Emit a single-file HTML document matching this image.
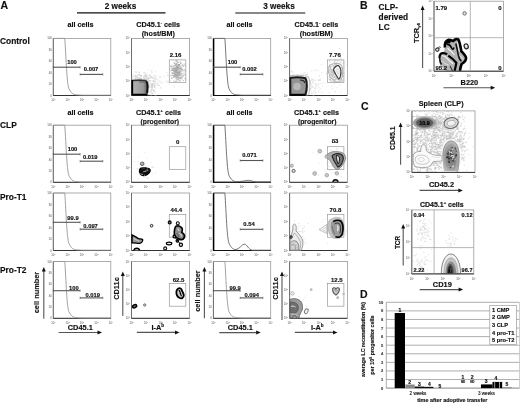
<!DOCTYPE html>
<html><head><meta charset="utf-8"><style>
html,body{margin:0;padding:0;background:#fff;width:520px;height:403px;overflow:hidden}
svg{display:block;filter:blur(0.3px)}
</style></head><body>
<svg width="520" height="403" viewBox="0 0 520 403" font-family="Liberation Sans, Arial, sans-serif">
<rect width="520" height="403" fill="#fff"/>
<text x="0.5" y="9" font-size="10.5" text-anchor="start" font-weight="bold" fill="#111" stroke="#111" stroke-width="0.15" >A</text>
<text x="120.5" y="8.7" font-size="8.2" text-anchor="middle" font-weight="bold" fill="#111" stroke="#111" stroke-width="0.15" >2 weeks</text>
<line x1="77" y1="12.9" x2="165.5" y2="12.9" stroke="#111" stroke-width="1.2"/>
<text x="279" y="8.9" font-size="8.2" text-anchor="middle" font-weight="bold" fill="#111" stroke="#111" stroke-width="0.15" >3 weeks</text>
<line x1="235.3" y1="13" x2="305.2" y2="13" stroke="#111" stroke-width="1.2"/>
<text x="0" y="44.2" font-size="8.4" text-anchor="start" font-weight="bold" fill="#111" stroke="#111" stroke-width="0.15" >Control</text>
<text x="0" y="127.5" font-size="8.4" text-anchor="start" font-weight="bold" fill="#111" stroke="#111" stroke-width="0.15" >CLP</text>
<text x="0" y="200" font-size="8.4" text-anchor="start" font-weight="bold" fill="#111" stroke="#111" stroke-width="0.15" >Pro-T1</text>
<text x="0" y="272.5" font-size="8.4" text-anchor="start" font-weight="bold" fill="#111" stroke="#111" stroke-width="0.15" >Pro-T2</text>
<text x="80.5" y="27.2" font-size="7.2" text-anchor="middle" font-weight="bold" fill="#111" stroke="#111" stroke-width="0.15" >all cells</text>
<text x="239.5" y="27.2" font-size="7.2" text-anchor="middle" font-weight="bold" fill="#111" stroke="#111" stroke-width="0.15" >all cells</text>
<text x="80.5" y="114.5" font-size="7.2" text-anchor="middle" font-weight="bold" fill="#111" stroke="#111" stroke-width="0.15" >all cells</text>
<text x="239.5" y="114.5" font-size="7.2" text-anchor="middle" font-weight="bold" fill="#111" stroke="#111" stroke-width="0.15" >all cells</text>
<text x="158.2" y="26.9" font-size="7.2" text-anchor="middle" font-weight="bold" fill="#111" stroke="#111" stroke-width="0.15" >CD45.1<tspan font-size="4.2" dy="-2.6">-</tspan><tspan dy="2.6"> cells</tspan></text>
<text x="158.3" y="36.0" font-size="7.2" text-anchor="middle" font-weight="bold" fill="#111" stroke="#111" stroke-width="0.15" >(host/BM)</text>
<text x="316.4" y="26.9" font-size="7.2" text-anchor="middle" font-weight="bold" fill="#111" stroke="#111" stroke-width="0.15" >CD45.1<tspan font-size="4.2" dy="-2.6">-</tspan><tspan dy="2.6"> cells</tspan></text>
<text x="316.4" y="36.0" font-size="7.2" text-anchor="middle" font-weight="bold" fill="#111" stroke="#111" stroke-width="0.15" >(host/BM)</text>
<text x="158.5" y="114.5" font-size="7.2" text-anchor="middle" font-weight="bold" fill="#111" stroke="#111" stroke-width="0.15" >CD45.1<tspan font-size="4.2" dy="-2.6">+</tspan><tspan dy="2.6"> cells</tspan></text>
<text x="159.8" y="123.7" font-size="6.8" text-anchor="middle" font-weight="bold" fill="#111" stroke="#111" stroke-width="0.15" >(progenitor)</text>
<text x="316.5" y="114.5" font-size="7.2" text-anchor="middle" font-weight="bold" fill="#111" stroke="#111" stroke-width="0.15" >CD45.1<tspan font-size="4.2" dy="-2.6">+</tspan><tspan dy="2.6"> cells</tspan></text>
<text x="317.2" y="123.7" font-size="6.8" text-anchor="middle" font-weight="bold" fill="#111" stroke="#111" stroke-width="0.15" >(progenitor)</text>
<rect x="53.3" y="38.4" width="57.5" height="57.1" stroke="#9a9a9a" stroke-width="0.8" fill="none"/>
<line x1="53.3" y1="38.4" x2="53.3" y2="95.5" stroke="#666" stroke-width="0.9"/>
<line x1="53.3" y1="95.5" x2="110.8" y2="95.5" stroke="#333" stroke-width="1.0"/>
<text x="53.3" y="101.1" font-size="2.8" text-anchor="middle" font-weight="normal" fill="#555" >10<tspan font-size="2" dy="-1">0</tspan></text>
<text x="67.7" y="101.1" font-size="2.8" text-anchor="middle" font-weight="normal" fill="#555" >10<tspan font-size="2" dy="-1">1</tspan></text>
<text x="82.0" y="101.1" font-size="2.8" text-anchor="middle" font-weight="normal" fill="#555" >10<tspan font-size="2" dy="-1">2</tspan></text>
<text x="96.4" y="101.1" font-size="2.8" text-anchor="middle" font-weight="normal" fill="#555" >10<tspan font-size="2" dy="-1">3</tspan></text>
<text x="110.8" y="101.1" font-size="2.8" text-anchor="middle" font-weight="normal" fill="#555" >10<tspan font-size="2" dy="-1">4</tspan></text>
<text x="51.8" y="96.5" font-size="2.8" text-anchor="end" font-weight="normal" fill="#555" >0</text>
<text x="51.8" y="85.1" font-size="2.8" text-anchor="end" font-weight="normal" fill="#555" >20</text>
<text x="51.8" y="73.7" font-size="2.8" text-anchor="end" font-weight="normal" fill="#555" >40</text>
<text x="51.8" y="62.2" font-size="2.8" text-anchor="end" font-weight="normal" fill="#555" >60</text>
<text x="51.8" y="50.8" font-size="2.8" text-anchor="end" font-weight="normal" fill="#555" >80</text>
<text x="51.8" y="39.4" font-size="2.8" text-anchor="end" font-weight="normal" fill="#555" >100</text>
<path d="M53.3,38.4 H64.8 C66.1,58.4 66.8,82.4 68.8,88.4 C70.8,93.0 73.3,94.6 76.3,94.8 C79.3,95.0 81.3,95.2 83.3,95.2 H110.8" stroke="#999" stroke-width="0.9" fill="none" />
<line x1="53.3" y1="67.2" x2="80.1" y2="67.2" stroke="#555" stroke-width="1.1"/>
<line x1="53.3" y1="66.0" x2="53.3" y2="68.4" stroke="#555" stroke-width="0.6"/>
<line x1="80.1" y1="66.0" x2="80.1" y2="68.4" stroke="#555" stroke-width="0.6"/>
<text x="72.0" y="63.8" font-size="5.8" text-anchor="middle" font-weight="bold" fill="#111" stroke="#111" stroke-width="0.15" >100</text>
<line x1="80.1" y1="74.4" x2="102.8" y2="74.4" stroke="#555" stroke-width="1.1"/>
<line x1="80.1" y1="73.2" x2="80.1" y2="75.60000000000001" stroke="#555" stroke-width="0.6"/>
<line x1="102.8" y1="73.2" x2="102.8" y2="75.60000000000001" stroke="#555" stroke-width="0.6"/>
<text x="91.1" y="71.4" font-size="5.8" text-anchor="middle" font-weight="bold" fill="#111" stroke="#111" stroke-width="0.15" >0.007</text>
<rect x="53.3" y="125.2" width="57.5" height="57.10000000000001" stroke="#9a9a9a" stroke-width="0.8" fill="none"/>
<line x1="53.3" y1="125.2" x2="53.3" y2="182.3" stroke="#666" stroke-width="0.9"/>
<line x1="53.3" y1="182.3" x2="110.8" y2="182.3" stroke="#333" stroke-width="1.0"/>
<text x="53.3" y="187.9" font-size="2.8" text-anchor="middle" font-weight="normal" fill="#555" >10<tspan font-size="2" dy="-1">0</tspan></text>
<text x="67.7" y="187.9" font-size="2.8" text-anchor="middle" font-weight="normal" fill="#555" >10<tspan font-size="2" dy="-1">1</tspan></text>
<text x="82.0" y="187.9" font-size="2.8" text-anchor="middle" font-weight="normal" fill="#555" >10<tspan font-size="2" dy="-1">2</tspan></text>
<text x="96.4" y="187.9" font-size="2.8" text-anchor="middle" font-weight="normal" fill="#555" >10<tspan font-size="2" dy="-1">3</tspan></text>
<text x="110.8" y="187.9" font-size="2.8" text-anchor="middle" font-weight="normal" fill="#555" >10<tspan font-size="2" dy="-1">4</tspan></text>
<text x="51.8" y="183.3" font-size="2.8" text-anchor="end" font-weight="normal" fill="#555" >0</text>
<text x="51.8" y="171.9" font-size="2.8" text-anchor="end" font-weight="normal" fill="#555" >20</text>
<text x="51.8" y="160.5" font-size="2.8" text-anchor="end" font-weight="normal" fill="#555" >40</text>
<text x="51.8" y="149.0" font-size="2.8" text-anchor="end" font-weight="normal" fill="#555" >60</text>
<text x="51.8" y="137.6" font-size="2.8" text-anchor="end" font-weight="normal" fill="#555" >80</text>
<text x="51.8" y="126.2" font-size="2.8" text-anchor="end" font-weight="normal" fill="#555" >100</text>
<path d="M53.3,125.2 H64.8 C66.1,145.2 66.8,169.2 68.8,175.2 C70.8,179.8 73.3,181.4 76.3,181.60000000000002 C79.3,181.8 81.3,182.0 83.3,182.0 H110.8" stroke="#999" stroke-width="0.9" fill="none" />
<line x1="53.3" y1="154.2" x2="80.1" y2="154.2" stroke="#555" stroke-width="1.1"/>
<line x1="53.3" y1="153.0" x2="53.3" y2="155.39999999999998" stroke="#555" stroke-width="0.6"/>
<line x1="80.1" y1="153.0" x2="80.1" y2="155.39999999999998" stroke="#555" stroke-width="0.6"/>
<text x="72.5" y="151.0" font-size="5.8" text-anchor="middle" font-weight="bold" fill="#111" stroke="#111" stroke-width="0.15" >100</text>
<line x1="80.1" y1="161.2" x2="102.8" y2="161.2" stroke="#555" stroke-width="1.1"/>
<line x1="80.1" y1="160.0" x2="80.1" y2="162.39999999999998" stroke="#555" stroke-width="0.6"/>
<line x1="102.8" y1="160.0" x2="102.8" y2="162.39999999999998" stroke="#555" stroke-width="0.6"/>
<text x="90.3" y="158.6" font-size="5.8" text-anchor="middle" font-weight="bold" fill="#111" stroke="#111" stroke-width="0.15" >0.019</text>
<rect x="53.3" y="193" width="57.5" height="57.5" stroke="#9a9a9a" stroke-width="0.8" fill="none"/>
<line x1="53.3" y1="193" x2="53.3" y2="250.5" stroke="#666" stroke-width="0.9"/>
<line x1="53.3" y1="250.5" x2="110.8" y2="250.5" stroke="#333" stroke-width="1.0"/>
<text x="53.3" y="256.1" font-size="2.8" text-anchor="middle" font-weight="normal" fill="#555" >10<tspan font-size="2" dy="-1">0</tspan></text>
<text x="67.7" y="256.1" font-size="2.8" text-anchor="middle" font-weight="normal" fill="#555" >10<tspan font-size="2" dy="-1">1</tspan></text>
<text x="82.0" y="256.1" font-size="2.8" text-anchor="middle" font-weight="normal" fill="#555" >10<tspan font-size="2" dy="-1">2</tspan></text>
<text x="96.4" y="256.1" font-size="2.8" text-anchor="middle" font-weight="normal" fill="#555" >10<tspan font-size="2" dy="-1">3</tspan></text>
<text x="110.8" y="256.1" font-size="2.8" text-anchor="middle" font-weight="normal" fill="#555" >10<tspan font-size="2" dy="-1">4</tspan></text>
<text x="51.8" y="251.5" font-size="2.8" text-anchor="end" font-weight="normal" fill="#555" >0</text>
<text x="51.8" y="240.0" font-size="2.8" text-anchor="end" font-weight="normal" fill="#555" >20</text>
<text x="51.8" y="228.5" font-size="2.8" text-anchor="end" font-weight="normal" fill="#555" >40</text>
<text x="51.8" y="217.0" font-size="2.8" text-anchor="end" font-weight="normal" fill="#555" >60</text>
<text x="51.8" y="205.5" font-size="2.8" text-anchor="end" font-weight="normal" fill="#555" >80</text>
<text x="51.8" y="194.0" font-size="2.8" text-anchor="end" font-weight="normal" fill="#555" >100</text>
<path d="M53.3,193 H64.8 C66.1,213 66.8,237 68.8,243 C70.8,248.0 73.3,249.6 76.3,249.8 C79.3,250.0 81.3,250.2 83.3,250.2 H110.8" stroke="#999" stroke-width="0.9" fill="none" />
<line x1="53.3" y1="222.3" x2="80.1" y2="222.3" stroke="#555" stroke-width="1.1"/>
<line x1="53.3" y1="221.10000000000002" x2="53.3" y2="223.5" stroke="#555" stroke-width="0.6"/>
<line x1="80.1" y1="221.10000000000002" x2="80.1" y2="223.5" stroke="#555" stroke-width="0.6"/>
<text x="73.0" y="219.6" font-size="5.8" text-anchor="middle" font-weight="bold" fill="#111" stroke="#111" stroke-width="0.15" >99.9</text>
<line x1="80.1" y1="229.2" x2="102.8" y2="229.2" stroke="#555" stroke-width="1.1"/>
<line x1="80.1" y1="228.0" x2="80.1" y2="230.39999999999998" stroke="#555" stroke-width="0.6"/>
<line x1="102.8" y1="228.0" x2="102.8" y2="230.39999999999998" stroke="#555" stroke-width="0.6"/>
<text x="90.6" y="227.9" font-size="5.8" text-anchor="middle" font-weight="bold" fill="#111" stroke="#111" stroke-width="0.15" >0.097</text>
<rect x="53.3" y="261.5" width="57.5" height="56.80000000000001" stroke="#9a9a9a" stroke-width="0.8" fill="none"/>
<line x1="53.3" y1="261.5" x2="53.3" y2="318.3" stroke="#666" stroke-width="0.9"/>
<line x1="53.3" y1="318.3" x2="110.8" y2="318.3" stroke="#333" stroke-width="1.0"/>
<text x="53.3" y="323.9" font-size="2.8" text-anchor="middle" font-weight="normal" fill="#555" >10<tspan font-size="2" dy="-1">0</tspan></text>
<text x="67.7" y="323.9" font-size="2.8" text-anchor="middle" font-weight="normal" fill="#555" >10<tspan font-size="2" dy="-1">1</tspan></text>
<text x="82.0" y="323.9" font-size="2.8" text-anchor="middle" font-weight="normal" fill="#555" >10<tspan font-size="2" dy="-1">2</tspan></text>
<text x="96.4" y="323.9" font-size="2.8" text-anchor="middle" font-weight="normal" fill="#555" >10<tspan font-size="2" dy="-1">3</tspan></text>
<text x="110.8" y="323.9" font-size="2.8" text-anchor="middle" font-weight="normal" fill="#555" >10<tspan font-size="2" dy="-1">4</tspan></text>
<text x="51.8" y="319.3" font-size="2.8" text-anchor="end" font-weight="normal" fill="#555" >0</text>
<text x="51.8" y="307.9" font-size="2.8" text-anchor="end" font-weight="normal" fill="#555" >20</text>
<text x="51.8" y="296.6" font-size="2.8" text-anchor="end" font-weight="normal" fill="#555" >40</text>
<text x="51.8" y="285.2" font-size="2.8" text-anchor="end" font-weight="normal" fill="#555" >60</text>
<text x="51.8" y="273.9" font-size="2.8" text-anchor="end" font-weight="normal" fill="#555" >80</text>
<text x="51.8" y="262.5" font-size="2.8" text-anchor="end" font-weight="normal" fill="#555" >100</text>
<path d="M53.3,261.5 H64.8 C66.1,281.5 66.8,305.5 68.8,311.5 C70.8,315.8 73.3,317.40000000000003 76.3,317.6 C79.3,317.8 81.3,318.0 83.3,318.0 H110.8" stroke="#999" stroke-width="0.9" fill="none" />
<line x1="53.3" y1="290.7" x2="80.1" y2="290.7" stroke="#555" stroke-width="1.1"/>
<line x1="53.3" y1="289.5" x2="53.3" y2="291.9" stroke="#555" stroke-width="0.6"/>
<line x1="80.1" y1="289.5" x2="80.1" y2="291.9" stroke="#555" stroke-width="0.6"/>
<text x="73.9" y="289.6" font-size="5.8" text-anchor="middle" font-weight="bold" fill="#111" stroke="#111" stroke-width="0.15" >100</text>
<line x1="80.1" y1="297.9" x2="102.8" y2="297.9" stroke="#555" stroke-width="1.1"/>
<line x1="80.1" y1="296.7" x2="80.1" y2="299.09999999999997" stroke="#555" stroke-width="0.6"/>
<line x1="102.8" y1="296.7" x2="102.8" y2="299.09999999999997" stroke="#555" stroke-width="0.6"/>
<text x="92.7" y="296.5" font-size="5.8" text-anchor="middle" font-weight="bold" fill="#111" stroke="#111" stroke-width="0.15" >0.019</text>
<rect x="213.4" y="38.4" width="57.29999999999998" height="57.1" stroke="#9a9a9a" stroke-width="0.8" fill="none"/>
<line x1="213.4" y1="38.4" x2="213.4" y2="95.5" stroke="#666" stroke-width="0.9"/>
<line x1="213.4" y1="95.5" x2="270.7" y2="95.5" stroke="#333" stroke-width="1.0"/>
<text x="213.4" y="101.1" font-size="2.8" text-anchor="middle" font-weight="normal" fill="#555" >10<tspan font-size="2" dy="-1">0</tspan></text>
<text x="227.7" y="101.1" font-size="2.8" text-anchor="middle" font-weight="normal" fill="#555" >10<tspan font-size="2" dy="-1">1</tspan></text>
<text x="242.1" y="101.1" font-size="2.8" text-anchor="middle" font-weight="normal" fill="#555" >10<tspan font-size="2" dy="-1">2</tspan></text>
<text x="256.4" y="101.1" font-size="2.8" text-anchor="middle" font-weight="normal" fill="#555" >10<tspan font-size="2" dy="-1">3</tspan></text>
<text x="270.7" y="101.1" font-size="2.8" text-anchor="middle" font-weight="normal" fill="#555" >10<tspan font-size="2" dy="-1">4</tspan></text>
<text x="211.9" y="96.5" font-size="2.8" text-anchor="end" font-weight="normal" fill="#555" >0</text>
<text x="211.9" y="85.1" font-size="2.8" text-anchor="end" font-weight="normal" fill="#555" >20</text>
<text x="211.9" y="73.7" font-size="2.8" text-anchor="end" font-weight="normal" fill="#555" >40</text>
<text x="211.9" y="62.2" font-size="2.8" text-anchor="end" font-weight="normal" fill="#555" >60</text>
<text x="211.9" y="50.8" font-size="2.8" text-anchor="end" font-weight="normal" fill="#555" >80</text>
<text x="211.9" y="39.4" font-size="2.8" text-anchor="end" font-weight="normal" fill="#555" >100</text>
<line x1="213.6" y1="38.4" x2="213.6" y2="96.0" stroke="#000" stroke-width="1.5"/>
<line x1="213.4" y1="95.5" x2="270.7" y2="95.5" stroke="#111" stroke-width="1.1"/>
<path d="M213.4,38.4 H224.9 C226.20000000000002,58.4 226.9,82.4 228.9,88.4 C230.9,93.0 233.4,94.6 236.4,94.8 C239.4,95.0 241.4,95.2 243.4,95.2 H270.7" stroke="#666" stroke-width="0.9" fill="none" />
<line x1="213.4" y1="67.2" x2="240.20000000000002" y2="67.2" stroke="#555" stroke-width="1.1"/>
<line x1="213.4" y1="66.0" x2="213.4" y2="68.4" stroke="#555" stroke-width="0.6"/>
<line x1="240.20000000000002" y1="66.0" x2="240.20000000000002" y2="68.4" stroke="#555" stroke-width="0.6"/>
<text x="232.5" y="64.2" font-size="5.8" text-anchor="middle" font-weight="bold" fill="#111" stroke="#111" stroke-width="0.15" >100</text>
<line x1="240.20000000000002" y1="74.3" x2="262.9" y2="74.3" stroke="#555" stroke-width="1.1"/>
<line x1="240.20000000000002" y1="73.1" x2="240.20000000000002" y2="75.5" stroke="#555" stroke-width="0.6"/>
<line x1="262.9" y1="73.1" x2="262.9" y2="75.5" stroke="#555" stroke-width="0.6"/>
<text x="249.5" y="70.7" font-size="5.8" text-anchor="middle" font-weight="bold" fill="#111" stroke="#111" stroke-width="0.15" >0.002</text>
<rect x="213.4" y="125.2" width="57.29999999999998" height="57.10000000000001" stroke="#9a9a9a" stroke-width="0.8" fill="none"/>
<line x1="213.4" y1="125.2" x2="213.4" y2="182.3" stroke="#666" stroke-width="0.9"/>
<line x1="213.4" y1="182.3" x2="270.7" y2="182.3" stroke="#333" stroke-width="1.0"/>
<text x="213.4" y="187.9" font-size="2.8" text-anchor="middle" font-weight="normal" fill="#555" >10<tspan font-size="2" dy="-1">0</tspan></text>
<text x="227.7" y="187.9" font-size="2.8" text-anchor="middle" font-weight="normal" fill="#555" >10<tspan font-size="2" dy="-1">1</tspan></text>
<text x="242.1" y="187.9" font-size="2.8" text-anchor="middle" font-weight="normal" fill="#555" >10<tspan font-size="2" dy="-1">2</tspan></text>
<text x="256.4" y="187.9" font-size="2.8" text-anchor="middle" font-weight="normal" fill="#555" >10<tspan font-size="2" dy="-1">3</tspan></text>
<text x="270.7" y="187.9" font-size="2.8" text-anchor="middle" font-weight="normal" fill="#555" >10<tspan font-size="2" dy="-1">4</tspan></text>
<text x="211.9" y="183.3" font-size="2.8" text-anchor="end" font-weight="normal" fill="#555" >0</text>
<text x="211.9" y="171.9" font-size="2.8" text-anchor="end" font-weight="normal" fill="#555" >20</text>
<text x="211.9" y="160.5" font-size="2.8" text-anchor="end" font-weight="normal" fill="#555" >40</text>
<text x="211.9" y="149.0" font-size="2.8" text-anchor="end" font-weight="normal" fill="#555" >60</text>
<text x="211.9" y="137.6" font-size="2.8" text-anchor="end" font-weight="normal" fill="#555" >80</text>
<text x="211.9" y="126.2" font-size="2.8" text-anchor="end" font-weight="normal" fill="#555" >100</text>
<line x1="213.6" y1="125.2" x2="213.6" y2="182.8" stroke="#000" stroke-width="1.5"/>
<line x1="213.4" y1="182.3" x2="270.7" y2="182.3" stroke="#111" stroke-width="1.1"/>
<path d="M213.4,125.2 H224.9 C226.20000000000002,145.2 226.9,169.2 228.9,175.2 C230.9,179.8 233.4,181.4 236.4,181.60000000000002 L239.4,181.5 C243.4,181.3 245.9,180.3 248.4,180.3 C250.9,180.3 252.4,181.5 256.4,182.0 H270.7" stroke="#666" stroke-width="0.9" fill="none" />
<line x1="240.20000000000002" y1="160.5" x2="262.9" y2="160.5" stroke="#555" stroke-width="1.1"/>
<line x1="240.20000000000002" y1="159.3" x2="240.20000000000002" y2="161.7" stroke="#555" stroke-width="0.6"/>
<line x1="262.9" y1="159.3" x2="262.9" y2="161.7" stroke="#555" stroke-width="0.6"/>
<text x="249.5" y="156.5" font-size="5.8" text-anchor="middle" font-weight="bold" fill="#111" stroke="#111" stroke-width="0.15" >0.071</text>
<rect x="213.4" y="193" width="57.29999999999998" height="57.5" stroke="#9a9a9a" stroke-width="0.8" fill="none"/>
<line x1="213.4" y1="193" x2="213.4" y2="250.5" stroke="#666" stroke-width="0.9"/>
<line x1="213.4" y1="250.5" x2="270.7" y2="250.5" stroke="#333" stroke-width="1.0"/>
<text x="213.4" y="256.1" font-size="2.8" text-anchor="middle" font-weight="normal" fill="#555" >10<tspan font-size="2" dy="-1">0</tspan></text>
<text x="227.7" y="256.1" font-size="2.8" text-anchor="middle" font-weight="normal" fill="#555" >10<tspan font-size="2" dy="-1">1</tspan></text>
<text x="242.1" y="256.1" font-size="2.8" text-anchor="middle" font-weight="normal" fill="#555" >10<tspan font-size="2" dy="-1">2</tspan></text>
<text x="256.4" y="256.1" font-size="2.8" text-anchor="middle" font-weight="normal" fill="#555" >10<tspan font-size="2" dy="-1">3</tspan></text>
<text x="270.7" y="256.1" font-size="2.8" text-anchor="middle" font-weight="normal" fill="#555" >10<tspan font-size="2" dy="-1">4</tspan></text>
<text x="211.9" y="251.5" font-size="2.8" text-anchor="end" font-weight="normal" fill="#555" >0</text>
<text x="211.9" y="240.0" font-size="2.8" text-anchor="end" font-weight="normal" fill="#555" >20</text>
<text x="211.9" y="228.5" font-size="2.8" text-anchor="end" font-weight="normal" fill="#555" >40</text>
<text x="211.9" y="217.0" font-size="2.8" text-anchor="end" font-weight="normal" fill="#555" >60</text>
<text x="211.9" y="205.5" font-size="2.8" text-anchor="end" font-weight="normal" fill="#555" >80</text>
<text x="211.9" y="194.0" font-size="2.8" text-anchor="end" font-weight="normal" fill="#555" >100</text>
<line x1="213.6" y1="193" x2="213.6" y2="251.0" stroke="#000" stroke-width="1.5"/>
<line x1="213.4" y1="250.5" x2="270.7" y2="250.5" stroke="#111" stroke-width="1.1"/>
<path d="M213.4,193 H224.9 C226.20000000000002,213 226.9,237 228.9,243 C230.9,248.0 233.4,249.6 236.4,249.8 L235.4,249.7 C239.4,249.5 241.9,244.1 244.4,244.1 C246.9,244.1 248.4,249.7 252.4,250.2 H270.7" stroke="#666" stroke-width="0.9" fill="none" />
<line x1="240.20000000000002" y1="229.3" x2="262.9" y2="229.3" stroke="#555" stroke-width="1.1"/>
<line x1="240.20000000000002" y1="228.10000000000002" x2="240.20000000000002" y2="230.5" stroke="#555" stroke-width="0.6"/>
<line x1="262.9" y1="228.10000000000002" x2="262.9" y2="230.5" stroke="#555" stroke-width="0.6"/>
<text x="249.0" y="225.7" font-size="5.8" text-anchor="middle" font-weight="bold" fill="#111" stroke="#111" stroke-width="0.15" >0.54</text>
<rect x="213.4" y="261.5" width="57.29999999999998" height="56.80000000000001" stroke="#9a9a9a" stroke-width="0.8" fill="none"/>
<line x1="213.4" y1="261.5" x2="213.4" y2="318.3" stroke="#666" stroke-width="0.9"/>
<line x1="213.4" y1="318.3" x2="270.7" y2="318.3" stroke="#333" stroke-width="1.0"/>
<text x="213.4" y="323.9" font-size="2.8" text-anchor="middle" font-weight="normal" fill="#555" >10<tspan font-size="2" dy="-1">0</tspan></text>
<text x="227.7" y="323.9" font-size="2.8" text-anchor="middle" font-weight="normal" fill="#555" >10<tspan font-size="2" dy="-1">1</tspan></text>
<text x="242.1" y="323.9" font-size="2.8" text-anchor="middle" font-weight="normal" fill="#555" >10<tspan font-size="2" dy="-1">2</tspan></text>
<text x="256.4" y="323.9" font-size="2.8" text-anchor="middle" font-weight="normal" fill="#555" >10<tspan font-size="2" dy="-1">3</tspan></text>
<text x="270.7" y="323.9" font-size="2.8" text-anchor="middle" font-weight="normal" fill="#555" >10<tspan font-size="2" dy="-1">4</tspan></text>
<text x="211.9" y="319.3" font-size="2.8" text-anchor="end" font-weight="normal" fill="#555" >0</text>
<text x="211.9" y="307.9" font-size="2.8" text-anchor="end" font-weight="normal" fill="#555" >20</text>
<text x="211.9" y="296.6" font-size="2.8" text-anchor="end" font-weight="normal" fill="#555" >40</text>
<text x="211.9" y="285.2" font-size="2.8" text-anchor="end" font-weight="normal" fill="#555" >60</text>
<text x="211.9" y="273.9" font-size="2.8" text-anchor="end" font-weight="normal" fill="#555" >80</text>
<text x="211.9" y="262.5" font-size="2.8" text-anchor="end" font-weight="normal" fill="#555" >100</text>
<path d="M213.4,261.5 H224.9 C226.20000000000002,281.5 226.9,305.5 228.9,311.5 C230.9,315.8 233.4,317.40000000000003 236.4,317.6 C239.4,317.8 241.4,318.0 243.4,318.0 H270.7" stroke="#999" stroke-width="0.9" fill="none" />
<line x1="213.4" y1="290.7" x2="240.20000000000002" y2="290.7" stroke="#555" stroke-width="1.1"/>
<line x1="213.4" y1="289.5" x2="213.4" y2="291.9" stroke="#555" stroke-width="0.6"/>
<line x1="240.20000000000002" y1="289.5" x2="240.20000000000002" y2="291.9" stroke="#555" stroke-width="0.6"/>
<text x="235.2" y="290.4" font-size="5.8" text-anchor="middle" font-weight="bold" fill="#111" stroke="#111" stroke-width="0.15" >99.9</text>
<line x1="240.20000000000002" y1="297.9" x2="262.9" y2="297.9" stroke="#555" stroke-width="1.1"/>
<line x1="240.20000000000002" y1="296.7" x2="240.20000000000002" y2="299.09999999999997" stroke="#555" stroke-width="0.6"/>
<line x1="262.9" y1="296.7" x2="262.9" y2="299.09999999999997" stroke="#555" stroke-width="0.6"/>
<text x="251.8" y="297.4" font-size="5.8" text-anchor="middle" font-weight="bold" fill="#111" stroke="#111" stroke-width="0.15" >0.094</text>
<rect x="131.5" y="38.4" width="58.099999999999994" height="57.1" stroke="#9a9a9a" stroke-width="0.8" fill="none"/>
<line x1="131.5" y1="38.4" x2="131.5" y2="95.5" stroke="#666" stroke-width="0.9"/>
<line x1="131.5" y1="95.5" x2="189.6" y2="95.5" stroke="#333" stroke-width="1.0"/>
<text x="131.5" y="101.1" font-size="2.8" text-anchor="middle" font-weight="normal" fill="#555" >10<tspan font-size="2" dy="-1">0</tspan></text>
<text x="146.0" y="101.1" font-size="2.8" text-anchor="middle" font-weight="normal" fill="#555" >10<tspan font-size="2" dy="-1">1</tspan></text>
<text x="160.6" y="101.1" font-size="2.8" text-anchor="middle" font-weight="normal" fill="#555" >10<tspan font-size="2" dy="-1">2</tspan></text>
<text x="175.1" y="101.1" font-size="2.8" text-anchor="middle" font-weight="normal" fill="#555" >10<tspan font-size="2" dy="-1">3</tspan></text>
<text x="189.6" y="101.1" font-size="2.8" text-anchor="middle" font-weight="normal" fill="#555" >10<tspan font-size="2" dy="-1">4</tspan></text>
<text x="130.0" y="96.5" font-size="2.8" text-anchor="end" font-weight="normal" fill="#555" >10<tspan font-size="2" dy="-1">0</tspan></text>
<text x="130.0" y="82.2" font-size="2.8" text-anchor="end" font-weight="normal" fill="#555" >10<tspan font-size="2" dy="-1">1</tspan></text>
<text x="130.0" y="68.0" font-size="2.8" text-anchor="end" font-weight="normal" fill="#555" >10<tspan font-size="2" dy="-1">2</tspan></text>
<text x="130.0" y="53.7" font-size="2.8" text-anchor="end" font-weight="normal" fill="#555" >10<tspan font-size="2" dy="-1">3</tspan></text>
<text x="130.0" y="39.4" font-size="2.8" text-anchor="end" font-weight="normal" fill="#555" >10<tspan font-size="2" dy="-1">4</tspan></text>
<rect x="169.3" y="59.9" width="16.5" height="22.7" stroke="#999" stroke-width="0.7" fill="none"/>
<text x="175.6" y="56.5" font-size="6.0" text-anchor="middle" font-weight="bold" fill="#111" stroke="#111" stroke-width="0.15" >2.16</text>
<rect x="289.6" y="38.4" width="57.799999999999955" height="57.1" stroke="#9a9a9a" stroke-width="0.8" fill="none"/>
<line x1="289.6" y1="38.4" x2="289.6" y2="95.5" stroke="#666" stroke-width="0.9"/>
<line x1="289.6" y1="95.5" x2="347.4" y2="95.5" stroke="#333" stroke-width="1.0"/>
<text x="289.6" y="101.1" font-size="2.8" text-anchor="middle" font-weight="normal" fill="#555" >10<tspan font-size="2" dy="-1">0</tspan></text>
<text x="304.1" y="101.1" font-size="2.8" text-anchor="middle" font-weight="normal" fill="#555" >10<tspan font-size="2" dy="-1">1</tspan></text>
<text x="318.5" y="101.1" font-size="2.8" text-anchor="middle" font-weight="normal" fill="#555" >10<tspan font-size="2" dy="-1">2</tspan></text>
<text x="332.9" y="101.1" font-size="2.8" text-anchor="middle" font-weight="normal" fill="#555" >10<tspan font-size="2" dy="-1">3</tspan></text>
<text x="347.4" y="101.1" font-size="2.8" text-anchor="middle" font-weight="normal" fill="#555" >10<tspan font-size="2" dy="-1">4</tspan></text>
<text x="288.1" y="96.5" font-size="2.8" text-anchor="end" font-weight="normal" fill="#555" >10<tspan font-size="2" dy="-1">0</tspan></text>
<text x="288.1" y="82.2" font-size="2.8" text-anchor="end" font-weight="normal" fill="#555" >10<tspan font-size="2" dy="-1">1</tspan></text>
<text x="288.1" y="68.0" font-size="2.8" text-anchor="end" font-weight="normal" fill="#555" >10<tspan font-size="2" dy="-1">2</tspan></text>
<text x="288.1" y="53.7" font-size="2.8" text-anchor="end" font-weight="normal" fill="#555" >10<tspan font-size="2" dy="-1">3</tspan></text>
<text x="288.1" y="39.4" font-size="2.8" text-anchor="end" font-weight="normal" fill="#555" >10<tspan font-size="2" dy="-1">4</tspan></text>
<rect x="327.40000000000003" y="59.9" width="16.5" height="22.7" stroke="#999" stroke-width="0.7" fill="none"/>
<text x="334.9" y="56.5" font-size="6.0" text-anchor="middle" font-weight="bold" fill="#111" stroke="#111" stroke-width="0.15" >7.76</text>
<rect x="131.5" y="125.2" width="58.099999999999994" height="57.10000000000001" stroke="#9a9a9a" stroke-width="0.8" fill="none"/>
<line x1="131.5" y1="125.2" x2="131.5" y2="182.3" stroke="#666" stroke-width="0.9"/>
<line x1="131.5" y1="182.3" x2="189.6" y2="182.3" stroke="#333" stroke-width="1.0"/>
<text x="131.5" y="187.9" font-size="2.8" text-anchor="middle" font-weight="normal" fill="#555" >10<tspan font-size="2" dy="-1">0</tspan></text>
<text x="146.0" y="187.9" font-size="2.8" text-anchor="middle" font-weight="normal" fill="#555" >10<tspan font-size="2" dy="-1">1</tspan></text>
<text x="160.6" y="187.9" font-size="2.8" text-anchor="middle" font-weight="normal" fill="#555" >10<tspan font-size="2" dy="-1">2</tspan></text>
<text x="175.1" y="187.9" font-size="2.8" text-anchor="middle" font-weight="normal" fill="#555" >10<tspan font-size="2" dy="-1">3</tspan></text>
<text x="189.6" y="187.9" font-size="2.8" text-anchor="middle" font-weight="normal" fill="#555" >10<tspan font-size="2" dy="-1">4</tspan></text>
<text x="130.0" y="183.3" font-size="2.8" text-anchor="end" font-weight="normal" fill="#555" >10<tspan font-size="2" dy="-1">0</tspan></text>
<text x="130.0" y="169.0" font-size="2.8" text-anchor="end" font-weight="normal" fill="#555" >10<tspan font-size="2" dy="-1">1</tspan></text>
<text x="130.0" y="154.8" font-size="2.8" text-anchor="end" font-weight="normal" fill="#555" >10<tspan font-size="2" dy="-1">2</tspan></text>
<text x="130.0" y="140.5" font-size="2.8" text-anchor="end" font-weight="normal" fill="#555" >10<tspan font-size="2" dy="-1">3</tspan></text>
<text x="130.0" y="126.2" font-size="2.8" text-anchor="end" font-weight="normal" fill="#555" >10<tspan font-size="2" dy="-1">4</tspan></text>
<rect x="169.3" y="146.7" width="16.5" height="22.7" stroke="#999" stroke-width="0.7" fill="none"/>
<text x="177.75" y="143.6" font-size="6.0" text-anchor="middle" font-weight="bold" fill="#111" stroke="#111" stroke-width="0.15" >0</text>
<rect x="289.6" y="125.2" width="57.799999999999955" height="57.10000000000001" stroke="#9a9a9a" stroke-width="0.8" fill="none"/>
<line x1="289.6" y1="125.2" x2="289.6" y2="182.3" stroke="#666" stroke-width="0.9"/>
<line x1="289.6" y1="182.3" x2="347.4" y2="182.3" stroke="#333" stroke-width="1.0"/>
<text x="289.6" y="187.9" font-size="2.8" text-anchor="middle" font-weight="normal" fill="#555" >10<tspan font-size="2" dy="-1">0</tspan></text>
<text x="304.1" y="187.9" font-size="2.8" text-anchor="middle" font-weight="normal" fill="#555" >10<tspan font-size="2" dy="-1">1</tspan></text>
<text x="318.5" y="187.9" font-size="2.8" text-anchor="middle" font-weight="normal" fill="#555" >10<tspan font-size="2" dy="-1">2</tspan></text>
<text x="332.9" y="187.9" font-size="2.8" text-anchor="middle" font-weight="normal" fill="#555" >10<tspan font-size="2" dy="-1">3</tspan></text>
<text x="347.4" y="187.9" font-size="2.8" text-anchor="middle" font-weight="normal" fill="#555" >10<tspan font-size="2" dy="-1">4</tspan></text>
<text x="288.1" y="183.3" font-size="2.8" text-anchor="end" font-weight="normal" fill="#555" >10<tspan font-size="2" dy="-1">0</tspan></text>
<text x="288.1" y="169.0" font-size="2.8" text-anchor="end" font-weight="normal" fill="#555" >10<tspan font-size="2" dy="-1">1</tspan></text>
<text x="288.1" y="154.8" font-size="2.8" text-anchor="end" font-weight="normal" fill="#555" >10<tspan font-size="2" dy="-1">2</tspan></text>
<text x="288.1" y="140.5" font-size="2.8" text-anchor="end" font-weight="normal" fill="#555" >10<tspan font-size="2" dy="-1">3</tspan></text>
<text x="288.1" y="126.2" font-size="2.8" text-anchor="end" font-weight="normal" fill="#555" >10<tspan font-size="2" dy="-1">4</tspan></text>
<rect x="327.40000000000003" y="146.7" width="16.5" height="22.7" stroke="#999" stroke-width="0.7" fill="none"/>
<text x="335.0" y="143.3" font-size="6.0" text-anchor="middle" font-weight="bold" fill="#111" stroke="#111" stroke-width="0.15" >83</text>
<rect x="131.5" y="193" width="58.099999999999994" height="57.5" stroke="#9a9a9a" stroke-width="0.8" fill="none"/>
<line x1="131.5" y1="193" x2="131.5" y2="250.5" stroke="#666" stroke-width="0.9"/>
<line x1="131.5" y1="250.5" x2="189.6" y2="250.5" stroke="#333" stroke-width="1.0"/>
<text x="131.5" y="256.1" font-size="2.8" text-anchor="middle" font-weight="normal" fill="#555" >10<tspan font-size="2" dy="-1">0</tspan></text>
<text x="146.0" y="256.1" font-size="2.8" text-anchor="middle" font-weight="normal" fill="#555" >10<tspan font-size="2" dy="-1">1</tspan></text>
<text x="160.6" y="256.1" font-size="2.8" text-anchor="middle" font-weight="normal" fill="#555" >10<tspan font-size="2" dy="-1">2</tspan></text>
<text x="175.1" y="256.1" font-size="2.8" text-anchor="middle" font-weight="normal" fill="#555" >10<tspan font-size="2" dy="-1">3</tspan></text>
<text x="189.6" y="256.1" font-size="2.8" text-anchor="middle" font-weight="normal" fill="#555" >10<tspan font-size="2" dy="-1">4</tspan></text>
<text x="130.0" y="251.5" font-size="2.8" text-anchor="end" font-weight="normal" fill="#555" >10<tspan font-size="2" dy="-1">0</tspan></text>
<text x="130.0" y="237.1" font-size="2.8" text-anchor="end" font-weight="normal" fill="#555" >10<tspan font-size="2" dy="-1">1</tspan></text>
<text x="130.0" y="222.8" font-size="2.8" text-anchor="end" font-weight="normal" fill="#555" >10<tspan font-size="2" dy="-1">2</tspan></text>
<text x="130.0" y="208.4" font-size="2.8" text-anchor="end" font-weight="normal" fill="#555" >10<tspan font-size="2" dy="-1">3</tspan></text>
<text x="130.0" y="194.0" font-size="2.8" text-anchor="end" font-weight="normal" fill="#555" >10<tspan font-size="2" dy="-1">4</tspan></text>
<rect x="169.3" y="214.5" width="16.5" height="22.7" stroke="#999" stroke-width="0.7" fill="none"/>
<text x="176.35" y="212.0" font-size="6.0" text-anchor="middle" font-weight="bold" fill="#111" stroke="#111" stroke-width="0.15" >44.4</text>
<rect x="289.6" y="193" width="57.799999999999955" height="57.5" stroke="#9a9a9a" stroke-width="0.8" fill="none"/>
<line x1="289.6" y1="193" x2="289.6" y2="250.5" stroke="#666" stroke-width="0.9"/>
<line x1="289.6" y1="250.5" x2="347.4" y2="250.5" stroke="#333" stroke-width="1.0"/>
<text x="289.6" y="256.1" font-size="2.8" text-anchor="middle" font-weight="normal" fill="#555" >10<tspan font-size="2" dy="-1">0</tspan></text>
<text x="304.1" y="256.1" font-size="2.8" text-anchor="middle" font-weight="normal" fill="#555" >10<tspan font-size="2" dy="-1">1</tspan></text>
<text x="318.5" y="256.1" font-size="2.8" text-anchor="middle" font-weight="normal" fill="#555" >10<tspan font-size="2" dy="-1">2</tspan></text>
<text x="332.9" y="256.1" font-size="2.8" text-anchor="middle" font-weight="normal" fill="#555" >10<tspan font-size="2" dy="-1">3</tspan></text>
<text x="347.4" y="256.1" font-size="2.8" text-anchor="middle" font-weight="normal" fill="#555" >10<tspan font-size="2" dy="-1">4</tspan></text>
<text x="288.1" y="251.5" font-size="2.8" text-anchor="end" font-weight="normal" fill="#555" >10<tspan font-size="2" dy="-1">0</tspan></text>
<text x="288.1" y="237.1" font-size="2.8" text-anchor="end" font-weight="normal" fill="#555" >10<tspan font-size="2" dy="-1">1</tspan></text>
<text x="288.1" y="222.8" font-size="2.8" text-anchor="end" font-weight="normal" fill="#555" >10<tspan font-size="2" dy="-1">2</tspan></text>
<text x="288.1" y="208.4" font-size="2.8" text-anchor="end" font-weight="normal" fill="#555" >10<tspan font-size="2" dy="-1">3</tspan></text>
<text x="288.1" y="194.0" font-size="2.8" text-anchor="end" font-weight="normal" fill="#555" >10<tspan font-size="2" dy="-1">4</tspan></text>
<rect x="327.40000000000003" y="214.5" width="16.5" height="22.7" stroke="#999" stroke-width="0.7" fill="none"/>
<text x="335.45" y="212.0" font-size="6.0" text-anchor="middle" font-weight="bold" fill="#111" stroke="#111" stroke-width="0.15" >70.8</text>
<rect x="131.5" y="261.5" width="58.099999999999994" height="56.80000000000001" stroke="#9a9a9a" stroke-width="0.8" fill="none"/>
<line x1="131.5" y1="261.5" x2="131.5" y2="318.3" stroke="#666" stroke-width="0.9"/>
<line x1="131.5" y1="318.3" x2="189.6" y2="318.3" stroke="#333" stroke-width="1.0"/>
<text x="131.5" y="323.9" font-size="2.8" text-anchor="middle" font-weight="normal" fill="#555" >10<tspan font-size="2" dy="-1">0</tspan></text>
<text x="146.0" y="323.9" font-size="2.8" text-anchor="middle" font-weight="normal" fill="#555" >10<tspan font-size="2" dy="-1">1</tspan></text>
<text x="160.6" y="323.9" font-size="2.8" text-anchor="middle" font-weight="normal" fill="#555" >10<tspan font-size="2" dy="-1">2</tspan></text>
<text x="175.1" y="323.9" font-size="2.8" text-anchor="middle" font-weight="normal" fill="#555" >10<tspan font-size="2" dy="-1">3</tspan></text>
<text x="189.6" y="323.9" font-size="2.8" text-anchor="middle" font-weight="normal" fill="#555" >10<tspan font-size="2" dy="-1">4</tspan></text>
<text x="130.0" y="319.3" font-size="2.8" text-anchor="end" font-weight="normal" fill="#555" >10<tspan font-size="2" dy="-1">0</tspan></text>
<text x="130.0" y="305.1" font-size="2.8" text-anchor="end" font-weight="normal" fill="#555" >10<tspan font-size="2" dy="-1">1</tspan></text>
<text x="130.0" y="290.9" font-size="2.8" text-anchor="end" font-weight="normal" fill="#555" >10<tspan font-size="2" dy="-1">2</tspan></text>
<text x="130.0" y="276.7" font-size="2.8" text-anchor="end" font-weight="normal" fill="#555" >10<tspan font-size="2" dy="-1">3</tspan></text>
<text x="130.0" y="262.5" font-size="2.8" text-anchor="end" font-weight="normal" fill="#555" >10<tspan font-size="2" dy="-1">4</tspan></text>
<rect x="169.3" y="283.5" width="16.5" height="22.7" stroke="#999" stroke-width="0.7" fill="none"/>
<text x="178.5" y="281.7" font-size="6.0" text-anchor="middle" font-weight="bold" fill="#111" stroke="#111" stroke-width="0.15" >62.5</text>
<rect x="289.6" y="261.5" width="57.799999999999955" height="56.80000000000001" stroke="#9a9a9a" stroke-width="0.8" fill="none"/>
<line x1="289.6" y1="261.5" x2="289.6" y2="318.3" stroke="#666" stroke-width="0.9"/>
<line x1="289.6" y1="318.3" x2="347.4" y2="318.3" stroke="#333" stroke-width="1.0"/>
<text x="289.6" y="323.9" font-size="2.8" text-anchor="middle" font-weight="normal" fill="#555" >10<tspan font-size="2" dy="-1">0</tspan></text>
<text x="304.1" y="323.9" font-size="2.8" text-anchor="middle" font-weight="normal" fill="#555" >10<tspan font-size="2" dy="-1">1</tspan></text>
<text x="318.5" y="323.9" font-size="2.8" text-anchor="middle" font-weight="normal" fill="#555" >10<tspan font-size="2" dy="-1">2</tspan></text>
<text x="332.9" y="323.9" font-size="2.8" text-anchor="middle" font-weight="normal" fill="#555" >10<tspan font-size="2" dy="-1">3</tspan></text>
<text x="347.4" y="323.9" font-size="2.8" text-anchor="middle" font-weight="normal" fill="#555" >10<tspan font-size="2" dy="-1">4</tspan></text>
<text x="288.1" y="319.3" font-size="2.8" text-anchor="end" font-weight="normal" fill="#555" >10<tspan font-size="2" dy="-1">0</tspan></text>
<text x="288.1" y="305.1" font-size="2.8" text-anchor="end" font-weight="normal" fill="#555" >10<tspan font-size="2" dy="-1">1</tspan></text>
<text x="288.1" y="290.9" font-size="2.8" text-anchor="end" font-weight="normal" fill="#555" >10<tspan font-size="2" dy="-1">2</tspan></text>
<text x="288.1" y="276.7" font-size="2.8" text-anchor="end" font-weight="normal" fill="#555" >10<tspan font-size="2" dy="-1">3</tspan></text>
<text x="288.1" y="262.5" font-size="2.8" text-anchor="end" font-weight="normal" fill="#555" >10<tspan font-size="2" dy="-1">4</tspan></text>
<rect x="327.40000000000003" y="283.5" width="16.5" height="22.7" stroke="#999" stroke-width="0.7" fill="none"/>
<text x="336.8" y="282.4" font-size="6.0" text-anchor="middle" font-weight="bold" fill="#111" stroke="#111" stroke-width="0.15" >12.5</text>
<path d="M132.7,78.9h0.5 M146.0,76.7h0.5 M132.0,77.8h0.5 M142.9,80.7h0.5 M132.7,74.8h0.5 M144.2,79.2h0.5 M149.2,80.5h0.5 M139.4,77.3h0.5 M155.4,77.3h0.5 M135.3,75.2h0.5 M140.6,78.4h0.5 M137.9,77.8h0.5 M141.6,79.7h0.5 M146.6,78.5h0.5 M135.3,78.5h0.5 M159.8,77.9h0.5 M145.1,74.7h0.5 M138.3,79.7h0.5 M139.4,78.9h0.5 M140.6,75.5h0.5 M143.4,76.0h0.5 M151.2,76.7h0.5 M144.1,78.0h0.5 M145.7,76.5h0.5 M146.0,77.7h0.5 M147.6,79.6h0.5 M140.8,76.0h0.5 M144.6,79.2h0.5 M149.9,77.1h0.5 M143.3,79.3h0.5 M141.7,78.5h0.5 M141.1,76.5h0.5 M133.9,77.0h0.5 M143.5,81.8h0.5 M145.9,80.6h0.5 M144.7,79.7h0.5 M141.1,79.9h0.5 M150.6,77.2h0.5 M135.8,82.9h0.5 M141.5,80.4h0.5 M145.2,75.2h0.5 M154.6,82.4h0.5 M141.1,79.9h0.5 M140.8,75.8h0.5 M139.3,78.9h0.5 M146.7,79.8h0.5 M140.4,81.4h0.5 M135.4,80.0h0.5 M146.7,77.3h0.5 M141.4,79.3h0.5 M149.3,75.5h0.5 M140.0,79.6h0.5 M139.1,72.1h0.5 M144.8,83.8h0.5 M146.0,75.7h0.5 M137.5,78.6h0.5 M154.9,79.5h0.5 M140.7,81.9h0.5 M139.5,82.7h0.5 M135.9,76.8h0.5 M144.3,81.6h0.5 M143.9,78.8h0.5 M136.3,76.7h0.5 M143.5,77.2h0.5 M144.7,78.2h0.5 M138.0,78.3h0.5 M142.6,80.1h0.5 M137.1,77.4h0.5 M148.7,77.6h0.5 M137.1,74.9h0.5 M141.0,78.5h0.5 M153.1,78.6h0.5 M135.3,71.9h0.5 M148.5,78.5h0.5 M146.7,79.4h0.5 M138.9,72.7h0.5 M139.2,74.1h0.5 M143.6,72.7h0.5 M134.6,81.0h0.5 M149.9,75.0h0.5 M145.1,75.5h0.5 M135.8,76.3h0.5 M132.9,76.3h0.5 M147.5,79.7h0.5 M152.3,77.8h0.5 M139.2,75.5h0.5 M139.3,74.7h0.5 M148.6,80.1h0.5 M148.0,78.6h0.5 M135.7,78.2h0.5 M137.8,75.2h0.5 M140.0,78.4h0.5 M137.2,81.6h0.5 M141.1,79.5h0.5 M147.3,75.9h0.5 M135.9,81.3h0.5 M142.0,80.5h0.5 M144.6,72.8h0.5 M144.3,76.3h0.5 M135.5,76.9h0.5 M144.6,80.2h0.5 M146.1,73.9h0.5 M136.5,72.1h0.5 M139.4,79.5h0.5 M135.4,78.6h0.5 M141.4,80.5h0.5 M135.1,75.9h0.5 M135.4,82.4h0.5" stroke="#c8c8c8" stroke-width="0.66" fill="none" stroke-linecap="round"/>
<path d="M154.3,86.4h0.5 M151.7,87.6h0.5 M151.6,86.0h0.5 M150.0,80.7h0.5 M152.6,87.3h0.5 M150.4,87.3h0.5 M152.1,83.8h0.5 M151.6,88.2h0.5 M148.8,83.1h0.5 M148.0,81.7h0.5 M153.7,75.2h0.5 M150.2,83.9h0.5 M149.1,87.5h0.5 M154.4,87.4h0.5 M150.6,83.9h0.5 M150.6,91.6h0.5 M149.8,81.3h0.5 M147.2,81.5h0.5 M146.8,92.5h0.5 M152.1,85.8h0.5 M155.4,83.7h0.5 M153.3,91.0h0.5 M146.4,79.2h0.5 M148.2,91.5h0.5 M154.9,80.9h0.5 M154.1,85.1h0.5 M149.8,84.2h0.5 M150.0,77.9h0.5 M148.0,80.8h0.5 M159.2,85.3h0.5 M145.8,85.0h0.5 M152.7,83.4h0.5 M153.8,89.7h0.5 M146.1,84.3h0.5 M150.3,87.1h0.5 M151.4,85.3h0.5 M151.6,84.1h0.5 M148.3,94.6h0.5 M152.1,89.2h0.5 M146.2,86.2h0.5 M153.5,80.5h0.5 M154.3,85.1h0.5 M152.2,86.3h0.5 M151.7,93.0h0.5 M149.8,94.8h0.5 M148.7,82.3h0.5 M153.1,81.7h0.5 M149.9,91.5h0.5 M154.6,78.1h0.5 M154.6,85.8h0.5 M149.2,85.5h0.5 M147.5,85.7h0.5 M150.4,86.3h0.5 M154.5,85.8h0.5 M146.6,92.3h0.5 M147.8,84.8h0.5 M150.6,85.3h0.5 M148.0,85.8h0.5 M157.6,84.0h0.5 M150.6,92.6h0.5 M153.2,90.8h0.5 M153.6,77.2h0.5 M148.4,87.6h0.5 M152.5,93.5h0.5 M152.4,85.8h0.5 M151.1,85.9h0.5 M151.7,90.4h0.5 M150.0,82.9h0.5 M148.4,92.5h0.5 M154.8,92.0h0.5 M153.6,91.2h0.5 M151.0,90.3h0.5 M147.8,86.0h0.5 M148.8,90.6h0.5 M149.3,86.5h0.5 M152.2,93.8h0.5 M148.6,82.3h0.5 M153.5,81.5h0.5 M152.4,84.1h0.5 M150.7,77.9h0.5 M153.1,84.5h0.5 M152.2,85.3h0.5 M151.3,95.0h0.5 M150.9,89.3h0.5" stroke="#c8c8c8" stroke-width="0.66" fill="none" stroke-linecap="round"/>
<path d="M160.1,76.5h0.5 M157.0,79.0h0.5 M146.0,87.2h0.5 M161.3,82.4h0.5 M148.7,70.0h0.5 M159.9,81.4h0.5 M142.5,81.6h0.5 M143.8,81.8h0.5 M157.1,84.1h0.5 M157.7,83.0h0.5 M146.9,79.7h0.5 M151.9,80.6h0.5 M158.2,85.7h0.5 M169.1,66.6h0.5 M159.2,80.8h0.5 M174.2,87.6h0.5 M142.8,84.4h0.5 M151.8,88.0h0.5 M147.6,81.4h0.5 M154.9,81.4h0.5 M151.3,71.0h0.5 M159.7,88.0h0.5 M155.5,75.9h0.5 M157.6,85.4h0.5 M154.6,81.9h0.5 M167.3,75.3h0.5 M151.5,70.6h0.5 M150.4,77.6h0.5 M148.3,77.8h0.5 M170.4,80.8h0.5 M155.1,95.2h0.5 M155.5,71.6h0.5 M159.2,76.4h0.5 M169.1,74.5h0.5 M151.4,72.4h0.5 M156.8,75.9h0.5 M155.5,79.7h0.5 M151.1,87.7h0.5 M163.5,82.4h0.5 M148.8,75.6h0.5 M152.3,77.3h0.5 M150.4,75.4h0.5 M148.2,80.8h0.5 M167.5,82.0h0.5 M151.9,72.3h0.5 M157.7,81.8h0.5 M146.2,75.5h0.5 M155.7,88.1h0.5 M161.0,83.2h0.5 M153.4,83.9h0.5 M155.9,95.0h0.5 M146.9,79.8h0.5 M166.1,80.4h0.5 M167.4,81.7h0.5 M157.2,79.8h0.5 M145.0,76.2h0.5 M173.7,85.9h0.5 M160.8,87.7h0.5 M160.6,88.1h0.5" stroke="#dadada" stroke-width="0.6" fill="none" stroke-linecap="round"/>
<path d="M176.1,69.9h0.5 M180.1,69.2h0.5 M172.7,69.9h0.5 M175.3,74.1h0.5 M174.7,65.7h0.5 M175.9,78.8h0.5 M176.8,71.8h0.5 M177.0,72.5h0.5 M180.0,78.0h0.5 M171.7,77.8h0.5 M177.0,69.4h0.5 M184.7,70.2h0.5 M183.2,75.8h0.5 M173.7,73.4h0.5 M179.4,70.4h0.5 M169.6,69.3h0.5 M176.4,65.5h0.5 M182.8,69.8h0.5 M175.7,69.5h0.5 M174.5,67.1h0.5 M177.3,72.6h0.5 M175.4,70.5h0.5 M172.6,73.6h0.5 M174.6,72.1h0.5 M174.1,68.4h0.5 M177.7,64.9h0.5 M184.9,70.8h0.5 M176.8,67.3h0.5 M182.1,77.9h0.5 M178.0,64.2h0.5 M175.4,74.1h0.5 M175.4,65.1h0.5 M173.2,67.1h0.5 M177.0,67.8h0.5 M182.7,65.8h0.5 M178.1,71.4h0.5 M176.6,76.2h0.5 M175.9,69.4h0.5 M175.8,70.5h0.5 M181.1,74.9h0.5 M172.7,68.8h0.5 M174.4,75.1h0.5 M177.7,75.4h0.5 M176.8,61.5h0.5 M178.4,72.1h0.5 M178.6,64.5h0.5 M177.3,67.6h0.5 M174.8,72.8h0.5 M178.1,66.5h0.5 M175.2,76.6h0.5 M174.2,73.1h0.5 M182.4,76.8h0.5 M178.2,72.0h0.5 M173.6,68.7h0.5 M175.9,67.1h0.5 M177.2,69.0h0.5 M178.1,78.2h0.5 M179.4,73.1h0.5 M176.2,63.4h0.5 M176.6,73.7h0.5 M173.8,77.3h0.5 M175.9,72.9h0.5 M175.9,64.7h0.5 M183.6,65.2h0.5 M179.9,68.2h0.5 M177.9,67.0h0.5 M175.7,75.6h0.5 M183.2,66.8h0.5 M177.0,75.7h0.5 M175.0,74.6h0.5 M174.5,74.0h0.5 M178.4,77.1h0.5 M178.2,65.0h0.5 M179.1,65.5h0.5 M179.4,78.6h0.5 M178.9,68.2h0.5 M180.8,71.8h0.5 M173.0,69.2h0.5 M181.5,69.5h0.5 M177.4,69.3h0.5 M171.6,68.4h0.5 M178.1,72.0h0.5 M176.4,60.3h0.5 M180.9,74.6h0.5 M180.3,77.5h0.5 M175.6,68.0h0.5 M178.0,79.4h0.5 M171.6,69.9h0.5 M174.7,73.8h0.5 M181.7,69.5h0.5 M173.0,71.2h0.5 M176.1,63.3h0.5 M179.8,68.4h0.5 M179.2,64.4h0.5 M180.5,63.8h0.5 M180.4,61.9h0.5 M181.4,69.1h0.5 M172.0,69.8h0.5 M178.1,66.0h0.5 M175.4,72.3h0.5 M175.6,73.1h0.5 M178.0,76.0h0.5 M179.6,72.6h0.5 M180.5,75.8h0.5 M177.3,67.9h0.5 M180.3,73.1h0.5 M170.9,65.5h0.5 M178.5,71.5h0.5 M177.9,74.2h0.5 M177.5,78.9h0.5 M175.1,69.0h0.5 M178.0,74.7h0.5 M179.5,78.4h0.5 M175.5,76.8h0.5 M178.5,65.8h0.5 M176.6,81.4h0.5 M179.5,68.7h0.5 M174.8,71.4h0.5 M184.4,74.7h0.5 M178.0,66.3h0.5 M173.2,70.0h0.5 M175.7,67.9h0.5 M180.6,71.4h0.5 M173.0,77.4h0.5 M176.0,64.4h0.5 M178.0,73.4h0.5 M175.9,74.5h0.5 M179.6,66.6h0.5 M176.6,77.2h0.5 M180.2,78.0h0.5 M182.9,71.1h0.5 M180.4,63.4h0.5 M179.2,73.0h0.5 M176.7,68.8h0.5 M173.4,71.7h0.5 M181.1,69.2h0.5 M178.7,67.7h0.5 M177.8,66.0h0.5 M178.2,69.9h0.5 M178.0,68.0h0.5 M173.2,69.4h0.5 M180.3,78.9h0.5 M176.0,75.0h0.5 M179.4,73.0h0.5 M172.0,72.6h0.5 M173.9,76.9h0.5 M179.5,74.1h0.5 M179.2,64.6h0.5 M180.1,71.4h0.5 M176.4,67.4h0.5 M173.7,68.8h0.5 M177.7,67.8h0.5 M175.0,68.2h0.5 M174.2,75.4h0.5 M176.1,75.3h0.5 M173.3,75.6h0.5 M176.9,74.3h0.5 M176.7,66.6h0.5 M180.9,68.8h0.5 M176.5,66.6h0.5 M177.7,69.1h0.5 M177.9,72.7h0.5 M174.8,63.9h0.5 M178.4,75.6h0.5 M179.2,65.3h0.5 M178.9,72.9h0.5 M177.9,73.1h0.5 M176.0,72.1h0.5 M180.0,68.5h0.5 M172.4,70.5h0.5 M177.6,61.8h0.5 M174.8,73.9h0.5 M176.5,71.5h0.5 M173.0,75.5h0.5 M182.6,70.0h0.5 M174.7,65.2h0.5 M179.8,71.5h0.5 M174.5,77.1h0.5 M179.4,74.0h0.5 M171.4,70.5h0.5 M179.0,64.9h0.5 M180.0,78.2h0.5 M180.3,67.4h0.5 M174.7,75.7h0.5 M180.2,77.1h0.5 M180.8,70.5h0.5 M175.7,61.7h0.5 M175.5,68.6h0.5 M179.1,72.9h0.5 M172.6,67.4h0.5 M173.5,81.1h0.5 M174.7,75.3h0.5 M183.1,80.5h0.5 M181.6,79.1h0.5 M173.0,69.3h0.5 M174.7,69.5h0.5 M178.8,64.8h0.5 M181.3,77.5h0.5 M175.4,81.3h0.5 M177.2,77.5h0.5 M178.0,68.2h0.5 M175.8,70.4h0.5 M179.0,71.6h0.5 M184.6,70.0h0.5 M175.5,67.4h0.5 M174.5,63.8h0.5 M173.8,75.5h0.5 M177.2,70.1h0.5 M178.1,76.3h0.5 M179.0,74.9h0.5 M175.2,69.7h0.5 M174.5,70.5h0.5 M174.4,69.1h0.5 M176.4,69.9h0.5 M176.1,68.5h0.5 M181.2,69.3h0.5 M173.8,72.0h0.5 M173.5,65.6h0.5 M177.3,62.7h0.5 M180.3,62.6h0.5 M174.1,73.9h0.5 M170.6,66.6h0.5 M173.1,70.0h0.5 M170.7,75.5h0.5 M176.5,72.5h0.5 M176.0,60.4h0.5 M176.5,64.3h0.5 M177.0,66.7h0.5 M176.0,69.9h0.5 M179.5,74.8h0.5 M173.8,70.9h0.5 M181.7,73.5h0.5 M174.7,70.4h0.5 M175.9,75.7h0.5 M177.1,72.9h0.5 M184.1,64.1h0.5 M173.8,62.3h0.5 M171.9,75.3h0.5 M177.9,79.2h0.5 M170.7,66.6h0.5 M181.6,76.1h0.5 M179.8,75.4h0.5 M177.1,70.9h0.5 M177.1,75.2h0.5 M176.5,72.6h0.5 M181.7,65.4h0.5 M174.6,73.8h0.5 M176.2,70.2h0.5 M183.7,73.1h0.5 M175.7,76.5h0.5 M185.1,65.5h0.5 M174.9,71.6h0.5 M175.0,81.9h0.5 M178.7,69.0h0.5 M178.6,67.0h0.5 M175.1,71.5h0.5 M178.3,77.8h0.5 M179.4,80.6h0.5 M178.4,71.7h0.5 M176.6,66.7h0.5 M182.2,65.1h0.5 M176.6,68.4h0.5 M175.8,71.7h0.5 M177.5,75.2h0.5 M176.5,67.8h0.5 M178.0,74.3h0.5 M174.1,63.4h0.5 M173.7,76.3h0.5 M180.2,66.6h0.5 M177.4,75.2h0.5 M181.3,67.7h0.5 M176.2,78.0h0.5 M184.7,78.6h0.5 M173.3,73.2h0.5 M176.0,70.7h0.5 M174.9,68.6h0.5 M177.0,80.0h0.5 M179.2,73.1h0.5 M177.1,67.2h0.5 M176.3,77.2h0.5 M179.7,80.8h0.5 M177.8,70.9h0.5 M171.8,73.0h0.5 M171.5,78.6h0.5 M175.0,71.0h0.5 M172.7,68.5h0.5 M174.0,76.7h0.5 M177.8,65.1h0.5 M170.8,70.7h0.5 M175.4,65.4h0.5 M178.9,70.1h0.5 M177.4,68.0h0.5 M175.2,68.7h0.5 M171.9,74.1h0.5 M178.3,62.4h0.5 M177.3,76.8h0.5 M177.8,77.5h0.5 M176.1,71.0h0.5 M172.8,66.5h0.5 M171.2,66.5h0.5 M177.8,73.6h0.5 M180.7,71.7h0.5 M173.8,73.2h0.5 M176.5,79.9h0.5 M183.3,75.8h0.5" stroke="#a4a4a4" stroke-width="0.6" fill="none" stroke-linecap="round"/>
<path d="M170.2,67.8h0.5 M178.1,66.3h0.5 M180.1,77.5h0.5 M182.0,73.8h0.5 M171.7,65.3h0.5 M176.3,82.6h0.5 M186.4,79.8h0.5 M179.2,77.4h0.5 M181.9,82.3h0.5 M182.1,59.7h0.5 M182.7,75.1h0.5 M174.2,76.2h0.5 M178.7,71.6h0.5 M166.9,72.9h0.5 M180.3,71.6h0.5 M167.5,75.7h0.5 M181.3,73.4h0.5 M179.6,69.2h0.5 M173.1,76.2h0.5 M174.9,73.5h0.5 M177.8,59.0h0.5 M177.6,78.1h0.5 M172.8,70.1h0.5 M163.5,76.4h0.5 M173.4,77.5h0.5 M185.2,70.7h0.5 M182.9,74.0h0.5 M175.8,69.8h0.5 M171.9,82.3h0.5 M182.3,64.0h0.5 M182.1,66.2h0.5 M168.0,81.6h0.5 M169.3,81.5h0.5 M178.2,79.2h0.5 M180.1,81.2h0.5 M179.1,76.6h0.5 M178.5,80.8h0.5 M174.7,80.1h0.5 M186.0,71.5h0.5" stroke="#cfcfcf" stroke-width="0.6" fill="none" stroke-linecap="round"/>
<defs><linearGradient id="g1" x1="0" x2="1" y1="0" y2="0"><stop offset="0" stop-color="#b4b4b4"/><stop offset="0.7" stop-color="#9a9a9a"/><stop offset="1" stop-color="#555"/></linearGradient></defs>
<path d="M132,80.2 C136,79.8 142,79.9 145.5,80.3 C147.6,80.9 148.3,83 148.1,87 C148,90 147.7,92.5 147.2,95 L132,95 Z" stroke="#444" stroke-width="0.9" fill="url(#g1)" />
<path d="M132.3,80 V94.7 H147" stroke="#000" stroke-width="1.7" fill="none" />
<path d="M146.2,81.5 C147.6,83.5 147.6,89 146.9,93" stroke="#111" stroke-width="1.8" fill="none" />
<path d="M133,80.7 C138,80.2 142,80.3 146.5,80.9" stroke="#333" stroke-width="1.2" fill="none" />
<path d="M139,82 C141,81.8 143.5,82 145.5,82.5" stroke="#666" stroke-width="1.0" fill="none" />
<path d="M149.3,81.5 C150.5,85 150.3,90 149.2,94" stroke="#fff" stroke-width="0.8" fill="none" />
<path d="M303.1,79.4h0.5 M298.0,83.3h0.5 M297.6,77.6h0.5 M299.8,83.0h0.5 M302.3,85.6h0.5 M298.8,78.1h0.5 M297.4,84.2h0.5 M306.1,80.2h0.5 M301.1,74.0h0.5 M301.2,81.4h0.5 M297.0,86.4h0.5 M312.6,87.2h0.5 M294.5,89.6h0.5 M297.7,81.8h0.5 M295.9,84.3h0.5 M303.9,82.7h0.5 M298.5,81.3h0.5 M297.2,86.9h0.5 M296.4,81.3h0.5 M298.5,78.3h0.5 M298.4,74.7h0.5 M302.9,84.7h0.5 M297.9,89.8h0.5 M294.3,84.8h0.5 M303.3,79.3h0.5 M298.3,86.4h0.5 M300.4,83.4h0.5 M309.8,83.1h0.5 M305.8,81.4h0.5 M292.5,72.2h0.5 M302.3,89.5h0.5 M291.3,71.2h0.5 M303.5,79.3h0.5 M298.0,80.4h0.5 M293.7,84.2h0.5 M306.4,83.8h0.5 M296.1,87.2h0.5 M299.2,84.9h0.5 M293.5,85.3h0.5 M305.2,88.4h0.5 M300.2,84.2h0.5 M296.0,86.4h0.5 M305.4,87.4h0.5 M297.3,75.9h0.5 M299.5,81.0h0.5 M294.8,85.0h0.5 M306.6,84.0h0.5 M307.7,84.0h0.5 M293.2,79.1h0.5 M297.6,85.4h0.5 M306.4,82.7h0.5 M307.0,77.9h0.5 M299.2,89.4h0.5 M303.1,87.2h0.5 M294.0,87.0h0.5 M311.2,79.0h0.5 M293.2,77.0h0.5 M293.9,84.8h0.5 M297.8,91.3h0.5 M305.0,78.6h0.5 M301.6,81.3h0.5 M305.5,86.5h0.5 M297.6,86.4h0.5 M303.9,81.6h0.5 M301.8,85.4h0.5 M297.8,78.7h0.5 M308.8,82.0h0.5 M295.9,84.3h0.5 M290.6,79.9h0.5 M306.2,81.1h0.5 M291.7,90.6h0.5 M295.7,89.3h0.5 M296.4,74.8h0.5 M312.7,79.9h0.5 M305.3,87.9h0.5 M291.0,82.4h0.5 M296.1,85.0h0.5 M299.9,75.8h0.5 M300.4,85.8h0.5 M298.0,84.8h0.5 M296.4,81.8h0.5 M302.4,82.7h0.5 M308.8,86.7h0.5 M305.8,85.6h0.5 M301.1,76.3h0.5 M307.3,90.6h0.5 M301.6,80.8h0.5 M299.8,87.9h0.5 M302.0,77.2h0.5 M298.9,78.3h0.5 M298.7,77.7h0.5 M294.1,89.3h0.5 M307.2,74.2h0.5 M293.3,79.9h0.5 M297.4,75.3h0.5 M306.1,74.2h0.5 M304.8,85.4h0.5 M297.5,78.8h0.5 M300.5,82.8h0.5 M303.7,81.5h0.5 M297.2,77.2h0.5 M295.2,78.3h0.5 M319.2,75.9h0.5 M310.6,84.4h0.5 M301.5,83.0h0.5 M297.5,89.9h0.5 M303.5,81.9h0.5 M299.2,83.0h0.5 M292.2,80.5h0.5 M295.8,85.1h0.5 M304.2,72.9h0.5 M298.5,86.9h0.5 M291.2,76.3h0.5 M306.9,81.4h0.5 M297.0,76.1h0.5 M301.2,79.3h0.5 M301.5,84.1h0.5 M304.9,80.5h0.5 M296.5,82.2h0.5 M299.4,82.9h0.5 M296.4,80.9h0.5 M296.0,79.2h0.5 M301.1,87.7h0.5 M296.4,84.9h0.5 M302.4,82.6h0.5 M304.7,79.3h0.5 M303.9,83.5h0.5 M304.2,91.6h0.5 M292.8,82.5h0.5 M302.5,77.3h0.5 M308.3,84.2h0.5 M294.6,76.2h0.5 M297.2,93.7h0.5 M314.8,69.9h0.5 M299.3,78.9h0.5 M304.2,82.5h0.5 M302.0,83.3h0.5 M292.6,88.5h0.5 M296.9,87.6h0.5 M304.8,82.2h0.5 M301.0,81.8h0.5 M303.0,74.1h0.5 M305.6,74.5h0.5 M303.2,81.8h0.5 M306.8,80.4h0.5 M298.5,78.4h0.5 M301.3,81.4h0.5 M295.5,80.3h0.5 M294.9,85.1h0.5 M293.0,74.4h0.5 M293.4,87.4h0.5 M296.6,85.2h0.5 M305.1,79.5h0.5 M305.2,84.5h0.5 M299.7,78.6h0.5 M299.6,75.7h0.5 M298.1,79.2h0.5 M303.1,83.7h0.5 M295.6,86.3h0.5 M308.3,82.4h0.5" stroke="#c6c6c6" stroke-width="0.66" fill="none" stroke-linecap="round"/>
<path d="M308.7,88.5h0.5 M298.6,83.1h0.5 M308.7,93.6h0.5 M299.1,91.5h0.5 M314.2,91.0h0.5 M312.0,83.0h0.5 M311.7,93.4h0.5 M318.0,84.6h0.5 M315.3,90.3h0.5 M316.4,85.8h0.5 M309.1,82.3h0.5 M310.4,83.3h0.5 M303.7,79.0h0.5 M318.2,80.5h0.5 M305.2,85.8h0.5 M321.6,92.3h0.5 M310.6,80.9h0.5 M309.8,81.5h0.5 M309.8,88.4h0.5 M306.7,82.1h0.5 M311.5,85.9h0.5 M308.5,82.1h0.5 M306.3,82.3h0.5 M316.1,84.8h0.5 M294.5,89.1h0.5 M312.6,81.7h0.5 M311.5,71.0h0.5 M303.1,91.8h0.5 M308.6,86.2h0.5 M317.7,79.9h0.5 M323.4,82.4h0.5 M315.1,80.3h0.5 M315.2,85.9h0.5 M319.5,80.3h0.5 M313.0,95.1h0.5 M305.9,87.8h0.5 M315.6,83.5h0.5 M311.4,93.1h0.5 M319.8,88.8h0.5 M314.6,80.3h0.5 M313.6,95.0h0.5 M319.3,79.2h0.5 M300.6,82.7h0.5 M314.0,83.3h0.5 M311.2,87.7h0.5 M318.4,87.1h0.5 M320.5,78.9h0.5 M315.8,88.1h0.5 M304.1,92.3h0.5 M303.4,78.8h0.5 M329.0,92.5h0.5 M315.3,92.8h0.5 M319.9,80.4h0.5 M315.9,93.0h0.5 M312.0,86.4h0.5 M310.2,89.7h0.5 M309.7,83.1h0.5 M305.6,81.4h0.5 M314.3,88.4h0.5 M310.7,80.7h0.5 M315.1,87.8h0.5 M320.7,83.5h0.5 M310.5,88.6h0.5 M322.2,85.8h0.5 M312.5,81.3h0.5 M310.7,90.8h0.5 M318.1,91.6h0.5 M303.1,90.2h0.5 M307.4,89.0h0.5 M298.7,85.5h0.5 M307.7,92.4h0.5 M313.7,92.6h0.5 M310.1,81.1h0.5 M318.4,84.0h0.5 M312.7,79.2h0.5" stroke="#d2d2d2" stroke-width="0.6" fill="none" stroke-linecap="round"/>
<path d="M333.4,72.8h0.5 M331.8,74.6h0.5 M333.2,81.7h0.5 M333.4,67.7h0.5 M333.0,73.8h0.5 M337.7,69.0h0.5 M331.4,74.8h0.5 M338.8,60.6h0.5 M330.2,67.6h0.5 M342.8,80.1h0.5 M338.6,75.3h0.5 M329.9,79.4h0.5 M333.0,66.8h0.5 M343.8,62.5h0.5 M341.3,73.3h0.5 M330.8,73.2h0.5 M331.2,73.2h0.5 M332.1,64.2h0.5 M339.5,71.7h0.5 M338.1,63.7h0.5 M339.6,74.9h0.5 M329.6,77.5h0.5 M336.1,78.0h0.5 M337.8,77.1h0.5 M334.9,69.3h0.5 M338.2,80.2h0.5 M329.7,64.5h0.5 M334.1,60.8h0.5 M338.7,77.0h0.5 M343.9,73.3h0.5 M344.0,67.3h0.5 M339.1,72.9h0.5 M329.6,70.2h0.5 M341.1,79.4h0.5 M333.3,79.3h0.5 M339.1,77.9h0.5 M336.3,74.0h0.5 M331.3,71.6h0.5 M335.6,67.2h0.5 M333.7,73.1h0.5 M336.0,79.0h0.5 M330.3,69.4h0.5 M336.2,69.5h0.5 M336.5,69.0h0.5 M340.4,70.5h0.5 M329.8,77.0h0.5 M334.4,72.5h0.5 M339.7,81.9h0.5 M334.3,61.8h0.5 M338.1,78.7h0.5 M337.1,72.6h0.5 M329.6,62.1h0.5 M339.5,73.9h0.5 M338.1,74.4h0.5 M342.7,81.4h0.5 M332.5,78.6h0.5 M329.7,60.8h0.5 M340.5,69.2h0.5 M332.0,75.4h0.5 M334.8,67.0h0.5 M331.8,77.1h0.5 M330.8,72.9h0.5 M330.5,75.0h0.5 M343.1,75.8h0.5 M340.1,75.0h0.5 M330.7,70.1h0.5 M335.4,74.9h0.5 M332.3,76.1h0.5 M331.8,72.5h0.5 M335.0,64.5h0.5 M339.6,72.4h0.5 M335.5,71.8h0.5 M331.0,78.6h0.5 M332.4,76.0h0.5 M330.4,66.5h0.5 M332.9,79.0h0.5 M336.9,72.9h0.5 M335.0,77.2h0.5 M336.3,65.4h0.5 M337.9,66.9h0.5 M333.5,81.6h0.5 M337.0,66.9h0.5 M336.5,62.9h0.5 M342.2,75.9h0.5 M341.0,74.7h0.5 M334.4,70.9h0.5 M341.9,67.6h0.5 M334.6,71.7h0.5 M334.6,65.3h0.5 M336.5,70.7h0.5 M336.0,65.1h0.5 M335.0,65.7h0.5 M330.4,74.2h0.5 M337.9,75.9h0.5 M334.8,69.5h0.5 M341.4,80.2h0.5 M332.2,64.9h0.5 M336.7,74.1h0.5 M336.1,78.5h0.5 M341.5,81.3h0.5 M333.9,72.3h0.5 M331.0,74.6h0.5 M328.1,72.4h0.5 M329.0,79.3h0.5 M340.8,78.6h0.5 M338.0,79.5h0.5 M336.2,77.7h0.5 M337.2,77.2h0.5 M330.4,67.7h0.5 M330.5,77.5h0.5 M337.3,66.9h0.5 M330.5,68.3h0.5 M339.0,71.3h0.5 M333.9,67.5h0.5 M331.9,69.7h0.5 M342.7,76.8h0.5 M329.9,79.2h0.5 M329.3,75.7h0.5 M339.2,68.1h0.5 M331.7,72.4h0.5 M335.0,69.0h0.5 M341.8,74.2h0.5 M329.8,68.6h0.5 M333.7,75.2h0.5 M342.3,68.6h0.5 M335.7,69.2h0.5 M335.7,67.5h0.5 M336.7,79.6h0.5 M333.2,69.9h0.5 M335.6,63.4h0.5 M343.2,63.3h0.5 M333.4,66.3h0.5 M341.8,68.9h0.5 M334.5,67.0h0.5 M335.0,73.3h0.5 M331.7,70.8h0.5 M334.1,76.8h0.5 M338.5,77.5h0.5 M334.5,77.3h0.5 M334.1,79.6h0.5 M336.9,69.3h0.5 M340.6,62.1h0.5 M330.6,66.8h0.5 M334.4,64.0h0.5 M335.6,67.0h0.5 M329.9,80.7h0.5 M335.5,79.1h0.5 M330.0,79.6h0.5 M340.0,69.3h0.5 M331.2,69.6h0.5 M343.2,81.9h0.5 M334.0,69.9h0.5 M336.7,70.3h0.5 M332.9,70.7h0.5 M338.9,71.6h0.5 M336.1,70.3h0.5 M334.2,69.9h0.5 M340.8,73.6h0.5 M341.8,70.9h0.5 M339.8,63.0h0.5 M333.2,71.7h0.5 M332.2,71.3h0.5 M330.9,71.0h0.5 M332.0,72.0h0.5 M333.7,65.5h0.5 M333.2,72.2h0.5 M329.3,72.7h0.5 M340.7,70.6h0.5 M337.5,76.1h0.5 M331.4,80.7h0.5 M341.6,60.2h0.5 M340.2,73.0h0.5 M329.2,66.7h0.5 M330.3,66.2h0.5 M336.7,70.9h0.5 M337.1,72.6h0.5 M336.1,72.2h0.5 M338.3,63.3h0.5 M329.1,70.9h0.5 M335.4,60.2h0.5 M336.7,72.0h0.5 M337.3,66.2h0.5 M332.9,77.2h0.5 M342.7,73.0h0.5 M334.5,80.6h0.5 M331.0,71.0h0.5 M332.7,65.6h0.5 M336.2,75.3h0.5 M334.9,79.4h0.5 M335.8,66.3h0.5 M335.5,81.4h0.5 M334.6,79.9h0.5 M336.3,76.3h0.5 M333.7,77.5h0.5 M334.0,62.4h0.5 M336.4,64.2h0.5 M341.7,77.2h0.5 M335.1,76.6h0.5 M332.1,76.4h0.5 M333.2,74.3h0.5 M336.9,61.0h0.5 M330.8,81.8h0.5 M332.3,75.7h0.5 M328.8,66.1h0.5 M340.3,72.7h0.5 M333.8,73.6h0.5 M337.2,70.1h0.5 M339.5,80.0h0.5 M337.8,70.6h0.5 M339.5,79.4h0.5 M340.4,65.0h0.5 M339.7,69.8h0.5 M333.4,74.4h0.5 M337.6,73.8h0.5 M334.2,73.7h0.5 M334.0,75.9h0.5 M338.9,77.5h0.5 M329.4,69.9h0.5 M335.4,64.1h0.5 M336.8,71.1h0.5 M335.3,74.6h0.5" stroke="#b4b4b4" stroke-width="0.6" fill="none" stroke-linecap="round"/>
<path d="M331.3,86.2h0.5 M341.3,67.1h0.5 M337.9,78.8h0.5 M330.4,68.9h0.5 M339.3,48.7h0.5 M327.1,75.1h0.5 M338.8,63.7h0.5 M340.2,92.1h0.5 M336.3,71.7h0.5 M335.5,62.9h0.5 M338.4,73.7h0.5 M339.6,85.0h0.5 M335.3,73.7h0.5 M337.0,87.8h0.5 M326.3,72.1h0.5 M331.3,73.2h0.5 M340.1,72.7h0.5 M339.5,73.8h0.5 M330.8,66.1h0.5 M326.7,74.1h0.5 M332.7,79.7h0.5 M340.9,64.1h0.5 M328.5,77.6h0.5 M329.8,74.0h0.5 M338.7,68.6h0.5 M345.8,65.1h0.5 M337.6,68.4h0.5 M317.7,70.6h0.5 M334.1,77.3h0.5 M334.3,65.5h0.5 M332.0,69.4h0.5 M339.6,69.6h0.5 M342.5,79.9h0.5 M330.6,81.4h0.5 M321.4,72.4h0.5 M329.2,71.2h0.5 M342.0,72.1h0.5 M334.1,83.7h0.5 M330.5,64.6h0.5 M340.9,77.7h0.5 M326.5,73.5h0.5 M339.8,70.6h0.5 M332.6,73.3h0.5 M336.4,65.7h0.5 M340.1,57.8h0.5 M334.6,91.4h0.5 M328.7,71.8h0.5 M321.4,64.6h0.5 M328.1,72.7h0.5 M332.1,88.7h0.5 M329.5,71.8h0.5 M336.4,77.9h0.5 M340.5,58.0h0.5 M330.7,57.2h0.5 M332.4,56.1h0.5 M336.2,66.7h0.5 M337.0,65.0h0.5 M335.5,92.2h0.5 M342.1,73.5h0.5" stroke="#d0d0d0" stroke-width="0.6" fill="none" stroke-linecap="round"/>
<path d="M290,75.8 C296,75 303,75.2 308,76.5 C310.8,80 310,90 308.5,95 L290,95 Z" stroke="#aaa" stroke-width="0.8" fill="#e2e2e2" />
<path d="M290,76.8 C296,76 303,76.2 307.3,77.3 C309.6,80.5 309,90 307.7,95" stroke="#fff" stroke-width="0.8" fill="none" />
<path d="M290.3,77.8 C296,77 301,77.2 305.5,78.2 C307.6,82 307,90 305.4,94.8 L290.3,94.8 Z" stroke="#1a1a1a" stroke-width="2.0" fill="#949494" />
<path d="M290.3,95 H305" stroke="#000" stroke-width="1.6" fill="none" />
<ellipse cx="297" cy="86.5" rx="3.8" ry="3.8" stroke="none" stroke-width="0" fill="#b8b8b8"/>
<path d="M300,80 C302.5,80 304.5,81 305,83" stroke="#222" stroke-width="1.2" fill="none" />
<path d="M329,66 C331.5,63.2 338,62.6 341.5,65 C343.3,70 343,78 340,81.5 C336,83 331,80 329,74 C328.2,71 328.3,68 329,66 Z" stroke="#999" stroke-width="0.7" fill="none" />
<path d="M333.4,69.8 C334.5,67 337,65.3 338.6,65.6 C340.6,67.5 341.2,72 340.6,75 C340.2,78 339.2,79.2 338.6,79 C336.5,76 334.5,72.5 333.4,69.8 Z" stroke="#333" stroke-width="1.1" fill="#f6f6f6" />
<path d="M336,70 C336.8,68.5 338,68.3 338.7,69.5 C339.2,71.5 339,73.5 338.5,74.5 C337.5,73 336.5,71.5 336,70 Z" stroke="#bbb" stroke-width="0.5" fill="none" />
<circle cx="142.2" cy="163.8" r="1.8" stroke="#555" stroke-width="0.9" fill="#aaa"/>
<path d="M139.8,169 C141,167 145,167.6 147,168 C149.5,168.3 150.8,169.5 150,171.5 C149,173.8 146,175.8 143.5,175.7 C141,175.5 139.2,173 139.4,171 Z" stroke="#000" stroke-width="1.2" fill="#111" />
<path d="M143.2,171.8 L146.2,171.2" stroke="#bbb" stroke-width="0.8" fill="none" />
<path d="M138.1,178.9h0.5 M133.9,161.6h0.5 M151.9,166.5h0.5 M152.2,173.5h0.5 M157.2,180.8h0.5 M147.6,166.3h0.5 M147.6,178.5h0.5 M144.9,152.6h0.5 M141.8,167.8h0.5 M143.7,167.9h0.5 M150.9,162.4h0.5 M146.7,158.1h0.5 M139.5,164.6h0.5 M139.8,173.7h0.5 M147.5,170.5h0.5 M145.2,165.9h0.5 M138.1,161.5h0.5 M141.5,163.2h0.5 M142.1,174.4h0.5 M147.3,178.0h0.5 M138.4,156.8h0.5 M148.2,167.4h0.5 M152.0,167.5h0.5 M154.1,167.6h0.5 M141.6,174.2h0.5 M137.1,169.0h0.5 M155.7,172.6h0.5 M137.4,168.5h0.5 M143.8,165.5h0.5 M146.5,177.5h0.5 M144.3,175.3h0.5 M145.8,170.8h0.5 M139.5,175.8h0.5 M152.1,167.3h0.5 M138.7,173.1h0.5 M144.6,176.8h0.5 M147.0,169.2h0.5 M135.7,173.7h0.5" stroke="#d8d8d8" stroke-width="0.6" fill="none" stroke-linecap="round"/>
<path d="M336.7,149.8h0.5 M325.6,145.4h0.5 M340.4,156.5h0.5 M312.7,152.9h0.5 M331.5,159.1h0.5 M336.2,157.3h0.5 M341.2,168.2h0.5 M334.4,172.6h0.5 M335.1,153.1h0.5 M337.1,148.5h0.5 M333.9,151.5h0.5 M333.0,161.6h0.5 M318.8,163.1h0.5 M337.8,158.2h0.5 M341.0,162.7h0.5 M333.4,151.9h0.5 M341.1,166.1h0.5 M325.6,154.1h0.5 M327.7,166.6h0.5 M332.0,150.0h0.5 M346.6,163.6h0.5 M337.6,161.9h0.5 M334.7,160.2h0.5 M342.3,163.5h0.5 M332.8,160.7h0.5 M326.7,160.9h0.5 M328.0,181.0h0.5 M340.3,164.7h0.5 M338.5,175.8h0.5 M328.8,159.5h0.5 M324.2,169.9h0.5 M335.4,174.1h0.5 M334.0,151.6h0.5 M331.0,166.4h0.5 M330.2,162.0h0.5 M330.9,154.2h0.5 M332.0,173.0h0.5 M328.4,162.5h0.5 M341.6,154.0h0.5 M325.4,172.0h0.5 M327.5,166.9h0.5 M335.7,153.3h0.5 M333.2,140.7h0.5 M330.2,150.1h0.5 M326.6,164.6h0.5 M337.8,173.6h0.5 M317.0,154.6h0.5 M330.0,170.6h0.5 M343.2,160.9h0.5 M336.6,153.8h0.5 M332.3,156.3h0.5 M318.1,175.2h0.5 M341.1,176.7h0.5 M344.6,163.9h0.5 M341.8,146.3h0.5 M328.7,166.7h0.5 M333.2,146.8h0.5 M335.8,149.5h0.5" stroke="#d8d8d8" stroke-width="0.6" fill="none" stroke-linecap="round"/>
<path d="M325.5,156 C327,154 329,153.5 330,152.5 C333,151 338,151.2 342,152.5 C345.5,154 346.5,158 345,161 C343.5,164 341,168 338,169.5 C335.5,170 333,167 331,162 C329,159.5 327,158 325.5,156 Z" stroke="#777" stroke-width="0.7" fill="#b0b0b0" />
<path d="M332,156 C333,153.5 338,153 341.5,154.5 C344,156.5 343.5,160 342,163 C340.5,166 338.5,167.5 337.5,166.5 C335,163 333,159.5 332,156 Z" stroke="#222" stroke-width="1.1" fill="#777" />
<path d="M336.5,155.5 C338.5,155.2 340,157 339.5,160 C339,162.5 338.5,164 338,164 C337,161 336.2,158 336.5,155.5 Z" stroke="#111" stroke-width="0.9" fill="#ddd" />
<circle cx="319.8" cy="151.2" r="1.9" stroke="#999" stroke-width="0.7" fill="#c8c8c8"/>
<circle cx="326.3" cy="156.8" r="1.4" stroke="#999" stroke-width="0.7" fill="#c8c8c8"/>
<circle cx="314.7" cy="173.5" r="1.9" stroke="#999" stroke-width="0.7" fill="#c8c8c8"/>
<circle cx="326.8" cy="175.2" r="1.8" stroke="#999" stroke-width="0.7" fill="#c8c8c8"/>
<circle cx="336.8" cy="173.3" r="1.8" stroke="#999" stroke-width="0.7" fill="#c8c8c8"/>
<circle cx="291.8" cy="165.7" r="1.6" stroke="#999" stroke-width="0.7" fill="#c8c8c8"/>
<circle cx="293.6" cy="170.9" r="1.6" stroke="#555" stroke-width="0.9" fill="#ddd"/>
<path d="M333,182 C333,179 338,179 338,182" stroke="#111" stroke-width="1.3" fill="#999" />
<circle cx="169.7" cy="222.4" r="1.4" stroke="#111" stroke-width="1.3" fill="#777"/>
<circle cx="177.8" cy="223.3" r="1.5" stroke="#111" stroke-width="1.1" fill="#eee"/>
<circle cx="151.6" cy="225.7" r="1.3" stroke="#222" stroke-width="1.0" fill="#eee"/>
<path d="M175.8,226.3 C177.5,225 180.5,226 182,228 C183,229.8 182,231.2 181.8,232.4 C183.5,233.5 185,235 184.4,237 C183.8,239 182.5,239.8 181,239.6 C179,239.3 177,238 175.5,236.8 C174.3,235.5 174,233.5 174.3,231.5 C174.5,229.5 175,227.5 175.8,226.3 Z" stroke="#000" stroke-width="1.6" fill="#8e8e8e" />
<path d="M177.3,229 C178.5,228.6 179.3,229.8 178.8,231 M179.5,233.5 C180.8,233.6 181.8,235 181.2,236.5" stroke="#f0f0f0" stroke-width="1.0" fill="none" />
<path d="M176.5,233 C177.5,234 178.5,235.5 179,237" stroke="#444" stroke-width="0.8" fill="none" />
<circle cx="174.4" cy="236.6" r="1.4" stroke="#000" stroke-width="1.2" fill="#999"/>
<circle cx="177.4" cy="240.8" r="1.3" stroke="#000" stroke-width="1.2" fill="#888"/>
<circle cx="180.9" cy="244.8" r="1.6" stroke="#000" stroke-width="1.2" fill="#eee"/>
<path d="M175.5,238 L179.5,243" stroke="#111" stroke-width="1.0" fill="none" />
<ellipse cx="169.1" cy="243.5" rx="2.7" ry="1.3" stroke="#000" stroke-width="1.2" fill="#e8e8e8"/>
<circle cx="165.2" cy="248.4" r="1.5" stroke="#111" stroke-width="1.1" fill="#ddd"/>
<path d="M132,235 C134.5,235.8 136.5,237.5 138.5,238.6 C140,239 141.6,238.7 142.6,239.5 C143,241 141.5,242.8 139.8,243.4 C137.5,243.6 135,242.6 132,242.8 Z" stroke="#000" stroke-width="1.4" fill="#999" />
<path d="M133.5,238.5 C135.5,239 137.5,240.5 139,241" stroke="#ddd" stroke-width="0.8" fill="none" />
<path d="M134,250.3 C134.5,247.5 139,247.5 139.5,250.3" stroke="#000" stroke-width="1.6" fill="#bbb" />
<path d="M295.9,248.9h0.5 M290.2,234.7h0.5 M298.7,237.7h0.5 M296.8,231.9h0.5 M294.2,221.0h0.5 M295.0,247.0h0.5 M290.2,236.6h0.5 M299.5,246.5h0.5 M301.8,231.6h0.5 M293.5,239.9h0.5 M291.6,233.2h0.5 M290.9,247.4h0.5 M299.8,240.7h0.5 M293.3,228.0h0.5 M298.3,232.0h0.5 M295.3,244.5h0.5 M294.9,237.6h0.5 M290.8,245.3h0.5 M298.6,242.9h0.5 M304.1,226.3h0.5 M296.0,242.4h0.5 M297.6,240.0h0.5 M298.2,227.0h0.5 M295.5,246.1h0.5 M295.6,236.4h0.5 M300.2,225.4h0.5 M297.9,248.6h0.5 M294.6,232.0h0.5 M298.5,234.6h0.5 M291.7,239.0h0.5 M299.5,237.6h0.5 M297.2,247.6h0.5 M293.1,244.3h0.5 M302.5,232.7h0.5 M298.2,243.8h0.5 M295.1,233.3h0.5 M303.5,228.5h0.5 M296.7,244.6h0.5 M297.1,249.0h0.5 M303.4,241.1h0.5 M304.9,243.1h0.5 M297.2,239.2h0.5 M298.1,239.2h0.5 M303.7,239.4h0.5 M297.8,243.0h0.5 M292.2,228.6h0.5 M293.5,245.1h0.5 M294.4,246.7h0.5 M293.1,243.2h0.5 M296.0,243.8h0.5 M295.9,239.3h0.5 M293.5,246.7h0.5 M295.7,241.4h0.5 M299.2,231.5h0.5 M291.7,237.6h0.5 M302.4,230.4h0.5 M290.7,230.8h0.5 M293.9,230.3h0.5 M291.8,241.6h0.5 M290.4,237.8h0.5 M298.5,223.6h0.5 M296.2,239.5h0.5 M295.6,239.7h0.5 M298.0,228.7h0.5 M295.3,242.4h0.5 M302.4,228.2h0.5 M292.9,228.2h0.5 M295.8,230.3h0.5 M290.9,243.3h0.5 M307.3,223.3h0.5 M304.2,231.4h0.5 M299.4,240.4h0.5 M302.2,236.4h0.5 M291.7,237.4h0.5 M299.9,231.6h0.5 M298.0,237.8h0.5 M296.8,238.0h0.5 M299.0,243.6h0.5 M294.5,235.4h0.5" stroke="#cfcfcf" stroke-width="0.6" fill="none" stroke-linecap="round"/>
<path d="M321.9,221.7h0.5 M325.7,232.7h0.5 M328.4,223.0h0.5 M338.1,234.9h0.5 M342.3,221.9h0.5 M336.4,235.5h0.5 M329.8,226.3h0.5 M327.5,223.4h0.5 M339.2,228.6h0.5 M332.7,223.9h0.5 M344.1,233.2h0.5 M327.4,243.2h0.5 M332.4,226.8h0.5 M331.9,223.9h0.5 M338.8,217.7h0.5 M335.1,225.6h0.5 M345.5,230.7h0.5 M337.6,231.6h0.5 M338.5,228.8h0.5 M320.1,230.9h0.5 M333.0,232.9h0.5 M336.8,224.1h0.5 M329.5,220.7h0.5 M336.6,227.2h0.5 M329.6,225.3h0.5 M337.0,223.2h0.5 M334.2,223.6h0.5 M319.2,228.6h0.5 M335.3,233.6h0.5 M342.8,222.8h0.5 M338.5,229.8h0.5 M335.4,233.8h0.5 M340.2,219.0h0.5 M343.9,226.7h0.5 M330.9,223.0h0.5 M333.6,220.0h0.5 M341.5,230.9h0.5 M329.5,233.7h0.5 M336.4,228.5h0.5 M340.7,227.3h0.5 M333.4,231.5h0.5 M323.9,219.5h0.5 M338.0,235.5h0.5 M324.8,228.0h0.5 M330.9,225.9h0.5 M338.6,238.4h0.5 M345.6,234.6h0.5 M338.8,228.9h0.5 M323.7,230.7h0.5 M327.7,220.1h0.5 M335.7,216.8h0.5 M345.6,232.2h0.5 M337.1,231.3h0.5 M336.4,228.4h0.5 M339.2,223.2h0.5 M336.6,229.1h0.5 M339.6,220.2h0.5 M336.4,227.0h0.5 M338.7,231.7h0.5 M336.1,231.2h0.5 M337.6,237.5h0.5 M336.8,231.7h0.5 M329.3,226.5h0.5 M339.6,235.3h0.5 M329.1,227.7h0.5 M333.3,228.3h0.5 M332.1,225.0h0.5 M334.6,228.8h0.5 M341.1,222.0h0.5 M329.2,233.5h0.5" stroke="#d4d4d4" stroke-width="0.6" fill="none" stroke-linecap="round"/>
<path d="M290,240 C291,236 292,233 293,229 C292.5,226 293,224 294.5,224 C296.5,224.5 296.5,228 296,231 C298,233 301,236 302.5,240 C303.5,244 302.5,248 301,250.3 L290,250.3 Z" stroke="#888" stroke-width="0.8" fill="#ececec" />
<path d="M290,241 C291.5,238 293,235.5 294.3,233 C296.5,235 299,238 300.2,241.5 C301,244.5 300.5,247.5 299.5,250.2" stroke="#999" stroke-width="0.7" fill="none" />
<path d="M290,243 C292,240.5 294.8,240 297,241.8 C299,244 299.2,247.5 298.3,250.2 L290,250.2 Z" stroke="#777" stroke-width="0.8" fill="#cfcfcf" />
<path d="M291,245.5 C292.5,244 294.5,244.3 295.5,246 C296,247.5 295.5,249 295,250" stroke="#888" stroke-width="0.7" fill="none" />
<path d="M290,236 C291.5,235 292.5,236 292.3,237.5 C291.8,238.6 290.6,238.4 290,238.4 Z" stroke="#333" stroke-width="0.8" fill="#555" />
<path d="M319.2,229.6 L327,224.4 L327,233.6 Z" stroke="#aaa" stroke-width="0.7" fill="#f6f6f6" />
<path d="M322.5,229.6 L327,226.8 L327,231.8 Z" stroke="#bbb" stroke-width="0.5" fill="none" />
<path d="M328,222 C330,218 336,216.8 340.5,218 C344,220.5 344.5,228 343.5,233.5 C342.5,238 338,239.5 333,238 C329.5,236 327.8,231 327.8,226 Z" stroke="#aaa" stroke-width="0.6" fill="#c4c4c4" />
<path d="M331.5,223 C333,220.3 338,219.6 341,221.2 C343.3,224 343.4,230 342.3,234 C341.2,237 338,237.7 335,236.5 C332.5,235 331,229 331.5,223 Z" stroke="#888" stroke-width="0.7" fill="#9c9c9c" />
<path d="M333.2,221.6 C336,219.8 339.5,220 341.2,221.5 C343.3,224.5 343.2,230 342.2,234 C341.2,237 338.5,237.8 335.5,236.8" stroke="#000" stroke-width="1.7" fill="none" />
<path d="M334.5,224 C336,222.5 339,222.8 340,224.5 C341,227 340.8,231 339.8,233.5" stroke="#333" stroke-width="1.0" fill="none" />
<path d="M337.3,225.5 C338.2,226.5 338.2,229 337.6,231" stroke="#f4f4f4" stroke-width="1.1" fill="none" />
<path d="M332,226 C332.5,229 333.5,232 335,234" stroke="#666" stroke-width="0.8" fill="none" />
<path d="M177.2,289.5 C178.5,287.5 181,287.5 181.7,289.8 C182,291.5 183.6,293 183.8,295.2 C183.8,297.8 181.6,298.8 179.8,298 C177.6,297 176.2,294 176.4,291.5 Z" stroke="#000" stroke-width="1.8" fill="#ccc" />
<path d="M178.6,290.5 C179.5,290 180.2,292 180.2,293.2 C180.5,294.5 181.6,295.3 181.2,296.3" stroke="#000" stroke-width="1.2" fill="none" />
<ellipse cx="134.6" cy="306.2" rx="2.2" ry="1.5" stroke="#000" stroke-width="1.4" fill="#666" transform="rotate(-25 134.6 306.2)"/>
<circle cx="144.7" cy="305" r="1.2" stroke="#666" stroke-width="0.8" fill="#bbb"/>
<path d="M298.5,308.0h0.5 M290.2,314.2h0.5 M290.6,314.6h0.5 M297.2,308.2h0.5 M295.1,313.1h0.5 M296.0,300.2h0.5 M292.4,298.2h0.5 M298.0,313.6h0.5 M301.1,302.2h0.5 M295.4,299.0h0.5 M291.6,314.2h0.5 M306.3,306.3h0.5 M305.6,308.9h0.5 M299.1,313.0h0.5 M293.6,308.0h0.5 M296.3,307.2h0.5 M293.2,306.1h0.5 M293.0,315.1h0.5 M298.0,314.1h0.5 M305.2,297.5h0.5 M295.6,313.8h0.5 M294.9,306.0h0.5 M297.9,306.3h0.5 M291.7,307.4h0.5 M296.2,309.0h0.5 M300.5,309.1h0.5 M294.8,307.6h0.5 M295.2,305.4h0.5 M303.3,299.8h0.5 M292.2,311.1h0.5 M292.5,311.6h0.5 M295.7,303.4h0.5 M294.9,306.4h0.5 M298.7,296.2h0.5 M298.0,315.6h0.5 M296.7,310.1h0.5 M293.3,310.6h0.5 M295.2,302.5h0.5 M290.0,297.3h0.5 M298.1,309.8h0.5 M301.4,310.2h0.5 M299.4,302.2h0.5 M294.3,310.8h0.5 M295.3,308.1h0.5 M296.2,310.2h0.5 M297.0,310.5h0.5 M293.4,308.5h0.5 M294.6,311.1h0.5 M292.2,301.9h0.5 M300.7,304.8h0.5 M290.0,296.8h0.5 M294.0,317.4h0.5" stroke="#d0d0d0" stroke-width="0.6" fill="none" stroke-linecap="round"/>
<path d="M332.6,288.5 C333.6,287.2 335.3,287.7 335.9,289 C336.6,287.5 338.7,287.3 339.4,288.7 C339.8,291 337.8,294 336,295 C334.2,294 332.4,291.5 332.6,288.5 Z" stroke="#555" stroke-width="1.1" fill="#c8c8c8" />
<path d="M334.3,289.8 C335,289.5 335.6,290.5 336,291.3 C336.6,290.4 337.6,290.2 338,290.8" stroke="#888" stroke-width="0.7" fill="none" />
<circle cx="337.7" cy="297.7" r="1.4" stroke="none" stroke-width="0" fill="#b5b5b5"/>
<circle cx="343.6" cy="294" r="1.2" stroke="none" stroke-width="0" fill="#bbb"/>
<circle cx="311.2" cy="289.7" r="1.4" stroke="none" stroke-width="0" fill="#bdbdbd"/>
<circle cx="292.4" cy="293.4" r="1.7" stroke="#999" stroke-width="0.7" fill="#f4f4f4"/>
<ellipse cx="306.3" cy="311.2" rx="1.7" ry="2.6" stroke="#777" stroke-width="0.9" fill="#f2f2f2" transform="rotate(25 306.3 311.2)"/>
<path d="M290,299.5 C293,298 297.5,298.6 300.5,301 C303,304 303,309 301.5,311.5 C300.5,313 299.5,314.5 299,318 L290,318 Z" stroke="#666" stroke-width="0.9" fill="#9c9c9c" />
<path d="M290,302.5 C292.5,301.5 295.5,302.5 297.5,304.5 C299,307 298.3,311 296,312.5 C293.5,313.5 291.5,313 290,312.5 Z" stroke="#555" stroke-width="0.8" fill="#6e6e6e" />
<path d="M291,306.5 C292.5,305.8 294.5,306.2 295.5,307" stroke="#eee" stroke-width="0.9" fill="none" />
<path d="M290.5,314 C292.5,313.5 295,314 297.5,315.5" stroke="#ccc" stroke-width="0.8" fill="none" />
<path d="M292.5,318 C292.5,315 296,314.5 297,318" stroke="#555" stroke-width="0.8" fill="#999" />
<circle cx="464.6" cy="13.4" r="1.7" stroke="#666" stroke-width="1.0" fill="#e4e4e4"/>
<ellipse cx="466.2" cy="46.3" rx="2.0" ry="2.5" stroke="#222" stroke-width="1.2" fill="#e6e6e6" transform="rotate(-20 466.2 46.3)"/>
<ellipse cx="437.3" cy="49.6" rx="1.7" ry="1.6" stroke="#333" stroke-width="1.1" fill="#ddd" transform="rotate(-30 437.3 49.6)"/>
<ellipse cx="439.5" cy="47.5" rx="1.0" ry="0.8" stroke="#555" stroke-width="0.7" fill="#ccc" transform="rotate(-30 439.5 47.5)"/>
<path d="M444.8,45 C444.5,41 446.5,39.6 448.7,39.8 C450.5,40.2 452.2,41 453.4,40.8 C455,39.4 457,38.8 458.4,39.3 C460,41.5 460.6,46 461.3,51 C463,53 466,55.5 466.2,58 C466,61 463.5,63 461.7,63.8 C461,66 460.5,69 460,71 L446,71 C444,69 441.5,67.5 440,65 C438.8,62 439,58.5 439.4,56.5 C440,54 441.5,53 443,52.5 C444.5,50.5 445,48 444.8,45 Z" stroke="none" stroke-width="0" fill="#b4b4b4" />
<path d="M444.9,47.5 C444.4,43 445.2,40.8 448.7,39.8 C450.8,39.6 452.3,41 453.4,40.9 C455,39.2 457.2,38.7 458.3,39.4 C459.8,42 460.4,46 461.3,51.2 C463.2,53 465.8,55.5 466.1,58 C466,61 463.6,62.8 461.7,63.8 C460.6,66.5 460.2,69 459.9,71" stroke="#000" stroke-width="2.6" fill="none" />
<path d="M445.5,44 C446.5,42 448.5,41.5 450.5,42.5" stroke="#000" stroke-width="2.4" fill="none" />
<path d="M439.5,58 C439.5,55 440.5,53.4 442.5,53.2 C444.5,53 446,53.4 447,54.5" stroke="#000" stroke-width="2.2" fill="none" />
<path d="M439.6,58 C439.8,61 440.2,63 441.5,64.5" stroke="#111" stroke-width="1.6" fill="none" />
<path d="M446.8,44.5 C448.5,44 450.5,45.7 451.6,48 C452.5,49.8 453.4,49.5 454,47.5" stroke="#000" stroke-width="1.6" fill="none" />
<path d="M448.3,55.7 C451,57.5 454,60 456.3,62.8 C456,66 455,68.5 454.6,71" stroke="#000" stroke-width="2.2" fill="none" />
<path d="M455.8,43.5 C456.8,47 457.5,51 458.2,54.5 C459,58 460,60.5 461.5,61" stroke="#111" stroke-width="1.6" fill="none" />
<path d="M447.5,47.8 C449.5,50 452,52.3 454.5,55" stroke="#f6f6f6" stroke-width="1.1" fill="none" />
<path d="M457.3,42 C458,45 458.6,48 459.3,51.5 M459.7,55.5 C461,57 462.5,58 463.2,59.5" stroke="#f2f2f2" stroke-width="0.9" fill="none" />
<path d="M442,55.8 C444,55.5 446,56.8 447.5,58.8 C449,61 451.5,62.2 453,63.8" stroke="#f4f4f4" stroke-width="1.1" fill="none" />
<path d="M441.8,60.5 C443.5,62.5 446,64.5 448.5,65.2" stroke="#e8e8e8" stroke-width="0.9" fill="none" />
<path d="M450,66 C451,68 452,69.5 452.5,71" stroke="#333" stroke-width="1.1" fill="none" />
<path d="M426.2,128.7h0.5 M450.8,143.2h0.5 M434.5,163.6h0.5 M420.5,140.9h0.5 M442.4,145.1h0.5 M420.6,126.9h0.5 M459.0,140.3h0.5 M432.4,159.1h0.5 M412.5,141.0h0.5 M412.9,164.2h0.5 M423.0,143.6h0.5 M423.9,143.9h0.5 M440.0,142.0h0.5 M431.7,145.8h0.5 M432.7,133.8h0.5 M444.1,155.5h0.5 M418.3,125.7h0.5 M425.8,146.6h0.5 M417.6,166.7h0.5 M436.5,144.4h0.5 M447.2,129.9h0.5 M440.7,148.4h0.5 M452.7,125.1h0.5 M453.9,151.4h0.5 M439.2,158.9h0.5 M432.7,138.8h0.5 M446.8,136.3h0.5 M450.0,163.9h0.5 M438.8,144.8h0.5 M427.5,127.3h0.5 M454.7,125.5h0.5 M437.1,146.7h0.5 M424.3,131.1h0.5 M440.8,164.2h0.5 M462.4,158.2h0.5 M453.1,135.0h0.5 M427.1,165.2h0.5 M455.0,125.8h0.5 M450.9,146.8h0.5 M446.4,157.5h0.5 M460.7,132.1h0.5 M436.1,162.3h0.5 M432.8,150.9h0.5 M435.1,115.0h0.5 M429.0,156.3h0.5 M429.1,117.6h0.5 M429.6,143.8h0.5 M442.5,147.5h0.5 M443.0,125.4h0.5 M428.4,130.0h0.5 M430.5,149.3h0.5 M453.5,138.5h0.5 M450.0,160.0h0.5 M421.4,129.3h0.5 M438.2,120.3h0.5 M460.5,112.4h0.5 M420.3,154.8h0.5 M426.6,153.7h0.5 M423.5,159.2h0.5 M428.7,153.9h0.5 M449.3,118.4h0.5 M424.8,114.4h0.5 M421.9,157.1h0.5 M435.9,155.9h0.5 M454.8,158.9h0.5 M445.7,135.6h0.5 M431.3,147.5h0.5 M447.6,159.8h0.5 M440.2,137.8h0.5 M435.4,169.0h0.5 M427.1,156.5h0.5 M439.2,154.7h0.5 M426.7,147.9h0.5 M435.6,138.1h0.5 M420.9,119.9h0.5 M432.1,151.3h0.5 M439.8,146.4h0.5 M440.6,121.0h0.5 M450.2,143.7h0.5 M426.7,133.8h0.5 M449.3,145.6h0.5 M417.3,169.9h0.5 M447.5,126.6h0.5 M452.6,162.7h0.5 M450.0,153.0h0.5 M440.7,146.0h0.5 M429.6,147.0h0.5 M453.1,140.9h0.5 M462.0,117.9h0.5 M436.9,119.0h0.5 M413.8,146.7h0.5 M432.3,133.8h0.5 M422.8,138.9h0.5 M415.6,139.5h0.5 M429.7,122.7h0.5 M441.9,113.0h0.5 M442.1,146.9h0.5 M443.4,144.8h0.5 M446.8,138.5h0.5 M422.5,148.7h0.5 M426.3,136.9h0.5 M438.1,127.9h0.5 M449.3,118.2h0.5 M452.4,142.1h0.5 M458.5,160.3h0.5 M445.3,147.3h0.5 M438.0,120.8h0.5 M429.3,127.7h0.5 M427.3,140.6h0.5 M426.3,144.9h0.5 M433.2,135.2h0.5 M441.6,150.1h0.5 M419.2,137.7h0.5 M442.5,128.6h0.5 M449.2,167.1h0.5 M444.1,140.6h0.5 M436.9,112.5h0.5 M444.2,137.8h0.5 M441.7,148.6h0.5 M448.4,132.3h0.5 M444.4,152.7h0.5 M437.0,165.1h0.5 M431.8,114.8h0.5 M422.7,148.8h0.5 M423.8,145.1h0.5 M417.0,148.8h0.5 M433.2,128.2h0.5 M429.4,138.3h0.5 M448.3,146.4h0.5 M433.9,145.2h0.5 M448.0,150.1h0.5 M459.2,131.2h0.5 M447.1,144.6h0.5 M428.4,152.1h0.5 M447.3,158.2h0.5 M442.8,128.7h0.5 M438.7,148.8h0.5 M458.0,144.6h0.5 M438.5,167.5h0.5 M437.4,135.5h0.5 M440.2,154.9h0.5 M438.5,116.0h0.5 M431.4,158.6h0.5 M427.0,156.3h0.5 M438.7,130.0h0.5 M443.4,138.3h0.5 M444.7,141.4h0.5 M438.2,134.3h0.5 M431.4,158.3h0.5 M446.4,121.5h0.5 M446.3,127.7h0.5 M446.1,146.1h0.5 M432.4,158.1h0.5 M452.4,134.4h0.5 M438.1,136.4h0.5 M436.6,167.9h0.5 M431.0,151.7h0.5 M439.9,144.0h0.5 M422.1,152.5h0.5 M422.4,154.1h0.5 M435.4,144.9h0.5 M430.6,129.1h0.5 M423.4,142.8h0.5 M435.5,147.2h0.5 M432.8,154.9h0.5 M438.4,144.6h0.5 M433.4,142.4h0.5 M444.9,131.6h0.5 M421.1,148.8h0.5 M441.9,143.1h0.5 M439.7,122.1h0.5 M424.1,142.6h0.5 M436.1,123.1h0.5 M442.5,112.7h0.5 M452.4,126.1h0.5 M429.3,126.2h0.5 M419.3,137.6h0.5 M438.7,137.9h0.5 M436.2,119.9h0.5 M412.8,121.7h0.5 M450.0,147.6h0.5 M413.6,169.5h0.5 M444.5,159.7h0.5 M449.4,163.1h0.5 M414.9,143.8h0.5 M445.3,142.5h0.5 M437.8,129.4h0.5 M453.8,154.2h0.5 M435.5,136.4h0.5 M450.6,134.2h0.5 M450.5,145.8h0.5 M432.8,148.4h0.5 M458.8,117.3h0.5 M446.0,154.2h0.5 M433.2,165.6h0.5 M445.0,151.2h0.5 M423.6,151.7h0.5 M419.9,150.5h0.5 M464.0,128.4h0.5 M456.4,125.5h0.5 M437.3,153.9h0.5 M417.9,147.7h0.5 M426.5,132.8h0.5 M447.2,141.3h0.5 M441.6,142.8h0.5 M441.3,167.1h0.5 M438.0,138.1h0.5 M436.8,153.9h0.5 M435.5,149.4h0.5 M432.9,124.3h0.5 M435.6,114.7h0.5 M425.7,141.3h0.5 M417.1,138.3h0.5 M427.6,162.4h0.5 M438.2,153.1h0.5 M458.2,128.1h0.5 M450.0,117.8h0.5 M431.3,139.4h0.5 M433.2,111.8h0.5 M438.0,137.9h0.5 M455.5,151.7h0.5 M450.1,141.0h0.5 M427.3,120.9h0.5 M431.7,127.6h0.5 M432.9,137.4h0.5 M452.9,126.9h0.5 M440.7,125.1h0.5 M440.0,158.8h0.5 M429.1,123.7h0.5 M436.9,142.9h0.5 M428.2,149.2h0.5 M437.3,153.2h0.5 M418.7,154.5h0.5 M452.7,129.5h0.5 M461.9,146.2h0.5 M419.7,125.6h0.5 M426.8,132.2h0.5 M433.3,147.2h0.5 M433.8,137.4h0.5 M427.2,123.0h0.5 M433.8,142.7h0.5 M422.0,127.0h0.5 M447.7,125.3h0.5 M435.2,143.2h0.5 M444.8,122.4h0.5 M453.4,140.0h0.5 M449.5,120.0h0.5 M450.5,141.0h0.5 M446.4,132.3h0.5 M447.5,143.0h0.5 M427.8,149.9h0.5 M433.9,135.3h0.5 M431.5,157.1h0.5 M448.5,157.2h0.5 M415.3,155.4h0.5 M441.4,160.5h0.5 M436.3,144.7h0.5 M432.1,159.9h0.5 M425.9,140.1h0.5 M431.3,140.7h0.5 M429.8,152.6h0.5 M444.9,116.9h0.5 M430.7,121.5h0.5 M450.3,122.4h0.5 M442.5,144.9h0.5 M435.7,111.4h0.5 M458.4,140.1h0.5 M445.2,159.3h0.5 M423.4,126.7h0.5 M425.7,141.2h0.5 M448.7,140.1h0.5 M453.5,152.1h0.5 M435.4,153.2h0.5 M430.2,162.7h0.5 M427.8,163.4h0.5 M458.5,118.8h0.5 M435.5,171.8h0.5 M450.5,153.3h0.5 M441.3,145.3h0.5 M442.4,139.4h0.5 M432.7,122.8h0.5 M459.1,142.2h0.5 M461.2,154.4h0.5 M442.4,125.0h0.5 M433.1,143.3h0.5 M434.9,137.7h0.5 M433.2,134.8h0.5 M432.3,117.5h0.5 M425.3,166.2h0.5 M424.2,134.1h0.5 M425.7,139.9h0.5 M422.9,164.3h0.5 M430.3,149.7h0.5 M432.0,139.0h0.5 M438.1,146.3h0.5 M422.2,127.5h0.5 M446.5,138.3h0.5 M437.0,153.3h0.5 M437.9,145.1h0.5 M422.4,142.7h0.5 M414.4,171.0h0.5 M426.5,169.6h0.5 M430.1,140.5h0.5 M453.5,146.1h0.5 M438.9,138.3h0.5 M433.2,130.9h0.5 M426.5,114.1h0.5 M434.6,130.1h0.5 M461.4,123.7h0.5 M431.9,140.7h0.5 M416.6,167.8h0.5 M445.9,147.5h0.5 M461.9,150.7h0.5 M432.7,147.3h0.5 M430.6,150.5h0.5 M419.6,151.0h0.5 M432.8,136.0h0.5 M431.7,140.8h0.5 M414.0,152.4h0.5 M434.1,171.7h0.5 M436.5,158.0h0.5 M436.3,140.7h0.5 M420.8,135.4h0.5 M432.8,131.3h0.5 M440.7,159.4h0.5 M432.8,161.9h0.5 M452.9,155.1h0.5 M432.4,144.6h0.5 M458.1,167.7h0.5 M451.7,115.2h0.5 M446.1,164.6h0.5 M444.3,138.1h0.5 M442.8,142.2h0.5 M456.3,156.5h0.5 M424.4,130.7h0.5 M450.0,157.1h0.5 M440.5,148.5h0.5 M420.5,129.2h0.5 M443.7,113.6h0.5 M443.2,152.3h0.5 M445.3,156.6h0.5 M461.7,147.7h0.5 M426.2,115.5h0.5 M448.4,116.1h0.5 M439.1,131.5h0.5 M433.5,146.5h0.5 M437.3,124.0h0.5 M446.7,140.9h0.5 M412.3,155.5h0.5 M457.4,136.8h0.5 M457.8,117.6h0.5 M433.6,164.0h0.5 M454.0,151.4h0.5 M450.8,136.4h0.5 M446.3,158.5h0.5 M449.3,149.1h0.5 M447.8,150.0h0.5 M444.8,118.1h0.5 M444.7,127.9h0.5 M431.9,143.9h0.5 M440.1,121.8h0.5 M429.9,146.9h0.5 M431.5,143.5h0.5 M439.9,146.5h0.5 M429.7,145.9h0.5 M444.3,122.6h0.5 M447.1,126.9h0.5 M441.6,152.9h0.5 M445.2,124.1h0.5 M424.8,124.0h0.5 M444.3,145.2h0.5 M413.2,154.9h0.5 M452.3,134.6h0.5 M435.8,146.9h0.5 M423.6,136.1h0.5 M444.0,137.4h0.5 M436.7,144.7h0.5 M459.2,147.2h0.5 M441.2,135.3h0.5 M453.0,144.0h0.5 M436.4,164.1h0.5 M454.3,128.0h0.5 M432.7,163.5h0.5 M430.6,168.2h0.5 M424.1,111.6h0.5 M427.3,135.9h0.5 M429.2,131.0h0.5 M438.8,145.0h0.5 M428.6,134.4h0.5 M454.2,158.3h0.5 M449.7,162.9h0.5 M434.2,157.0h0.5 M458.3,129.6h0.5 M423.7,127.3h0.5 M430.3,156.0h0.5 M427.1,136.9h0.5 M419.7,117.1h0.5 M434.3,130.8h0.5 M448.2,144.7h0.5 M413.0,154.5h0.5 M421.0,136.4h0.5 M423.0,129.5h0.5 M428.8,123.6h0.5 M427.0,138.2h0.5 M446.0,154.1h0.5 M459.8,116.7h0.5 M431.4,162.2h0.5 M421.8,140.0h0.5 M446.0,167.4h0.5 M444.0,147.9h0.5 M434.4,152.6h0.5 M437.8,148.1h0.5 M428.1,140.6h0.5 M425.0,125.1h0.5 M425.5,129.1h0.5 M427.7,133.3h0.5 M416.6,147.5h0.5 M440.6,167.4h0.5 M423.8,128.5h0.5 M437.2,128.9h0.5 M426.4,154.2h0.5 M434.0,116.6h0.5 M451.1,139.9h0.5 M454.1,141.4h0.5 M431.8,146.5h0.5 M453.3,144.3h0.5 M432.5,120.3h0.5 M438.8,125.2h0.5 M435.1,120.3h0.5 M425.1,126.9h0.5 M427.7,124.2h0.5 M452.4,154.9h0.5 M432.1,125.8h0.5 M450.6,138.6h0.5 M443.8,158.6h0.5 M431.1,149.5h0.5 M442.2,135.6h0.5 M434.1,132.5h0.5 M457.8,158.8h0.5 M447.9,132.5h0.5 M426.6,128.5h0.5 M442.3,154.9h0.5 M448.2,155.1h0.5 M419.8,145.6h0.5 M440.6,121.1h0.5 M427.6,134.6h0.5 M454.0,148.6h0.5 M425.3,143.0h0.5 M441.1,151.8h0.5 M423.4,148.4h0.5 M427.7,134.4h0.5 M425.3,129.6h0.5 M442.6,114.3h0.5 M424.8,137.8h0.5 M435.4,167.3h0.5 M417.8,151.4h0.5 M423.8,148.1h0.5 M422.0,132.9h0.5 M420.1,135.9h0.5 M456.4,133.8h0.5 M440.3,142.5h0.5 M440.4,130.3h0.5 M444.0,143.8h0.5 M443.8,143.2h0.5 M440.3,142.4h0.5 M430.0,159.1h0.5 M454.4,137.5h0.5 M446.6,125.1h0.5 M452.4,129.2h0.5 M436.8,157.4h0.5 M429.8,143.0h0.5 M449.3,133.6h0.5 M440.7,159.7h0.5 M439.5,130.0h0.5 M431.1,138.3h0.5 M436.5,152.3h0.5 M416.2,141.2h0.5 M438.8,166.2h0.5 M417.4,128.3h0.5 M447.7,141.6h0.5 M450.3,141.6h0.5 M427.9,141.4h0.5 M452.1,153.7h0.5 M438.8,144.6h0.5 M450.0,152.1h0.5 M439.4,153.8h0.5 M437.5,124.7h0.5 M447.8,161.3h0.5 M454.1,141.3h0.5 M420.8,148.7h0.5 M428.7,112.8h0.5 M438.2,130.2h0.5 M437.1,134.6h0.5 M446.7,155.7h0.5 M442.7,160.8h0.5 M414.2,154.0h0.5 M449.4,136.0h0.5 M437.8,123.5h0.5 M430.6,146.9h0.5 M420.1,111.7h0.5 M431.7,129.1h0.5 M423.9,139.6h0.5 M418.6,159.4h0.5 M450.9,142.8h0.5 M428.7,141.3h0.5 M434.9,129.8h0.5 M427.9,148.9h0.5 M424.7,132.2h0.5 M430.5,126.6h0.5 M439.5,122.2h0.5 M448.0,153.4h0.5 M435.8,155.5h0.5 M450.1,136.1h0.5 M435.5,132.7h0.5 M431.5,136.2h0.5 M437.2,150.2h0.5 M464.0,147.4h0.5 M448.1,138.6h0.5 M457.1,144.1h0.5 M433.9,137.8h0.5 M436.5,136.1h0.5 M438.4,169.6h0.5 M437.0,130.4h0.5 M412.7,140.5h0.5 M423.4,130.2h0.5 M437.9,147.5h0.5 M442.0,160.0h0.5 M424.1,131.9h0.5 M425.0,126.4h0.5 M427.8,129.0h0.5 M444.7,125.5h0.5 M446.5,117.7h0.5 M429.9,123.1h0.5 M436.1,149.4h0.5 M430.8,131.8h0.5 M423.5,128.9h0.5 M425.2,131.4h0.5 M436.7,155.6h0.5 M431.3,154.6h0.5 M423.0,147.5h0.5 M421.3,122.1h0.5 M438.6,113.1h0.5 M422.6,147.5h0.5 M429.5,130.7h0.5 M442.5,127.4h0.5 M421.3,135.2h0.5 M434.8,143.8h0.5 M433.4,159.9h0.5 M442.7,139.4h0.5 M464.6,117.4h0.5 M438.7,129.5h0.5 M462.6,146.0h0.5 M445.9,147.6h0.5 M454.0,133.0h0.5 M447.0,114.9h0.5 M442.7,159.1h0.5 M446.5,150.7h0.5 M431.3,165.0h0.5 M442.3,151.5h0.5 M452.0,149.6h0.5 M418.4,129.0h0.5 M433.1,121.6h0.5 M441.7,134.8h0.5 M431.7,161.6h0.5 M434.3,137.5h0.5 M449.7,135.8h0.5 M442.1,168.1h0.5 M418.3,119.3h0.5 M426.5,138.1h0.5 M421.7,145.3h0.5 M425.8,158.9h0.5 M441.9,151.9h0.5 M438.2,144.5h0.5 M415.0,137.9h0.5 M413.1,161.8h0.5 M421.2,127.2h0.5 M421.5,167.2h0.5 M432.7,132.8h0.5 M435.1,132.8h0.5 M426.5,152.3h0.5 M429.7,155.1h0.5 M443.0,155.7h0.5 M455.3,157.8h0.5 M423.5,162.1h0.5 M450.8,124.8h0.5 M451.6,112.2h0.5 M448.2,135.0h0.5 M431.9,138.7h0.5 M428.4,152.7h0.5 M434.9,140.6h0.5 M436.1,135.7h0.5 M422.8,150.6h0.5 M446.0,123.0h0.5 M447.5,161.0h0.5 M437.7,164.1h0.5 M426.2,146.0h0.5 M430.4,151.7h0.5 M417.1,136.8h0.5 M440.9,139.6h0.5 M426.0,164.5h0.5 M416.1,142.7h0.5 M433.4,135.7h0.5 M443.7,145.1h0.5 M433.3,151.6h0.5 M434.5,149.7h0.5 M451.6,145.2h0.5 M436.4,132.6h0.5 M453.4,156.4h0.5 M442.3,146.2h0.5 M425.1,142.8h0.5 M439.4,123.4h0.5 M423.5,139.7h0.5 M459.7,147.1h0.5 M417.3,161.2h0.5 M446.9,152.5h0.5 M428.7,139.7h0.5 M463.2,158.9h0.5 M415.7,134.8h0.5 M424.1,131.2h0.5 M444.8,162.2h0.5 M417.6,150.4h0.5 M446.5,145.5h0.5 M452.7,159.7h0.5 M425.4,143.7h0.5 M439.1,123.0h0.5 M432.7,157.5h0.5 M440.6,142.1h0.5 M447.8,128.1h0.5 M451.1,134.8h0.5 M433.5,135.2h0.5 M419.5,150.6h0.5 M420.1,154.6h0.5 M425.5,161.4h0.5 M439.9,159.9h0.5 M421.7,150.5h0.5 M445.1,146.0h0.5 M434.3,132.6h0.5 M419.7,125.4h0.5 M426.1,152.4h0.5 M436.1,138.4h0.5 M425.9,144.5h0.5 M416.2,132.9h0.5 M445.9,127.4h0.5 M434.1,135.9h0.5 M424.7,129.7h0.5 M422.6,140.9h0.5 M439.7,151.6h0.5 M440.3,123.5h0.5 M453.4,147.3h0.5 M445.2,121.7h0.5 M442.4,159.3h0.5 M428.4,144.4h0.5 M435.1,152.2h0.5 M437.9,146.0h0.5 M424.2,123.2h0.5 M423.3,150.2h0.5 M452.9,131.8h0.5 M414.9,147.7h0.5 M435.3,128.3h0.5 M455.1,153.0h0.5 M435.8,120.3h0.5 M451.9,159.7h0.5 M446.5,167.5h0.5 M422.7,126.2h0.5 M447.0,148.9h0.5 M435.3,134.3h0.5 M449.0,146.0h0.5 M447.0,124.0h0.5 M436.7,148.6h0.5 M449.0,115.7h0.5 M433.3,131.6h0.5 M436.0,139.8h0.5 M441.4,154.4h0.5 M439.4,140.8h0.5 M447.2,164.1h0.5 M436.8,129.4h0.5 M458.6,156.5h0.5 M463.9,135.5h0.5 M431.0,139.3h0.5 M434.8,118.9h0.5 M446.8,118.5h0.5 M422.3,146.1h0.5 M421.1,120.6h0.5 M444.6,131.8h0.5 M453.3,145.9h0.5 M416.5,132.8h0.5 M436.5,132.3h0.5 M429.0,127.1h0.5 M438.2,154.5h0.5 M422.2,161.8h0.5 M425.2,137.5h0.5 M457.5,151.6h0.5 M436.6,111.6h0.5 M437.1,136.4h0.5 M433.2,159.5h0.5 M428.9,170.5h0.5 M436.6,144.6h0.5 M432.0,143.6h0.5 M453.5,145.9h0.5 M423.1,129.8h0.5 M451.1,150.8h0.5 M425.0,140.0h0.5 M437.3,151.2h0.5 M423.6,143.6h0.5 M419.3,129.7h0.5 M433.1,163.6h0.5 M434.9,168.4h0.5 M441.0,162.6h0.5 M434.0,113.4h0.5 M459.0,139.5h0.5 M429.5,151.8h0.5 M431.2,136.0h0.5 M438.6,148.4h0.5 M428.5,129.1h0.5 M456.8,128.3h0.5 M424.4,139.1h0.5 M434.2,146.7h0.5 M456.2,162.8h0.5 M435.5,144.0h0.5 M448.6,140.1h0.5 M438.2,124.6h0.5 M441.2,140.7h0.5 M417.5,145.9h0.5 M464.7,147.5h0.5 M425.7,162.5h0.5 M440.6,145.1h0.5 M455.6,156.6h0.5 M463.0,129.3h0.5 M430.4,140.7h0.5 M438.6,123.2h0.5 M439.7,119.8h0.5 M428.7,138.0h0.5 M439.3,147.2h0.5 M426.2,147.5h0.5 M439.9,140.6h0.5 M436.4,133.9h0.5 M459.5,163.9h0.5 M439.3,163.1h0.5 M424.7,133.8h0.5 M431.8,149.1h0.5 M431.8,127.5h0.5 M416.6,124.5h0.5 M448.1,149.7h0.5 M417.8,171.6h0.5 M429.8,134.7h0.5 M433.8,142.7h0.5 M431.1,141.5h0.5 M446.0,156.5h0.5 M427.3,139.4h0.5 M426.3,135.1h0.5 M434.8,137.0h0.5 M443.7,127.3h0.5 M441.0,153.7h0.5 M432.0,136.9h0.5 M443.8,136.1h0.5 M431.7,145.3h0.5 M439.1,151.2h0.5 M418.2,135.4h0.5 M441.7,150.8h0.5 M428.4,134.8h0.5 M455.7,146.3h0.5 M452.0,120.7h0.5 M441.5,133.3h0.5 M429.5,162.1h0.5 M422.4,127.1h0.5 M427.0,138.2h0.5 M436.4,148.7h0.5 M452.0,149.5h0.5 M458.8,158.9h0.5 M443.1,139.7h0.5 M453.8,137.3h0.5 M448.8,142.6h0.5 M428.8,152.5h0.5 M444.9,146.9h0.5 M450.1,143.9h0.5 M426.6,143.3h0.5 M460.1,126.7h0.5 M412.6,142.1h0.5 M422.9,163.3h0.5 M438.1,127.3h0.5 M435.3,127.1h0.5 M442.3,156.8h0.5 M451.6,158.7h0.5 M435.8,160.8h0.5 M442.3,121.8h0.5 M453.6,128.0h0.5 M428.5,117.4h0.5 M420.2,128.8h0.5 M420.7,135.9h0.5 M446.2,137.1h0.5 M441.6,159.5h0.5 M428.2,165.4h0.5 M435.5,141.2h0.5 M440.6,163.5h0.5 M420.4,156.7h0.5 M429.8,143.5h0.5 M451.1,154.1h0.5 M422.5,127.6h0.5 M420.6,141.4h0.5 M462.3,139.8h0.5 M414.2,153.7h0.5 M424.3,116.9h0.5 M441.0,141.9h0.5 M438.2,153.3h0.5 M438.2,160.2h0.5 M452.0,125.6h0.5 M412.5,124.4h0.5 M441.0,138.8h0.5 M446.5,139.2h0.5 M419.6,124.4h0.5 M433.0,155.2h0.5 M455.1,126.1h0.5 M441.7,141.0h0.5 M421.1,123.3h0.5 M456.1,135.0h0.5 M434.9,149.2h0.5 M440.7,153.0h0.5 M425.6,135.9h0.5 M439.3,147.5h0.5 M426.6,115.0h0.5 M447.1,155.4h0.5 M448.2,140.1h0.5 M412.8,135.7h0.5 M462.1,146.8h0.5 M439.2,116.2h0.5 M427.7,157.5h0.5 M440.3,139.9h0.5 M452.2,153.3h0.5 M443.1,139.3h0.5 M441.4,158.5h0.5 M440.1,122.0h0.5 M433.7,137.6h0.5 M441.4,162.2h0.5 M435.1,135.1h0.5 M445.5,149.5h0.5 M425.9,149.4h0.5 M438.5,147.5h0.5 M416.6,115.2h0.5 M448.6,157.8h0.5 M419.4,165.3h0.5 M421.4,129.2h0.5 M463.9,121.6h0.5 M445.1,155.0h0.5 M450.3,152.5h0.5 M439.3,166.5h0.5 M435.0,143.6h0.5 M441.2,136.6h0.5 M434.2,161.3h0.5 M456.9,151.7h0.5 M434.6,134.2h0.5 M431.1,136.2h0.5 M430.3,140.7h0.5 M433.2,159.2h0.5 M417.8,135.6h0.5 M446.5,135.6h0.5 M430.8,150.9h0.5 M435.0,126.7h0.5 M438.0,152.2h0.5 M414.3,156.6h0.5 M414.0,153.1h0.5 M419.1,145.8h0.5 M435.5,158.4h0.5 M435.1,135.4h0.5 M426.5,145.5h0.5 M433.0,156.1h0.5 M441.5,161.9h0.5 M445.3,145.0h0.5 M435.3,152.1h0.5 M446.0,121.0h0.5 M441.3,136.5h0.5 M440.3,154.8h0.5 M449.1,114.6h0.5 M439.0,142.4h0.5 M428.9,156.5h0.5 M448.1,142.6h0.5 M454.4,165.4h0.5 M438.8,155.6h0.5 M447.5,169.7h0.5 M446.6,153.2h0.5 M437.8,153.8h0.5 M456.6,141.1h0.5 M435.0,127.1h0.5 M429.9,133.4h0.5 M451.5,148.0h0.5 M460.0,141.7h0.5 M433.2,139.1h0.5 M442.0,116.8h0.5 M434.5,139.1h0.5 M446.1,136.8h0.5 M438.2,122.3h0.5 M420.2,143.4h0.5 M457.5,127.1h0.5 M416.0,161.3h0.5 M441.5,155.2h0.5 M434.3,146.5h0.5 M435.3,142.6h0.5 M459.5,136.2h0.5 M431.4,142.7h0.5 M434.2,169.4h0.5 M434.4,148.9h0.5 M420.7,151.3h0.5 M444.9,153.1h0.5 M415.9,132.8h0.5 M435.2,168.6h0.5 M461.4,159.0h0.5 M428.3,139.3h0.5 M446.7,111.6h0.5 M454.4,166.1h0.5 M447.8,138.2h0.5 M441.2,117.3h0.5 M424.3,135.5h0.5 M426.8,169.2h0.5 M451.4,150.6h0.5 M433.5,131.2h0.5 M463.3,146.4h0.5 M440.0,117.2h0.5" stroke="#c2c2c2" stroke-width="0.66" fill="none" stroke-linecap="round"/>
<path d="M413.9,144.3h0.5 M416.7,130.9h0.5 M414.9,119.6h0.5 M417.4,144.6h0.5 M414.8,146.3h0.5 M422.6,124.5h0.5 M422.4,132.5h0.5 M415.9,130.6h0.5 M422.8,148.2h0.5 M413.9,140.4h0.5 M420.3,141.1h0.5 M413.2,127.1h0.5 M416.7,137.6h0.5 M413.9,122.3h0.5 M418.7,137.5h0.5 M417.0,126.6h0.5 M413.9,144.3h0.5 M414.1,151.2h0.5 M420.2,142.2h0.5 M415.2,126.1h0.5 M415.5,125.7h0.5 M414.7,131.8h0.5 M413.9,146.7h0.5 M412.6,127.8h0.5 M420.8,137.9h0.5 M418.1,129.0h0.5 M417.4,148.5h0.5 M416.2,139.6h0.5 M421.0,141.3h0.5 M421.1,123.4h0.5 M417.8,128.6h0.5 M421.4,129.9h0.5 M413.5,128.3h0.5 M419.0,139.8h0.5 M416.7,149.0h0.5 M412.8,123.3h0.5 M416.1,134.8h0.5 M416.5,139.4h0.5 M417.5,143.5h0.5 M417.0,127.1h0.5 M415.3,121.6h0.5 M415.5,133.0h0.5 M413.7,140.7h0.5 M421.3,134.9h0.5 M414.5,124.2h0.5 M413.2,128.0h0.5 M415.5,143.2h0.5 M416.9,150.2h0.5 M417.7,137.6h0.5 M417.2,120.4h0.5 M415.9,128.2h0.5 M415.2,134.9h0.5 M415.0,134.7h0.5 M417.5,138.4h0.5 M413.4,144.4h0.5 M416.3,138.9h0.5 M423.1,151.9h0.5 M424.8,132.9h0.5 M417.8,140.1h0.5 M416.5,133.8h0.5 M419.4,146.6h0.5 M424.9,129.9h0.5 M418.0,127.8h0.5 M415.0,111.6h0.5 M424.6,119.3h0.5 M416.5,117.5h0.5 M414.8,125.0h0.5 M415.2,134.0h0.5 M414.8,123.9h0.5 M422.2,128.2h0.5 M417.0,150.3h0.5 M416.3,134.2h0.5 M419.9,130.9h0.5 M416.4,133.7h0.5 M414.6,142.7h0.5 M417.2,149.3h0.5 M417.6,121.1h0.5 M417.7,132.4h0.5 M415.1,144.9h0.5 M417.7,119.2h0.5 M424.1,133.8h0.5 M418.0,124.0h0.5 M412.6,117.3h0.5 M417.2,129.9h0.5 M422.2,137.9h0.5 M417.0,129.1h0.5 M420.0,121.4h0.5 M417.2,140.0h0.5 M412.9,123.3h0.5 M420.7,153.4h0.5 M417.6,153.5h0.5 M417.9,133.3h0.5 M414.5,123.0h0.5 M419.7,129.5h0.5 M413.5,138.8h0.5 M418.0,127.8h0.5 M416.9,133.6h0.5 M416.6,133.7h0.5 M413.7,147.0h0.5 M414.7,136.9h0.5 M418.5,125.1h0.5 M416.3,132.4h0.5 M417.5,141.2h0.5 M416.4,133.0h0.5 M419.9,136.4h0.5 M417.9,129.3h0.5 M415.8,125.6h0.5 M416.6,120.4h0.5 M420.1,139.8h0.5 M418.8,121.6h0.5 M416.8,140.1h0.5 M414.7,159.4h0.5 M422.0,131.6h0.5 M413.7,122.1h0.5 M418.3,146.7h0.5 M416.4,128.3h0.5 M413.9,140.6h0.5 M420.5,132.2h0.5 M417.6,115.6h0.5 M413.9,134.9h0.5 M414.8,138.0h0.5 M412.5,141.4h0.5" stroke="#b8b8b8" stroke-width="0.66" fill="none" stroke-linecap="round"/>
<path d="M437.1,123.4h0.5 M443.3,130.8h0.5 M434.9,123.5h0.5 M434.9,124.2h0.5 M437.1,118.0h0.5 M445.6,125.8h0.5 M440.0,130.6h0.5 M431.8,126.0h0.5 M448.0,122.2h0.5 M435.6,120.0h0.5 M446.1,129.3h0.5 M441.6,128.6h0.5 M436.6,122.0h0.5 M444.1,119.2h0.5 M441.0,123.8h0.5 M435.7,125.0h0.5 M433.6,120.7h0.5 M430.0,117.6h0.5 M435.5,125.7h0.5 M440.0,117.6h0.5 M438.7,135.2h0.5 M440.3,126.0h0.5 M429.3,121.4h0.5 M445.6,116.7h0.5 M435.4,120.2h0.5 M439.2,126.9h0.5 M431.1,127.3h0.5 M426.7,119.3h0.5 M441.9,118.0h0.5 M435.6,121.2h0.5 M447.9,118.8h0.5 M444.7,133.7h0.5 M437.9,119.8h0.5 M439.8,118.8h0.5 M437.9,118.4h0.5 M432.3,115.7h0.5 M444.4,120.4h0.5 M434.0,129.2h0.5 M438.9,122.1h0.5 M436.0,123.8h0.5 M438.2,121.6h0.5 M438.9,127.6h0.5 M438.8,130.3h0.5 M444.7,118.6h0.5 M434.9,117.3h0.5 M435.9,127.3h0.5 M438.0,121.2h0.5 M440.2,112.7h0.5 M441.3,122.8h0.5 M443.1,122.2h0.5 M444.7,129.1h0.5 M438.2,126.6h0.5 M435.2,120.1h0.5 M434.2,122.6h0.5 M433.6,118.2h0.5 M438.6,116.3h0.5 M442.6,119.0h0.5 M438.4,122.1h0.5 M444.8,126.7h0.5 M438.5,120.7h0.5 M444.0,123.0h0.5 M434.4,124.3h0.5 M442.8,123.5h0.5 M439.9,131.1h0.5 M437.0,127.5h0.5 M447.6,132.2h0.5 M433.9,126.3h0.5 M440.3,135.7h0.5 M446.1,128.8h0.5 M445.6,126.5h0.5 M434.4,134.9h0.5 M431.1,127.6h0.5 M443.6,124.7h0.5 M444.8,123.6h0.5 M443.8,124.9h0.5 M436.0,128.6h0.5 M436.9,126.9h0.5 M434.4,124.9h0.5 M442.5,129.5h0.5 M434.2,121.0h0.5 M439.7,118.5h0.5 M442.8,135.6h0.5 M443.1,126.9h0.5 M435.5,126.6h0.5 M442.4,133.6h0.5 M438.0,130.0h0.5 M438.0,122.3h0.5 M437.6,125.1h0.5 M432.2,121.9h0.5 M447.2,114.6h0.5 M444.2,127.6h0.5 M437.6,119.8h0.5 M445.5,122.0h0.5 M441.3,122.6h0.5 M434.1,129.0h0.5 M443.1,119.0h0.5 M445.3,117.4h0.5 M433.3,128.1h0.5 M437.6,123.7h0.5 M447.8,118.3h0.5 M442.9,121.7h0.5 M440.2,122.6h0.5 M435.8,124.0h0.5 M435.1,123.8h0.5 M434.9,122.4h0.5 M440.4,116.7h0.5 M439.4,127.3h0.5 M440.3,128.4h0.5 M434.7,126.7h0.5 M439.7,128.2h0.5 M439.4,123.9h0.5 M439.1,123.0h0.5 M434.5,120.3h0.5 M428.7,134.3h0.5 M439.6,124.9h0.5 M442.9,126.3h0.5 M439.4,115.8h0.5 M433.7,132.2h0.5 M441.9,127.1h0.5 M434.4,121.3h0.5 M441.1,119.8h0.5 M445.8,119.9h0.5 M437.6,117.9h0.5 M441.5,130.3h0.5 M440.8,123.7h0.5 M437.9,127.8h0.5 M439.7,132.6h0.5 M438.4,121.8h0.5 M437.1,114.2h0.5 M440.9,124.4h0.5 M431.7,117.9h0.5 M434.4,122.2h0.5 M434.6,127.6h0.5 M445.7,120.5h0.5 M439.9,118.4h0.5 M446.4,118.3h0.5 M435.8,123.8h0.5 M435.7,137.2h0.5 M438.8,122.5h0.5 M434.8,123.3h0.5 M436.7,121.6h0.5 M444.7,120.8h0.5 M441.8,120.6h0.5 M444.8,119.9h0.5 M434.9,122.5h0.5 M446.0,121.7h0.5 M435.4,123.0h0.5 M436.2,125.0h0.5 M436.3,125.3h0.5" stroke="#bdbdbd" stroke-width="0.66" fill="none" stroke-linecap="round"/>
<path d="M457.9,146.2h0.5 M462.2,143.5h0.5 M464.6,157.1h0.5 M449.7,150.2h0.5 M446.5,136.4h0.5 M451.0,128.2h0.5 M453.8,138.1h0.5 M465.6,150.1h0.5 M449.9,129.9h0.5 M447.9,129.7h0.5 M446.4,139.4h0.5 M442.2,135.0h0.5 M455.1,131.1h0.5 M443.8,132.3h0.5 M457.6,128.6h0.5 M462.5,116.0h0.5 M446.0,147.8h0.5 M461.0,136.4h0.5 M440.1,135.3h0.5 M445.3,129.7h0.5 M449.0,130.9h0.5 M451.3,141.3h0.5 M449.6,114.4h0.5 M452.1,133.3h0.5 M445.1,168.5h0.5 M463.2,158.0h0.5 M453.1,132.4h0.5 M454.9,162.0h0.5 M451.0,137.2h0.5 M447.6,138.3h0.5 M457.5,126.5h0.5 M459.0,141.2h0.5 M460.5,125.5h0.5 M451.1,160.2h0.5 M452.8,122.2h0.5 M455.9,147.0h0.5 M451.6,132.9h0.5 M440.4,162.8h0.5 M448.6,144.4h0.5 M448.2,129.5h0.5 M453.6,127.1h0.5 M458.2,117.0h0.5 M455.8,155.8h0.5 M448.6,142.4h0.5 M457.5,133.3h0.5 M450.1,136.8h0.5 M450.5,133.2h0.5 M447.9,126.6h0.5 M447.2,141.6h0.5 M459.8,162.0h0.5 M442.8,125.9h0.5 M451.5,125.9h0.5 M446.3,136.3h0.5 M447.8,127.7h0.5 M453.2,128.6h0.5 M449.9,143.9h0.5 M456.7,142.4h0.5 M459.3,141.6h0.5 M441.5,159.9h0.5 M462.9,154.8h0.5 M448.7,148.2h0.5 M447.0,131.6h0.5 M455.7,140.8h0.5 M447.2,119.9h0.5 M457.3,139.6h0.5 M452.8,127.3h0.5 M446.4,138.9h0.5 M438.8,156.3h0.5 M451.9,154.7h0.5 M458.4,131.6h0.5 M455.3,124.0h0.5 M445.4,158.1h0.5 M448.1,128.8h0.5 M455.1,139.9h0.5 M458.6,121.9h0.5 M450.0,124.6h0.5 M452.0,135.8h0.5 M445.3,115.4h0.5 M442.4,152.6h0.5 M449.2,124.4h0.5 M453.0,124.0h0.5 M458.2,151.7h0.5 M452.1,131.6h0.5 M439.1,146.3h0.5 M465.9,142.3h0.5 M448.1,150.7h0.5 M449.1,122.7h0.5 M451.0,147.9h0.5 M439.1,154.0h0.5 M463.1,139.3h0.5 M448.5,119.9h0.5 M455.6,135.7h0.5 M460.3,161.3h0.5 M460.5,142.1h0.5 M439.2,158.0h0.5 M448.5,132.9h0.5 M459.3,146.2h0.5 M444.6,135.0h0.5 M449.8,137.6h0.5 M443.6,160.4h0.5 M450.9,148.8h0.5 M459.2,169.8h0.5 M456.9,129.6h0.5 M448.8,151.8h0.5 M463.3,119.4h0.5 M465.2,131.9h0.5 M450.5,133.7h0.5 M456.0,137.0h0.5 M451.6,126.9h0.5 M462.0,144.7h0.5 M451.6,169.3h0.5 M456.4,158.8h0.5 M450.0,141.7h0.5 M450.8,151.8h0.5 M453.9,116.2h0.5 M455.9,136.7h0.5 M453.6,153.1h0.5 M450.0,148.6h0.5 M452.0,138.5h0.5 M448.4,138.3h0.5 M449.7,150.7h0.5 M435.9,147.7h0.5 M451.4,125.2h0.5 M457.3,139.3h0.5 M455.8,158.4h0.5 M453.4,117.7h0.5 M440.8,139.0h0.5 M443.5,169.6h0.5 M451.2,114.9h0.5 M436.8,132.2h0.5 M435.1,146.5h0.5 M435.9,152.0h0.5 M448.5,155.4h0.5 M443.8,133.4h0.5 M459.5,117.4h0.5 M456.6,159.9h0.5 M445.0,137.7h0.5 M463.5,160.4h0.5 M463.2,138.4h0.5 M449.4,137.5h0.5 M449.3,151.3h0.5 M457.8,147.0h0.5 M447.2,150.7h0.5 M455.4,143.1h0.5 M460.5,134.7h0.5 M452.8,155.2h0.5 M446.7,152.2h0.5 M457.1,160.7h0.5 M461.0,131.9h0.5 M464.4,133.5h0.5 M443.7,136.1h0.5 M449.6,127.5h0.5 M458.8,147.1h0.5 M456.3,120.8h0.5 M464.7,146.5h0.5 M460.1,144.9h0.5 M454.6,150.6h0.5 M453.2,159.2h0.5 M448.5,111.8h0.5 M449.5,139.8h0.5 M454.9,141.4h0.5 M455.0,146.3h0.5 M450.9,147.7h0.5 M455.9,129.3h0.5 M439.8,143.2h0.5 M455.5,155.0h0.5 M459.8,144.1h0.5 M460.1,132.1h0.5 M448.8,158.8h0.5 M443.8,139.8h0.5 M444.8,123.3h0.5 M464.4,133.9h0.5 M446.8,117.1h0.5 M453.6,148.7h0.5 M456.1,127.5h0.5 M463.5,143.0h0.5 M455.7,148.3h0.5 M456.0,135.7h0.5 M454.6,130.2h0.5 M453.9,126.8h0.5 M442.2,131.9h0.5 M451.0,130.6h0.5 M450.0,132.6h0.5 M452.4,164.3h0.5 M456.1,151.9h0.5 M459.0,152.1h0.5 M455.0,151.8h0.5 M459.5,138.0h0.5 M450.2,140.0h0.5 M451.7,146.6h0.5 M449.0,134.5h0.5 M453.7,147.0h0.5 M451.4,119.7h0.5 M450.4,151.7h0.5 M450.6,157.4h0.5 M448.6,136.8h0.5 M457.6,156.1h0.5 M450.1,160.4h0.5 M453.4,145.7h0.5 M464.5,151.7h0.5 M450.6,139.4h0.5 M445.9,155.5h0.5 M454.6,165.9h0.5 M460.5,140.5h0.5 M448.0,135.9h0.5 M460.8,138.6h0.5 M460.0,157.2h0.5 M462.4,143.7h0.5 M457.1,122.8h0.5 M454.5,140.7h0.5 M458.5,116.2h0.5 M450.0,171.9h0.5 M453.3,133.9h0.5 M452.9,138.5h0.5 M449.8,148.6h0.5 M454.0,156.0h0.5 M454.6,160.5h0.5 M442.7,165.1h0.5 M444.4,133.9h0.5 M452.6,122.0h0.5 M447.9,142.6h0.5 M455.0,121.3h0.5 M431.7,149.5h0.5 M440.8,145.1h0.5 M455.4,151.3h0.5 M448.3,132.1h0.5 M445.2,122.4h0.5 M450.4,163.9h0.5 M457.0,128.1h0.5 M442.6,131.8h0.5 M452.0,144.3h0.5 M455.5,155.6h0.5 M443.0,119.1h0.5 M451.5,148.4h0.5 M448.3,144.1h0.5 M451.5,156.2h0.5 M450.7,133.9h0.5 M455.6,154.0h0.5 M447.7,138.9h0.5 M447.2,124.7h0.5 M449.9,135.7h0.5 M446.5,138.5h0.5 M451.5,145.5h0.5 M448.3,120.9h0.5 M451.2,150.0h0.5 M460.9,139.2h0.5 M450.3,130.1h0.5 M462.4,132.1h0.5 M448.6,139.6h0.5 M450.6,141.2h0.5 M455.0,163.7h0.5 M455.6,146.1h0.5 M442.0,170.8h0.5 M455.7,152.5h0.5 M449.9,139.1h0.5 M449.5,137.9h0.5 M449.4,151.2h0.5 M459.5,139.7h0.5 M450.1,151.9h0.5 M450.7,147.9h0.5 M447.7,159.7h0.5 M449.0,148.1h0.5 M464.0,145.9h0.5 M450.3,150.6h0.5 M449.5,138.3h0.5 M458.1,119.6h0.5 M457.7,141.3h0.5 M456.1,126.3h0.5 M453.0,148.6h0.5 M451.6,137.3h0.5 M456.8,141.2h0.5 M459.8,153.8h0.5 M451.2,136.9h0.5 M457.0,133.0h0.5 M443.3,157.6h0.5 M442.5,134.7h0.5 M461.1,146.9h0.5 M459.7,161.0h0.5 M453.5,120.0h0.5 M457.3,120.5h0.5 M451.3,141.7h0.5 M454.5,140.0h0.5 M461.1,145.0h0.5 M459.6,139.3h0.5 M452.3,142.7h0.5 M455.5,151.3h0.5" stroke="#bbbbbb" stroke-width="0.66" fill="none" stroke-linecap="round"/>
<path d="M421.3,165.9h0.5 M447.2,146.1h0.5 M430.2,161.5h0.5 M423.4,158.6h0.5 M415.8,163.7h0.5 M419.4,171.6h0.5 M426.1,153.6h0.5 M428.6,163.4h0.5 M432.0,147.8h0.5 M425.8,170.9h0.5 M425.8,149.9h0.5 M428.6,165.1h0.5 M436.4,165.5h0.5 M417.2,169.2h0.5 M430.8,169.4h0.5 M423.8,168.4h0.5 M430.0,171.8h0.5 M429.7,163.2h0.5 M423.9,159.6h0.5 M434.1,151.4h0.5 M427.4,171.2h0.5 M417.3,162.2h0.5 M429.5,158.7h0.5 M431.5,159.1h0.5 M412.3,168.3h0.5 M425.2,158.2h0.5 M416.7,166.5h0.5 M417.9,154.1h0.5 M419.0,165.7h0.5 M430.0,169.5h0.5 M418.2,171.2h0.5 M438.0,164.8h0.5 M428.3,156.9h0.5 M429.5,164.4h0.5 M425.6,160.8h0.5 M435.2,162.4h0.5 M415.3,164.1h0.5 M433.3,152.4h0.5 M416.3,163.7h0.5 M428.4,165.6h0.5 M427.5,166.5h0.5 M419.1,160.7h0.5 M424.5,164.9h0.5 M441.0,167.6h0.5 M416.9,164.5h0.5 M439.0,162.8h0.5 M431.4,163.3h0.5 M416.2,162.6h0.5 M422.1,154.5h0.5 M424.1,159.9h0.5 M423.3,166.6h0.5 M416.7,162.7h0.5 M428.3,164.0h0.5 M427.5,162.8h0.5 M412.6,149.7h0.5 M420.6,159.8h0.5 M417.8,157.5h0.5 M424.4,167.1h0.5 M430.7,163.3h0.5 M433.1,158.8h0.5 M423.8,155.1h0.5 M424.3,167.6h0.5 M418.1,161.7h0.5 M423.2,161.9h0.5 M422.0,163.9h0.5 M415.3,163.0h0.5 M438.8,155.5h0.5 M431.8,158.0h0.5 M430.7,166.0h0.5 M438.6,166.2h0.5 M424.4,148.3h0.5 M421.7,154.9h0.5 M431.8,159.4h0.5 M416.8,160.5h0.5 M437.8,155.2h0.5 M418.8,165.4h0.5 M420.2,170.1h0.5 M419.3,154.8h0.5 M413.2,160.8h0.5 M434.1,162.3h0.5 M420.5,152.9h0.5 M427.3,158.1h0.5 M443.9,155.0h0.5 M414.2,154.4h0.5 M426.7,165.7h0.5 M427.0,169.3h0.5 M430.8,158.5h0.5 M438.8,157.4h0.5 M426.9,162.4h0.5 M434.4,161.9h0.5 M427.9,150.3h0.5 M424.5,163.0h0.5 M437.4,151.7h0.5 M415.5,167.2h0.5 M443.9,163.0h0.5 M422.2,156.8h0.5 M429.1,168.5h0.5 M431.5,156.4h0.5 M419.5,161.0h0.5 M428.6,165.5h0.5 M422.0,168.4h0.5 M430.9,160.3h0.5 M426.8,171.8h0.5 M430.4,160.3h0.5 M422.5,167.9h0.5 M428.3,163.0h0.5 M419.3,160.6h0.5 M414.8,162.9h0.5 M417.7,153.8h0.5 M443.7,154.4h0.5 M435.0,168.4h0.5 M429.0,162.5h0.5 M424.8,165.2h0.5 M428.4,165.6h0.5 M430.4,152.3h0.5 M414.9,161.9h0.5 M424.8,154.0h0.5 M432.9,165.1h0.5 M427.6,168.5h0.5 M430.2,161.4h0.5 M420.3,169.1h0.5 M421.3,157.7h0.5 M417.6,166.3h0.5 M427.3,161.2h0.5 M432.9,157.1h0.5 M431.9,159.0h0.5 M424.0,160.9h0.5 M427.0,170.6h0.5 M420.4,168.4h0.5 M435.2,161.2h0.5 M420.0,155.2h0.5 M423.7,162.9h0.5 M417.6,164.8h0.5 M427.3,168.1h0.5 M442.1,168.3h0.5 M418.5,161.4h0.5 M414.8,159.6h0.5 M413.8,169.0h0.5 M426.3,152.8h0.5 M431.5,170.0h0.5 M439.5,160.6h0.5 M431.3,163.3h0.5 M436.8,162.1h0.5 M434.2,156.0h0.5 M419.8,155.6h0.5 M423.7,154.5h0.5 M426.4,158.7h0.5 M413.9,163.6h0.5 M434.3,165.2h0.5 M427.9,160.7h0.5 M423.7,152.5h0.5 M441.0,152.0h0.5 M418.0,155.8h0.5 M416.5,163.0h0.5 M419.2,158.7h0.5 M428.0,154.8h0.5 M416.2,164.9h0.5 M421.1,151.0h0.5 M430.0,153.3h0.5 M425.0,162.2h0.5 M427.4,163.7h0.5 M421.8,161.9h0.5 M419.1,167.3h0.5 M424.6,165.2h0.5 M421.4,160.6h0.5 M429.0,166.0h0.5 M422.0,145.5h0.5 M426.2,166.4h0.5 M435.4,160.5h0.5 M433.7,140.4h0.5 M421.8,158.2h0.5 M441.8,160.6h0.5 M446.0,162.3h0.5 M421.5,158.5h0.5 M418.3,162.8h0.5 M426.3,156.0h0.5 M439.4,168.5h0.5 M422.6,165.2h0.5 M423.7,159.0h0.5 M418.1,158.0h0.5 M424.1,160.1h0.5 M434.3,156.9h0.5 M431.1,152.7h0.5 M428.3,166.6h0.5 M431.8,171.7h0.5 M434.9,159.5h0.5 M414.0,147.8h0.5 M416.4,161.2h0.5 M428.7,164.7h0.5 M426.1,160.9h0.5 M428.1,169.0h0.5 M425.7,167.9h0.5 M436.7,163.4h0.5 M430.9,164.2h0.5 M434.9,167.5h0.5 M427.1,169.5h0.5 M435.1,163.6h0.5 M427.3,166.7h0.5" stroke="#bdbdbd" stroke-width="0.66" fill="none" stroke-linecap="round"/>
<path d="M463.0,146.9h0.5 M457.4,150.8h0.5 M461.4,157.0h0.5 M461.0,150.0h0.5 M465.3,150.6h0.5 M459.8,156.4h0.5 M461.0,137.9h0.5 M457.9,139.9h0.5 M459.7,123.0h0.5 M456.3,143.1h0.5 M460.5,148.3h0.5 M464.5,137.3h0.5 M468.4,154.8h0.5 M452.3,149.8h0.5 M458.1,156.7h0.5 M469.3,133.2h0.5 M462.6,137.1h0.5 M456.1,158.2h0.5 M465.5,142.0h0.5 M460.5,135.3h0.5 M459.4,147.4h0.5 M461.4,159.0h0.5 M462.9,149.7h0.5 M462.5,157.9h0.5 M464.4,133.6h0.5 M461.3,155.3h0.5 M458.9,132.4h0.5 M458.0,135.2h0.5 M461.2,148.3h0.5 M464.3,126.7h0.5 M463.9,160.2h0.5 M472.9,146.6h0.5 M465.1,128.9h0.5 M466.5,170.4h0.5 M463.2,142.8h0.5 M468.2,138.5h0.5 M469.4,137.1h0.5 M464.0,154.0h0.5 M462.8,143.1h0.5 M457.9,167.3h0.5 M464.0,139.4h0.5 M456.7,159.7h0.5 M467.6,149.5h0.5 M460.3,157.3h0.5 M464.1,165.2h0.5 M461.5,141.6h0.5 M461.8,133.7h0.5 M457.6,143.5h0.5 M461.4,151.1h0.5 M456.3,145.8h0.5" stroke="#cccccc" stroke-width="0.6" fill="none" stroke-linecap="round"/>
<ellipse cx="424.6" cy="122.8" rx="11.5" ry="6.0" stroke="#aaa" stroke-width="0.6" fill="#a0a0a0"/>
<ellipse cx="424.6" cy="122.8" rx="8.6" ry="4.4" stroke="#666" stroke-width="0.6" fill="#5c5c5c"/>
<rect x="412.4" y="116.6" width="24.2" height="12.2" stroke="#b0b0b0" stroke-width="0.5" fill="none"/>
<text x="424.6" y="125.2" font-size="5.4" text-anchor="middle" font-weight="bold" fill="#000" stroke="#000" stroke-width="0.2">10.9</text>
<ellipse cx="451.2" cy="123" rx="7.2" ry="5.3" stroke="#666" stroke-width="1.0" fill="#d8d8d8" transform="rotate(-12 451.2 123)"/>
<ellipse cx="451.2" cy="123.2" rx="4.2" ry="2.8" stroke="#999" stroke-width="0.6" fill="#f2f2f2" transform="rotate(-12 451.2 123.2)"/>
<defs><radialGradient id="rg1" cx="0.5" cy="0.55" r="0.55"><stop offset="0" stop-color="#6a6a6a"/><stop offset="0.45" stop-color="#8a8a8a"/><stop offset="0.8" stop-color="#b2b2b2"/><stop offset="1" stop-color="#c8c8c8"/></radialGradient></defs>
<path d="M441.8,156 C441.8,146 445.5,139.8 451,139.8 C456.8,139.8 460.2,146 460.2,156 C460.2,164 459.5,169 458.5,172 L443.5,172 C442.5,168.5 441.8,162 441.8,156 Z" stroke="#fff" stroke-width="1.3" fill="url(#rg1)" />
<path d="M442.9,156 C442.9,147 446.2,141 451,141 C456,141 459.1,147 459.1,156 C459.1,164 458.4,169 457.5,172" stroke="#888" stroke-width="0.7" fill="none" />
<path d="M444.5,157 C444.7,149 447.5,144.8 451,144.8 C455,144.8 457.8,149 457.8,157 C457.8,164 457,169 456,172" stroke="#999" stroke-width="0.6" fill="none" />
<path d="M446.5,158 C446.7,152 448.5,149.3 451,149.3 C453.8,149.3 455.6,152 455.5,158 C455.3,163 454.8,167 454,170" stroke="#777" stroke-width="0.6" fill="none" />
<path d="M455.4,149.1h0.5 M449.6,154.9h0.5 M452.1,153.4h0.5 M456.1,154.5h0.5 M451.2,157.8h0.5 M453.9,159.1h0.5 M447.1,157.3h0.5 M449.0,162.4h0.5 M451.8,158.7h0.5 M450.3,153.8h0.5 M453.1,161.3h0.5 M456.1,155.9h0.5 M453.3,152.2h0.5 M451.9,157.1h0.5 M447.9,154.3h0.5 M450.8,156.0h0.5 M449.8,155.8h0.5 M450.5,155.1h0.5 M446.4,157.6h0.5 M454.8,156.2h0.5 M450.9,153.3h0.5 M448.6,152.7h0.5 M447.3,157.2h0.5 M448.3,158.5h0.5 M450.8,150.5h0.5 M455.9,155.4h0.5 M450.9,154.9h0.5 M447.7,156.9h0.5 M451.8,147.4h0.5 M450.6,157.6h0.5 M455.0,148.0h0.5 M448.8,162.2h0.5 M448.7,159.9h0.5 M448.1,151.8h0.5 M452.4,154.5h0.5 M447.9,157.2h0.5 M453.4,156.5h0.5 M456.0,151.2h0.5 M454.6,158.4h0.5 M452.6,160.4h0.5 M449.8,155.7h0.5 M447.3,153.7h0.5 M448.8,161.6h0.5 M449.4,158.6h0.5 M450.3,167.7h0.5" stroke="#222" stroke-width="0.8" fill="none" stroke-linecap="round"/>
<path d="M449.5,152.7h0.5 M452.2,149.7h0.5 M451.1,152.5h0.5 M449.5,155.2h0.5 M454.8,159.1h0.5 M452.5,157.6h0.5 M451.9,153.6h0.5 M451.3,155.6h0.5 M452.2,159.1h0.5 M448.9,151.3h0.5 M453.6,152.1h0.5 M453.2,166.0h0.5 M452.9,157.1h0.5 M450.8,156.6h0.5 M452.7,166.7h0.5 M452.6,155.4h0.5 M453.9,156.0h0.5 M453.4,157.0h0.5" stroke="#f0f0f0" stroke-width="0.9" fill="none" stroke-linecap="round"/>
<path d="M413.3,155 C414.5,152 418,151.2 420.8,151.5 C420.6,148.5 421,145.5 423.2,144.6 C425.5,144.3 426.3,147.5 426.3,150.8 C428.5,152.8 432,154.8 436,155.2 C438.5,155.3 440.5,155.5 442,156 L442,161 C439.5,161.3 436,161.2 433,161.8 C431.5,163.5 431,166 428.5,167 C424.5,168 418,167.8 414.5,166.2 C413,163 412.8,158 413.3,155 Z" stroke="#8a8a8a" stroke-width="0.7" fill="#fafafa" />
<path d="M415.8,157 C418,154.8 422,154.6 425,155.8 C428.5,157.2 430,159.8 428.5,162.5 C426,164.6 420.5,164.8 417.2,163.2 C415.2,161.8 414.9,159 415.8,157 Z" stroke="#aaa" stroke-width="0.6" fill="none" />
<path d="M418.5,158.2 C420.5,157.2 423,157.5 424.3,158.9 C424.7,160.4 423.1,161.6 421,161.6 C419,161.4 418,160 418.5,158.2 Z" stroke="#bbb" stroke-width="0.5" fill="none" />
<path d="M431.5,156.5 C434,157 437,157.2 440,157.6" stroke="#c8c8c8" stroke-width="0.5" fill="none" />
<path d="M423.9,238.2h0.5 M422.4,226.7h0.5 M422.7,232.7h0.5 M421.5,238.1h0.5 M424.4,234.4h0.5 M421.6,233.8h0.5 M425.8,229.6h0.5 M422.0,234.1h0.5 M424.0,227.2h0.5 M426.4,235.6h0.5 M430.6,222.7h0.5 M417.8,234.2h0.5 M430.7,239.7h0.5 M423.1,226.0h0.5 M424.3,228.0h0.5 M419.7,232.7h0.5 M420.2,229.5h0.5 M420.0,230.3h0.5 M425.0,232.4h0.5 M424.0,223.5h0.5 M417.1,231.1h0.5 M422.9,237.2h0.5 M417.4,239.3h0.5 M422.5,223.2h0.5 M420.6,228.2h0.5 M428.4,228.3h0.5 M424.3,224.8h0.5 M417.5,226.0h0.5 M416.4,229.3h0.5 M422.0,245.9h0.5 M421.0,240.8h0.5 M425.5,238.4h0.5 M423.7,230.7h0.5 M424.9,241.3h0.5 M419.7,221.8h0.5 M420.5,220.2h0.5 M421.2,229.2h0.5 M419.9,230.2h0.5 M427.8,232.3h0.5 M427.4,230.6h0.5 M423.4,220.8h0.5 M427.9,234.3h0.5 M428.8,231.2h0.5 M420.4,248.6h0.5 M418.5,215.8h0.5 M426.1,223.4h0.5 M418.2,234.0h0.5 M419.7,246.2h0.5 M431.4,249.3h0.5 M420.7,239.3h0.5 M420.3,227.6h0.5 M422.0,230.3h0.5 M424.3,229.2h0.5 M428.5,220.7h0.5 M424.5,219.0h0.5 M425.0,241.6h0.5 M429.1,237.0h0.5 M423.6,226.7h0.5 M421.4,233.2h0.5 M419.9,221.2h0.5 M428.1,236.1h0.5 M424.8,228.5h0.5 M425.7,228.5h0.5 M424.7,232.3h0.5 M423.1,226.8h0.5 M425.7,225.4h0.5 M429.4,239.3h0.5 M422.0,235.8h0.5 M426.4,232.2h0.5 M418.5,234.2h0.5" stroke="#cfcfcf" stroke-width="0.66" fill="none" stroke-linecap="round"/>
<path d="M449.1,239.2h0.5 M455.2,240.1h0.5 M446.4,242.9h0.5 M452.7,236.7h0.5 M449.9,237.2h0.5 M450.7,244.7h0.5 M456.6,239.1h0.5 M450.4,245.6h0.5 M449.4,243.7h0.5 M448.4,252.9h0.5 M447.9,243.0h0.5 M454.2,244.0h0.5 M454.0,243.8h0.5 M450.1,242.9h0.5 M452.3,241.0h0.5 M452.3,239.0h0.5 M448.0,245.7h0.5 M450.5,246.7h0.5 M454.8,238.4h0.5 M454.2,241.7h0.5 M451.1,233.1h0.5 M449.0,239.1h0.5 M448.5,235.3h0.5 M445.7,240.6h0.5 M451.0,243.5h0.5" stroke="#d6d6d6" stroke-width="0.66" fill="none" stroke-linecap="round"/>
<path d="M416.2,254.1h0.5 M430.3,261.4h0.5 M421.7,267.2h0.5 M417.6,261.1h0.5 M425.4,264.3h0.5 M425.5,260.0h0.5 M428.1,254.8h0.5 M413.1,261.0h0.5 M422.5,261.9h0.5 M413.6,255.3h0.5 M420.6,266.4h0.5 M426.8,270.4h0.5 M417.1,259.4h0.5 M415.0,255.9h0.5 M417.0,261.3h0.5 M418.6,263.5h0.5 M427.7,260.6h0.5 M420.3,262.1h0.5 M421.2,260.8h0.5 M419.3,262.6h0.5 M419.8,264.2h0.5 M422.7,267.3h0.5 M424.2,264.6h0.5 M421.7,259.7h0.5 M424.3,257.8h0.5 M423.6,270.4h0.5 M419.3,265.4h0.5 M424.5,262.0h0.5 M426.3,259.8h0.5 M417.1,264.6h0.5 M423.9,263.5h0.5 M425.7,256.6h0.5 M418.7,271.0h0.5 M420.9,267.3h0.5 M423.7,252.5h0.5" stroke="#d0d0d0" stroke-width="0.66" fill="none" stroke-linecap="round"/>
<path d="M441.3,273.6 C441.2,263 445,254 450.8,254 C456.6,254 460.5,263 460.6,273.6 Z" stroke="#555" stroke-width="0.7" fill="#f0f0f0" />
<path d="M443.8,273.6 C443.8,265 446.5,257.8 450.8,257.8 C455,257.8 458,265 458,273.6 Z" stroke="#999" stroke-width="0.6" fill="#c4c4c4" />
<path d="M445.5,273.6 C445.7,267 447.8,261.5 450.8,261.5 C453.8,261.5 456.2,267 456.2,273.6 Z" stroke="none" stroke-width="0" fill="#8a8a8a" />
<path d="M447,273.6 C447,268.5 448.3,264.5 450.3,264 C452.4,264.5 453.8,268.5 453.8,273.6 Z" stroke="none" stroke-width="0" fill="#4a4a4a" />
<path d="M448,273.6 C448,269.8 449,266.5 450,266.5 C451,266.5 451.8,269.8 451.8,273.6 Z" stroke="none" stroke-width="0" fill="#0d0d0d" />
<path d="M449.2,268.5 C449.8,268 450.4,268 450.8,269 C450.8,271 450.2,272.5 449.6,273" stroke="#bbb" stroke-width="0.4" fill="none" />
<text x="38.8" y="292.5" font-size="7.4" text-anchor="middle" font-weight="bold" fill="#111" stroke="#111" stroke-width="0.15" transform="rotate(-90 38.8 292.5)">cell number</text>
<text x="200.4" y="291" font-size="7.4" text-anchor="middle" font-weight="bold" fill="#111" stroke="#111" stroke-width="0.15" transform="rotate(-90 200.4 291)">cell number</text>
<line x1="43.8" y1="271" x2="43.8" y2="318.7" stroke="#555" stroke-width="1.1"/>
<path d="M41.8,271.5 L43.8,267 L45.8,271.5 Z" stroke="none" stroke-width="0" fill="#111" />
<line x1="204.4" y1="271" x2="204.4" y2="318.2" stroke="#555" stroke-width="1.1"/>
<path d="M202.4,271.5 L204.4,267 L206.4,271.5 Z" stroke="none" stroke-width="0" fill="#111" />
<line x1="122.8" y1="275.5" x2="122.8" y2="316" stroke="#555" stroke-width="1.1"/>
<path d="M120.8,276.0 L122.8,271.5 L124.8,276.0 Z" stroke="none" stroke-width="0" fill="#111" />
<line x1="282" y1="275.5" x2="282" y2="320" stroke="#555" stroke-width="1.1"/>
<path d="M280,276.0 L282,271.5 L284,276.0 Z" stroke="none" stroke-width="0" fill="#111" />
<text x="118.5" y="288.5" font-size="7.4" text-anchor="middle" font-weight="bold" fill="#111" stroke="#111" stroke-width="0.15" transform="rotate(-90 118.5 288.5)">CD11c</text>
<text x="277.8" y="288.5" font-size="7.4" text-anchor="middle" font-weight="bold" fill="#111" stroke="#111" stroke-width="0.15" transform="rotate(-90 277.8 288.5)">CD11c</text>
<text x="80.3" y="330" font-size="7.4" text-anchor="middle" font-weight="bold" fill="#111" stroke="#111" stroke-width="0.15" >CD45.1</text>
<text x="240.3" y="330" font-size="7.4" text-anchor="middle" font-weight="bold" fill="#111" stroke="#111" stroke-width="0.15" >CD45.1</text>
<text x="157.7" y="329.5" font-size="7.4" text-anchor="middle" font-weight="bold" fill="#111" stroke="#111" stroke-width="0.15" >I-A<tspan font-size="4.5" dy="-2.6">b</tspan></text>
<text x="317.2" y="329.5" font-size="7.4" text-anchor="middle" font-weight="bold" fill="#111" stroke="#111" stroke-width="0.15" >I-A<tspan font-size="4.5" dy="-2.6">b</tspan></text>
<line x1="58.7" y1="332.5" x2="98" y2="332.5" stroke="#555" stroke-width="1.1"/>
<path d="M97.5,330.5 L102,332.5 L97.5,334.5 Z" stroke="none" stroke-width="0" fill="#111" />
<line x1="219.3" y1="332.6" x2="256.7" y2="332.6" stroke="#555" stroke-width="1.1"/>
<path d="M256.2,330.6 L260.7,332.6 L256.2,334.6 Z" stroke="none" stroke-width="0" fill="#111" />
<line x1="136.8" y1="332.4" x2="175.5" y2="332.4" stroke="#555" stroke-width="1.1"/>
<path d="M175.0,330.4 L179.5,332.4 L175.0,334.4 Z" stroke="none" stroke-width="0" fill="#111" />
<line x1="294.8" y1="332.4" x2="333.5" y2="332.4" stroke="#555" stroke-width="1.1"/>
<path d="M333.0,330.4 L337.5,332.4 L333.0,334.4 Z" stroke="none" stroke-width="0" fill="#111" />
<text x="360" y="9" font-size="10.5" text-anchor="start" font-weight="bold" fill="#111" stroke="#111" stroke-width="0.15" >B</text>
<text x="378.6" y="10" font-size="8.3" text-anchor="start" font-weight="bold" fill="#111" stroke="#111" stroke-width="0.15" >CLP-</text>
<text x="378.6" y="19.8" font-size="8.3" text-anchor="start" font-weight="bold" fill="#111" stroke="#111" stroke-width="0.15" >derived</text>
<text x="378.6" y="29.6" font-size="8.3" text-anchor="start" font-weight="bold" fill="#111" stroke="#111" stroke-width="0.15" >LC</text>
<rect x="434" y="1.2" width="69.5" height="70.0" stroke="#9a9a9a" stroke-width="0.8" fill="none"/>
<line x1="434" y1="1.2" x2="434" y2="71.2" stroke="#666" stroke-width="0.9"/>
<line x1="434" y1="71.2" x2="503.5" y2="71.2" stroke="#333" stroke-width="1.0"/>
<text x="434.0" y="76.8" font-size="2.8" text-anchor="middle" font-weight="normal" fill="#555" >10<tspan font-size="2" dy="-1">0</tspan></text>
<text x="451.4" y="76.8" font-size="2.8" text-anchor="middle" font-weight="normal" fill="#555" >10<tspan font-size="2" dy="-1">1</tspan></text>
<text x="468.8" y="76.8" font-size="2.8" text-anchor="middle" font-weight="normal" fill="#555" >10<tspan font-size="2" dy="-1">2</tspan></text>
<text x="486.1" y="76.8" font-size="2.8" text-anchor="middle" font-weight="normal" fill="#555" >10<tspan font-size="2" dy="-1">3</tspan></text>
<text x="503.5" y="76.8" font-size="2.8" text-anchor="middle" font-weight="normal" fill="#555" >10<tspan font-size="2" dy="-1">4</tspan></text>
<text x="432.5" y="72.2" font-size="2.8" text-anchor="end" font-weight="normal" fill="#555" >10<tspan font-size="2" dy="-1">0</tspan></text>
<text x="432.5" y="54.7" font-size="2.8" text-anchor="end" font-weight="normal" fill="#555" >10<tspan font-size="2" dy="-1">1</tspan></text>
<text x="432.5" y="37.2" font-size="2.8" text-anchor="end" font-weight="normal" fill="#555" >10<tspan font-size="2" dy="-1">2</tspan></text>
<text x="432.5" y="19.7" font-size="2.8" text-anchor="end" font-weight="normal" fill="#555" >10<tspan font-size="2" dy="-1">3</tspan></text>
<text x="432.5" y="2.2" font-size="2.8" text-anchor="end" font-weight="normal" fill="#555" >10<tspan font-size="2" dy="-1">4</tspan></text>
<line x1="470.3" y1="1.2" x2="470.3" y2="71.2" stroke="#999" stroke-width="0.7"/>
<line x1="434" y1="37.7" x2="503.5" y2="37.7" stroke="#999" stroke-width="0.7"/>
<text x="435.5" y="9.9" font-size="6.0" text-anchor="start" font-weight="bold" fill="#111" stroke="#111" stroke-width="0.15" >1.79</text>
<text x="501.5" y="9.9" font-size="6.0" text-anchor="end" font-weight="bold" fill="#111" stroke="#111" stroke-width="0.15" >0</text>
<text x="435.5" y="69.8" font-size="6.0" text-anchor="start" font-weight="bold" fill="#111" stroke="#111" stroke-width="0.15" >95.2</text>
<text x="501.5" y="69.8" font-size="6.0" text-anchor="end" font-weight="bold" fill="#111" stroke="#111" stroke-width="0.15" >0</text>
<line x1="422.6" y1="9.6" x2="422.6" y2="68" stroke="#555" stroke-width="1.1"/>
<path d="M420.6,10.1 L422.6,5.6 L424.6,10.1 Z" stroke="none" stroke-width="0" fill="#111" />
<text x="418.5" y="33" font-size="7.4" text-anchor="middle" font-weight="bold" fill="#111" stroke="#111" stroke-width="0.15" transform="rotate(-90 418.5 33)">TCR<tspan font-size="4.2" dy="1.3">γδ</tspan></text>
<text x="469.4" y="85.3" font-size="7.4" text-anchor="middle" font-weight="bold" fill="#111" stroke="#111" stroke-width="0.15" >B220</text>
<line x1="443.4" y1="87.7" x2="491.2" y2="87.7" stroke="#555" stroke-width="1.1"/>
<path d="M490.7,85.7 L495.2,87.7 L490.7,89.7 Z" stroke="none" stroke-width="0" fill="#111" />
<text x="361" y="109.7" font-size="10.5" text-anchor="start" font-weight="bold" fill="#111" stroke="#111" stroke-width="0.15" >C</text>
<text x="441.2" y="106.2" font-size="7.2" text-anchor="middle" font-weight="bold" fill="#111" stroke="#111" stroke-width="0.15" >Spleen (CLP)</text>
<rect x="411.9" y="110.9" width="63.10000000000002" height="61.5" stroke="#9a9a9a" stroke-width="0.8" fill="none"/>
<line x1="411.9" y1="110.9" x2="411.9" y2="172.4" stroke="#666" stroke-width="0.9"/>
<line x1="411.9" y1="172.4" x2="475" y2="172.4" stroke="#333" stroke-width="1.0"/>
<text x="411.9" y="178.0" font-size="2.8" text-anchor="middle" font-weight="normal" fill="#555" >10<tspan font-size="2" dy="-1">0</tspan></text>
<text x="427.7" y="178.0" font-size="2.8" text-anchor="middle" font-weight="normal" fill="#555" >10<tspan font-size="2" dy="-1">1</tspan></text>
<text x="443.4" y="178.0" font-size="2.8" text-anchor="middle" font-weight="normal" fill="#555" >10<tspan font-size="2" dy="-1">2</tspan></text>
<text x="459.2" y="178.0" font-size="2.8" text-anchor="middle" font-weight="normal" fill="#555" >10<tspan font-size="2" dy="-1">3</tspan></text>
<text x="475.0" y="178.0" font-size="2.8" text-anchor="middle" font-weight="normal" fill="#555" >10<tspan font-size="2" dy="-1">4</tspan></text>
<text x="410.4" y="173.4" font-size="2.8" text-anchor="end" font-weight="normal" fill="#555" >10<tspan font-size="2" dy="-1">0</tspan></text>
<text x="410.4" y="158.0" font-size="2.8" text-anchor="end" font-weight="normal" fill="#555" >10<tspan font-size="2" dy="-1">1</tspan></text>
<text x="410.4" y="142.7" font-size="2.8" text-anchor="end" font-weight="normal" fill="#555" >10<tspan font-size="2" dy="-1">2</tspan></text>
<text x="410.4" y="127.3" font-size="2.8" text-anchor="end" font-weight="normal" fill="#555" >10<tspan font-size="2" dy="-1">3</tspan></text>
<text x="410.4" y="111.9" font-size="2.8" text-anchor="end" font-weight="normal" fill="#555" >10<tspan font-size="2" dy="-1">4</tspan></text>
<line x1="400.6" y1="126.4" x2="400.6" y2="164.8" stroke="#555" stroke-width="1.1"/>
<path d="M398.6,126.9 L400.6,122.4 L402.6,126.9 Z" stroke="none" stroke-width="0" fill="#111" />
<text x="394.9" y="138.2" font-size="6.9" text-anchor="middle" font-weight="bold" fill="#111" stroke="#111" stroke-width="0.15" transform="rotate(-90 394.9 138.2)">CD45.1</text>
<text x="441.5" y="187.4" font-size="7.4" text-anchor="middle" font-weight="bold" fill="#111" stroke="#111" stroke-width="0.15" >CD45.2</text>
<line x1="419.6" y1="190.4" x2="458.8" y2="190.4" stroke="#555" stroke-width="1.1"/>
<path d="M458.3,188.4 L462.8,190.4 L458.3,192.4 Z" stroke="none" stroke-width="0" fill="#111" />
<text x="441.8" y="206.9" font-size="7.0" text-anchor="middle" font-weight="bold" fill="#111" stroke="#111" stroke-width="0.15" >CD45.1<tspan font-size="4.2" dy="-2.6">+</tspan><tspan dy="2.6"> cells</tspan></text>
<rect x="411.8" y="209.9" width="62.0" height="63.99999999999997" stroke="#9a9a9a" stroke-width="0.8" fill="none"/>
<line x1="411.8" y1="209.9" x2="411.8" y2="273.9" stroke="#666" stroke-width="0.9"/>
<line x1="411.8" y1="273.9" x2="473.8" y2="273.9" stroke="#333" stroke-width="1.0"/>
<text x="411.8" y="279.5" font-size="2.8" text-anchor="middle" font-weight="normal" fill="#555" >10<tspan font-size="2" dy="-1">0</tspan></text>
<text x="427.3" y="279.5" font-size="2.8" text-anchor="middle" font-weight="normal" fill="#555" >10<tspan font-size="2" dy="-1">1</tspan></text>
<text x="442.8" y="279.5" font-size="2.8" text-anchor="middle" font-weight="normal" fill="#555" >10<tspan font-size="2" dy="-1">2</tspan></text>
<text x="458.3" y="279.5" font-size="2.8" text-anchor="middle" font-weight="normal" fill="#555" >10<tspan font-size="2" dy="-1">3</tspan></text>
<text x="473.8" y="279.5" font-size="2.8" text-anchor="middle" font-weight="normal" fill="#555" >10<tspan font-size="2" dy="-1">4</tspan></text>
<text x="410.3" y="274.9" font-size="2.8" text-anchor="end" font-weight="normal" fill="#555" >10<tspan font-size="2" dy="-1">0</tspan></text>
<text x="410.3" y="258.9" font-size="2.8" text-anchor="end" font-weight="normal" fill="#555" >10<tspan font-size="2" dy="-1">1</tspan></text>
<text x="410.3" y="242.9" font-size="2.8" text-anchor="end" font-weight="normal" fill="#555" >10<tspan font-size="2" dy="-1">2</tspan></text>
<text x="410.3" y="226.9" font-size="2.8" text-anchor="end" font-weight="normal" fill="#555" >10<tspan font-size="2" dy="-1">3</tspan></text>
<text x="410.3" y="210.9" font-size="2.8" text-anchor="end" font-weight="normal" fill="#555" >10<tspan font-size="2" dy="-1">4</tspan></text>
<line x1="434.1" y1="209.9" x2="434.1" y2="273.9" stroke="#999" stroke-width="0.7"/>
<line x1="411.8" y1="247.6" x2="473.8" y2="247.6" stroke="#999" stroke-width="0.7"/>
<text x="413.5" y="216.8" font-size="5.6" text-anchor="start" font-weight="bold" fill="#111" stroke="#111" stroke-width="0.15" >0.94</text>
<text x="472.5" y="216.8" font-size="5.6" text-anchor="end" font-weight="bold" fill="#111" stroke="#111" stroke-width="0.15" >0.12</text>
<text x="413.5" y="271.9" font-size="5.6" text-anchor="start" font-weight="bold" fill="#111" stroke="#111" stroke-width="0.15" >2.22</text>
<text x="472.5" y="271.9" font-size="5.6" text-anchor="end" font-weight="bold" fill="#111" stroke="#111" stroke-width="0.15" >96.7</text>
<line x1="403.2" y1="228" x2="403.2" y2="265.5" stroke="#555" stroke-width="1.1"/>
<path d="M401.2,228.5 L403.2,224 L405.2,228.5 Z" stroke="none" stroke-width="0" fill="#111" />
<text x="400.3" y="242.5" font-size="6.4" text-anchor="middle" font-weight="bold" fill="#111" stroke="#111" stroke-width="0.15" transform="rotate(-90 400.3 242.5)">TCR</text>
<text x="442.3" y="286.8" font-size="7.4" text-anchor="middle" font-weight="bold" fill="#111" stroke="#111" stroke-width="0.15" >CD19</text>
<line x1="419.7" y1="289.6" x2="459.1" y2="289.6" stroke="#555" stroke-width="1.1"/>
<path d="M458.6,287.6 L463.1,289.6 L458.6,291.6 Z" stroke="none" stroke-width="0" fill="#111" />
<text x="360" y="298" font-size="10.5" text-anchor="start" font-weight="bold" fill="#111" stroke="#111" stroke-width="0.15" >D</text>
<line x1="386.3" y1="388.1" x2="519.5" y2="388.1" stroke="#666" stroke-width="0.8"/>
<text x="383.3" y="389.6" font-size="4.0" text-anchor="end" font-weight="bold" fill="#444" stroke="#444" stroke-width="0.15" >0</text>
<line x1="386.3" y1="379.52" x2="519.5" y2="379.52" stroke="#999" stroke-width="0.8"/>
<text x="383.3" y="381.02" font-size="4.0" text-anchor="end" font-weight="bold" fill="#444" stroke="#444" stroke-width="0.15" >1</text>
<line x1="386.3" y1="370.94" x2="519.5" y2="370.94" stroke="#999" stroke-width="0.8"/>
<text x="383.3" y="372.44" font-size="4.0" text-anchor="end" font-weight="bold" fill="#444" stroke="#444" stroke-width="0.15" >2</text>
<line x1="386.3" y1="362.36" x2="519.5" y2="362.36" stroke="#999" stroke-width="0.8"/>
<text x="383.3" y="363.86" font-size="4.0" text-anchor="end" font-weight="bold" fill="#444" stroke="#444" stroke-width="0.15" >3</text>
<line x1="386.3" y1="353.78" x2="519.5" y2="353.78" stroke="#999" stroke-width="0.8"/>
<text x="383.3" y="355.28" font-size="4.0" text-anchor="end" font-weight="bold" fill="#444" stroke="#444" stroke-width="0.15" >4</text>
<line x1="386.3" y1="345.2" x2="519.5" y2="345.2" stroke="#999" stroke-width="0.8"/>
<text x="383.3" y="346.7" font-size="4.0" text-anchor="end" font-weight="bold" fill="#444" stroke="#444" stroke-width="0.15" >5</text>
<line x1="386.3" y1="336.62" x2="519.5" y2="336.62" stroke="#999" stroke-width="0.8"/>
<text x="383.3" y="338.12" font-size="4.0" text-anchor="end" font-weight="bold" fill="#444" stroke="#444" stroke-width="0.15" >6</text>
<line x1="386.3" y1="328.04" x2="519.5" y2="328.04" stroke="#999" stroke-width="0.8"/>
<text x="383.3" y="329.54" font-size="4.0" text-anchor="end" font-weight="bold" fill="#444" stroke="#444" stroke-width="0.15" >7</text>
<line x1="386.3" y1="319.46" x2="519.5" y2="319.46" stroke="#999" stroke-width="0.8"/>
<text x="383.3" y="320.96" font-size="4.0" text-anchor="end" font-weight="bold" fill="#444" stroke="#444" stroke-width="0.15" >8</text>
<line x1="386.3" y1="310.88" x2="519.5" y2="310.88" stroke="#999" stroke-width="0.8"/>
<text x="383.3" y="312.38" font-size="4.0" text-anchor="end" font-weight="bold" fill="#444" stroke="#444" stroke-width="0.15" >9</text>
<line x1="386.3" y1="302.3" x2="519.5" y2="302.3" stroke="#999" stroke-width="0.8"/>
<text x="383.3" y="303.8" font-size="4.0" text-anchor="end" font-weight="bold" fill="#444" stroke="#444" stroke-width="0.15" >10</text>
<line x1="386.3" y1="302.3" x2="386.3" y2="388.1" stroke="#888" stroke-width="0.7"/>
<line x1="519.5" y1="302.3" x2="519.5" y2="388.1" stroke="#bbb" stroke-width="0.7"/>
<rect x="394.7" y="313.02500000000003" width="10.300000000000011" height="75.075" fill="#000"/>
<rect x="405.3" y="384.49640000000005" width="9.399999999999977" height="3.6035999999999997" fill="#888"/>
<rect x="414.7" y="386.5556" width="9.300000000000011" height="1.5444" fill="#111"/>
<rect x="424" y="386.81300000000005" width="9.399999999999977" height="1.287" fill="#111"/>
<rect x="481" y="384.41060000000004" width="11.5" height="3.6894" fill="#000"/>
<rect x="492.5" y="381.92240000000004" width="9.699999999999989" height="6.1776" fill="#000"/>
<rect x="494.5" y="381.92240000000004" width="0.6" height="6.1776" fill="#fff"/>
<rect x="499.2" y="381.92240000000004" width="0.6" height="6.1776" fill="#fff"/>
<rect x="502.2" y="387.41360000000003" width="9.699999999999989" height="0.6864" fill="#777"/>
<text x="399.8" y="311.5" font-size="5.0" text-anchor="middle" font-weight="bold" fill="#111" stroke="#111" stroke-width="0.15" >1</text>
<text x="409.7" y="383.8" font-size="5.0" text-anchor="middle" font-weight="bold" fill="#111" stroke="#111" stroke-width="0.15" >2</text>
<text x="419.4" y="386" font-size="5.0" text-anchor="middle" font-weight="bold" fill="#111" stroke="#111" stroke-width="0.15" >3</text>
<text x="429.5" y="386" font-size="5.0" text-anchor="middle" font-weight="bold" fill="#111" stroke="#111" stroke-width="0.15" >4</text>
<text x="439.8" y="387.5" font-size="5.0" text-anchor="middle" font-weight="bold" fill="#111" stroke="#111" stroke-width="0.15" >5</text>
<text x="463" y="379.2" font-size="5.0" text-anchor="middle" font-weight="bold" fill="#111" stroke="#111" stroke-width="0.15" >1</text>
<text x="472.2" y="379.2" font-size="5.0" text-anchor="middle" font-weight="bold" fill="#111" stroke="#111" stroke-width="0.15" >2</text>
<text x="486.2" y="382.6" font-size="5.0" text-anchor="middle" font-weight="bold" fill="#111" stroke="#111" stroke-width="0.15" >3</text>
<text x="495.8" y="380.3" font-size="5.0" text-anchor="middle" font-weight="bold" fill="#111" stroke="#111" stroke-width="0.15" >4</text>
<text x="507" y="386.3" font-size="5.0" text-anchor="middle" font-weight="bold" fill="#111" stroke="#111" stroke-width="0.15" >5</text>
<text x="463.1" y="383.3" font-size="3.0" text-anchor="middle" font-weight="bold" fill="#222" stroke="#222" stroke-width="0.15" >ND</text>
<text x="472.3" y="383.3" font-size="3.0" text-anchor="middle" font-weight="bold" fill="#222" stroke="#222" stroke-width="0.15" >ND</text>
<rect x="489.8" y="305.4" width="26.8" height="39.0" stroke="#999" stroke-width="0.7" fill="#fff"/>
<text x="492.0" y="311.6" font-size="5.7" text-anchor="start" font-weight="bold" fill="#111" stroke="#111" stroke-width="0.15" >1 CMP</text>
<text x="492.0" y="319.3" font-size="5.7" text-anchor="start" font-weight="bold" fill="#111" stroke="#111" stroke-width="0.15" >2 GMP</text>
<text x="492.0" y="327.0" font-size="5.7" text-anchor="start" font-weight="bold" fill="#111" stroke="#111" stroke-width="0.15" >3 CLP</text>
<text x="492.0" y="334.70000000000005" font-size="5.7" text-anchor="start" font-weight="bold" fill="#111" stroke="#111" stroke-width="0.15" >4 pro-T1</text>
<text x="492.0" y="342.40000000000003" font-size="5.7" text-anchor="start" font-weight="bold" fill="#111" stroke="#111" stroke-width="0.15" >5 pro-T2</text>
<text x="418.0" y="394.5" font-size="4.6" text-anchor="middle" font-weight="normal" fill="#222" stroke="#222" stroke-width="0.15">2 weeks</text>
<text x="486.4" y="394.5" font-size="4.6" text-anchor="middle" font-weight="normal" fill="#222" stroke="#222" stroke-width="0.15">3 weeks</text>
<text x="452.3" y="401.8" font-size="5.45" text-anchor="middle" font-weight="bold" fill="#111" stroke="#111" stroke-width="0.15" >time after adoptive transfer</text>
<text x="364.6" y="339.5" font-size="5.3" text-anchor="middle" font-weight="bold" fill="#111" stroke="#111" stroke-width="0.15" transform="rotate(-90 364.6 339.5)">average LC reconstitution (%)</text>
<text x="374" y="345" font-size="5.3" text-anchor="middle" font-weight="bold" fill="#111" stroke="#111" stroke-width="0.15" transform="rotate(-90 374 345)">per 10<tspan font-size="3.5" dy="-2">5</tspan><tspan dy="2"> progenitor cells</tspan></text>
</svg>
</body></html>
